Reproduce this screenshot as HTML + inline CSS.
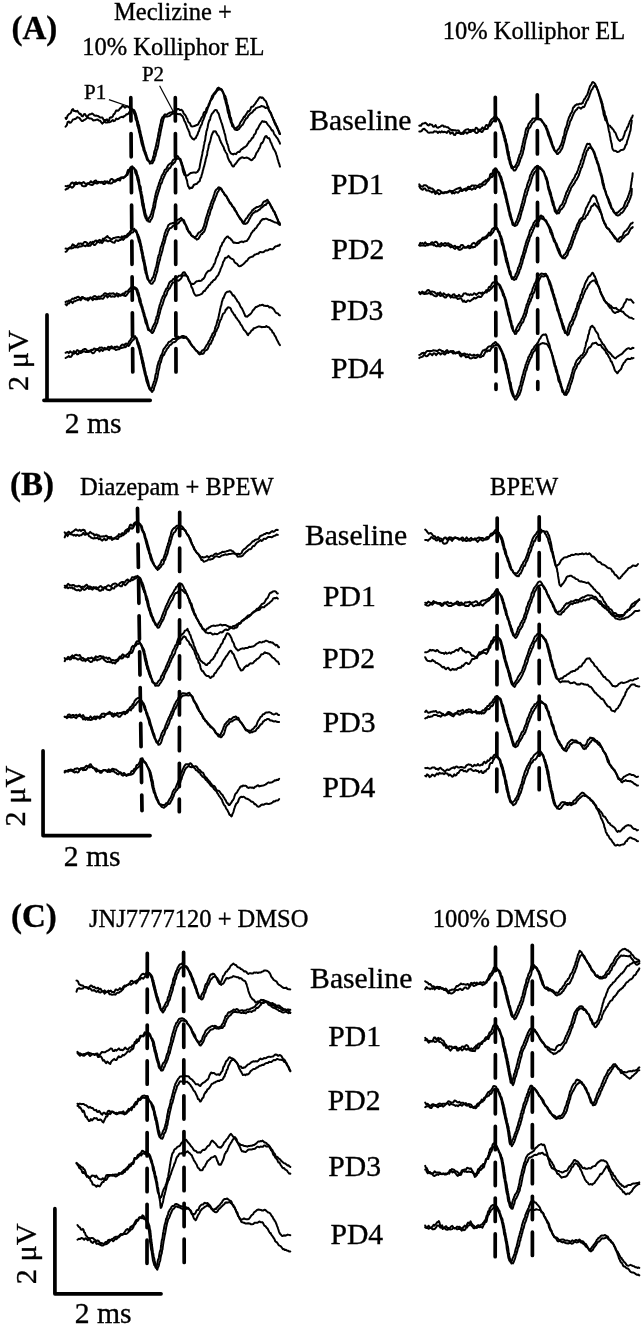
<!DOCTYPE html>
<html><head><meta charset="utf-8"><style>
html,body{margin:0;padding:0;background:#fff;}
svg{display:block;}
text{font-family:"Liberation Serif", "Times New Roman", serif;fill:#000;stroke:#000;stroke-width:0.35px;}
</style></head><body>
<svg width="644" height="1329" viewBox="0 0 644 1329">
<rect width="644" height="1329" fill="#fff"/>
<g fill="none" stroke="#000" stroke-width="2.0" stroke-linejoin="round" stroke-linecap="round">
<path d="M65.6,117.9L66.2,119.0 66.8,118.1 67.6,115.6 68.4,114.8 69.2,113.9 70.1,113.6 71.0,112.6 72.0,109.8 73.0,109.1 74.0,110.9 75.1,110.9 76.2,111.6 77.3,110.7 78.5,112.5 79.6,113.9 80.6,113.8 81.7,116.1 82.8,116.4 83.9,114.2 85.0,114.1 86.1,116.0 87.3,117.0 88.4,115.3 89.6,114.3 90.8,114.3 91.9,113.5 93.1,114.1 94.2,115.3 95.4,115.8 96.5,115.6 97.7,115.9 98.8,116.5 100.0,117.5 101.2,117.4 102.4,117.5 103.6,119.9 104.8,120.1 105.9,120.0 107.0,119.4 108.0,121.3 109.0,120.5 109.8,117.8 110.6,117.3 111.3,117.6 112.0,117.1 112.8,116.4 113.6,114.3 114.4,114.0 115.2,112.5 116.1,110.6 117.0,110.5 118.0,110.8 119.0,109.9 120.1,108.4 121.2,107.6 122.4,105.8 123.7,106.3 124.9,107.7 126.2,106.8 127.5,106.4 128.7,107.3 129.9,108.0 130.8,108.4 131.7,108.5 132.3,109.3 132.9,110.5 133.4,112.0 133.9,112.8 134.2,113.5 134.6,114.4 134.8,114.6 135.1,115.6 135.4,117.8 135.7,119.4 136.0,119.9 136.3,120.5 136.7,121.3 137.0,123.2 137.3,125.3 137.6,126.3 138.0,127.2 138.2,128.4 138.5,128.7 138.7,130.1 139.0,131.9 139.2,132.5 139.5,133.2 139.7,134.2 140.0,135.9 140.3,137.5 140.5,137.6 140.8,139.7 141.1,141.2 141.4,142.5 141.6,143.4 141.9,144.5 142.2,145.2 142.4,146.1 142.7,146.8 143.1,147.6 143.4,149.8 143.8,150.8 144.3,151.6 144.7,153.2 145.2,154.5 145.6,155.5 146.1,156.7 146.5,158.1 146.9,159.3 147.3,160.1 147.7,160.5 148.2,160.6 148.9,161.2 149.8,161.5 150.8,161.7 151.6,161.2 152.2,160.2 152.6,159.2 152.9,158.2 153.2,156.6 153.5,156.2 153.8,154.9 154.1,152.7 154.4,151.2 154.8,150.3 155.1,150.0 155.4,148.1 155.7,146.7 156.0,146.1 156.2,144.7 156.5,143.1 156.7,142.2 156.9,141.5 157.2,139.9 157.4,138.9 157.6,138.4 157.9,136.9 158.1,135.4 158.3,134.2 158.6,132.5 158.8,131.7 159.0,130.7 159.2,129.2 159.4,128.2 159.6,128.3 159.8,126.9 160.1,125.2 160.4,124.5 160.7,123.3 161.0,120.8 161.3,119.4 161.6,118.9 161.9,118.7 162.2,117.4 162.7,117.1 163.4,116.3 164.2,115.2 165.1,114.3 166.2,114.8 167.3,114.3 168.6,113.3 169.9,112.6 171.2,112.6 172.4,112.0 173.7,111.5 174.9,110.8 176.2,110.3 177.4,109.0 178.6,109.0 179.8,109.9 180.8,109.9 181.6,109.7 182.3,110.8 182.9,111.3 183.5,113.1 184.1,114.0 184.7,114.5 185.3,115.2 186.0,116.2 186.6,118.3 187.3,118.7 187.9,120.8 188.6,122.4 189.3,122.8 190.0,123.3 190.6,125.2 191.4,126.3 192.2,126.4 193.3,126.3 194.4,126.0 195.7,125.5 196.8,124.9 197.8,124.7 198.5,123.6 199.2,122.1 199.8,121.1 200.3,120.7 200.9,119.2 201.4,118.1 202.0,117.0 202.5,116.7 203.0,115.6 203.6,113.3 204.1,112.3 204.7,111.9 205.2,112.1 205.8,110.8 206.3,109.0 206.9,107.7 207.4,107.5 207.8,107.0 208.2,106.0 208.7,104.3 209.2,103.8 209.6,102.5 210.1,101.2 210.6,100.6 211.1,98.7 211.5,97.9 212.0,96.1 212.6,95.3 213.1,95.2 213.8,93.4 214.6,92.7 215.5,91.6 216.3,90.6 217.1,88.9 217.9,87.9 218.7,87.6 219.4,88.3 220.0,88.5 220.7,89.4 221.3,90.0 221.8,90.0 222.4,91.4 222.9,92.2 223.4,93.4 223.9,95.0 224.3,97.4 224.6,98.7 224.9,99.6 225.2,100.1 225.5,101.6 225.8,103.0 226.1,103.7 226.4,105.0 226.6,105.7 226.9,106.6 227.2,108.3 227.5,110.4 227.7,111.4 228.0,112.8 228.3,113.3 228.7,114.2 229.0,116.2 229.3,117.4 229.6,117.5 229.9,119.1 230.2,119.5 230.5,120.7 230.9,122.5 231.2,122.6 231.7,123.9 232.2,126.3 232.9,126.8 233.6,127.1 234.4,127.7 235.1,128.3 235.8,128.7 236.5,127.6 237.2,127.7 237.9,126.5 238.7,126.2 239.4,125.0 240.2,122.9 240.9,121.6 241.6,120.9 242.2,119.7 242.8,119.2 243.5,117.5 244.1,116.6 244.8,116.9 245.4,115.3 246.1,114.5 246.7,113.4 247.4,112.1 248.1,111.0 248.8,111.4 249.5,110.9 250.3,109.7 251.0,107.5 251.7,106.7 252.5,106.7 253.2,106.4 254.0,105.1 254.7,104.3 255.6,103.2 256.4,101.6 257.3,100.7 258.1,99.4 259.0,98.2 259.8,97.2 260.6,97.2 261.3,97.9 262.1,97.4 262.9,97.9 263.7,98.8 264.4,100.1 265.2,100.4 265.8,101.3 266.3,102.3 266.8,103.4 267.2,105.2 267.6,106.2 268.0,106.3 268.4,107.3 268.8,108.8 269.2,110.1 269.7,111.2 270.1,111.7 270.6,112.5 271.0,113.9 271.5,115.0 272.0,116.7 272.4,117.2 272.9,118.2 273.4,120.1 273.9,121.1 274.5,122.8 275.0,123.8 275.5,125.1 276.1,125.4 276.6,127.0 277.2,128.4 277.7,128.8 278.2,130.6 278.6,130.8 279.0,132.4 279.4,133.7 279.7,134.0 280.0,133.8"/><path d="M65.6,126.7L66.7,125.4 67.6,122.2 68.8,121.5 69.9,122.8 71.0,122.3 72.0,121.0 73.0,119.4 74.0,119.3 75.1,119.1 76.2,118.4 77.3,117.1 78.5,117.6 79.6,118.1 80.6,119.6 81.7,120.9 82.8,121.1 83.9,120.1 85.0,119.6 86.1,118.8 87.3,117.8 88.4,117.7 89.6,118.6 90.8,118.5 91.9,118.9 93.1,120.4 94.2,120.2 95.4,120.2 96.5,119.7 97.7,119.5 98.8,120.5 100.0,120.7 101.1,122.1 102.3,123.6 103.4,122.5 104.6,121.2 105.7,122.6 106.9,122.6 108.0,122.2 109.2,122.3 110.4,121.8 111.6,121.1 112.8,120.0 113.9,121.2 115.0,120.7 116.2,118.5 117.4,119.2 118.6,118.8 119.8,117.6 120.9,117.1 122.1,116.8 123.2,117.2 124.3,116.0 125.4,115.6 126.5,114.2 127.6,114.3 128.7,113.3 129.7,111.5 130.8,110.8 131.7,110.7 132.6,110.2 133.4,109.8 134.2,110.1 134.8,111.4 135.4,113.0 135.8,113.7 136.1,115.4 136.4,115.8 136.6,117.2 136.9,117.8 137.2,119.5 137.5,120.4 137.8,121.1 138.1,122.3 138.4,123.7 138.7,124.7 139.0,125.5 139.3,126.6 139.6,128.3 139.8,130.1 140.1,130.6 140.3,131.0 140.6,133.0 140.8,134.3 141.1,135.4 141.3,135.8 141.6,137.2 141.9,137.8 142.1,139.5 142.4,140.3 142.7,141.5 143.0,143.4 143.2,143.7 143.5,145.3 143.8,146.8 144.0,147.0 144.3,148.0 144.6,150.0 145.0,150.8 145.4,152.1 145.8,152.5 146.2,154.0 146.6,155.2 147.0,156.9 147.4,157.7 147.9,159.5 148.3,159.7 148.7,161.1 149.0,161.2 149.4,162.2 149.9,163.6 150.5,163.3 151.4,163.2 152.4,163.3 153.2,161.7 153.8,160.3 154.2,160.3 154.5,158.5 154.8,157.1 155.1,156.7 155.4,156.2 155.7,155.2 156.0,153.1 156.4,151.9 156.7,150.4 157.0,149.8 157.3,149.2 157.6,148.2 157.8,147.3 158.1,146.1 158.3,145.0 158.5,143.6 158.8,141.9 159.0,140.4 159.2,139.6 159.5,137.9 159.7,136.4 159.9,135.8 160.2,135.1 160.4,133.1 160.6,132.3 160.8,131.1 161.0,130.0 161.2,128.8 161.4,128.7 161.7,126.9 162.0,125.8 162.3,124.1 162.6,122.3 162.9,121.7 163.2,120.2 163.5,119.0 163.8,118.1 164.3,117.4 165.0,116.6 165.8,116.6 166.7,116.2 167.8,116.4 168.9,116.1 170.2,115.5 171.5,114.1 172.8,113.8 174.1,113.4 175.3,113.7 176.6,113.8 177.8,114.1 179.1,114.2 180.2,114.1 181.2,115.0 181.9,115.8 182.5,115.9 182.9,116.8 183.4,118.2 183.8,119.1 184.3,120.9 184.8,121.4 185.2,122.1 185.7,123.4 186.2,124.6 186.7,125.8 187.1,127.3 187.6,128.4 188.2,129.4 188.7,130.9 189.3,132.0 189.8,134.3 190.4,135.9 190.9,136.6 191.5,137.2 192.0,138.2 192.6,138.9 193.1,138.8 193.6,139.5 194.2,139.6 194.7,138.7 195.3,138.1 195.8,138.1 196.3,136.7 196.9,135.6 197.4,134.9 198.0,133.1 198.5,131.5 199.0,131.2 199.4,129.4 199.8,127.9 200.3,127.5 200.7,125.9 201.1,125.1 201.6,124.8 202.0,123.4 202.5,121.3 202.9,120.6 203.4,119.6 203.8,118.4 204.3,117.1 204.7,116.3 205.1,114.6 205.6,113.7 206.0,113.0 206.4,112.4 206.9,110.4 207.3,109.8 207.7,108.2 208.1,107.4 208.6,106.2 209.0,105.3 209.4,104.6 209.8,103.1 210.2,101.5 210.7,100.3 211.2,99.5 211.7,99.4 212.3,98.4 212.8,97.7 213.4,96.1 213.9,94.2 214.5,94.2 215.1,93.7 215.8,92.7 216.7,91.2 217.8,90.0 218.9,89.5 219.9,89.5 220.8,88.9 221.6,89.4 222.2,90.3 222.8,91.8 223.4,92.9 223.9,94.2 224.5,95.2 225.0,95.6 225.5,96.6 225.9,98.1 226.2,99.0 226.5,100.3 226.8,102.0 227.1,103.5 227.4,104.4 227.7,105.6 228.0,105.8 228.2,107.5 228.5,109.5 228.8,109.7 229.1,110.8 229.3,111.5 229.6,112.8 229.9,115.3 230.3,116.9 230.6,117.4 230.9,117.7 231.2,118.9 231.5,120.2 231.8,121.9 232.1,123.0 232.5,123.6 232.8,124.5 233.3,125.1 233.8,127.1 234.5,129.1 235.2,129.7 236.0,129.4 236.7,130.1 237.5,130.1 238.3,129.2 239.1,129.0 239.9,127.6 240.8,126.6 241.7,125.3 242.5,124.9 243.2,123.7 244.0,122.2 244.7,120.6 245.4,119.7 246.1,118.4 246.8,118.2 247.5,117.6 248.2,115.8 249.0,115.1 249.7,114.2 250.6,113.3 251.4,112.8 252.4,112.3 253.2,111.1 254.1,110.0 254.9,109.7 255.8,108.3 256.9,107.9 258.0,107.4 259.1,107.1 260.2,106.8 261.3,105.9 262.4,106.3 263.5,106.4 264.5,107.1 265.5,107.9 266.5,107.8 267.5,107.6 268.3,109.1 269.0,110.6 269.6,111.7 270.1,112.3 270.6,113.1 271.1,113.3 271.6,115.4 272.1,116.5 272.6,117.4 273.1,119.0 273.6,119.9 274.1,120.0 274.6,121.9 275.1,122.9 275.6,123.4 276.1,125.1 276.6,126.1 277.2,126.9 277.7,128.6 278.1,129.2 278.6,130.7 279.0,131.5 279.4,132.1 279.7,133.2 280.0,134.0"/><path d="M65.6,186.1L66.7,186.4 67.6,185.8 68.8,185.8 70.1,185.1 71.3,182.9 72.6,182.5 73.9,184.0 75.0,182.6 76.2,182.3 77.4,183.9 78.6,183.1 79.8,183.5 81.0,183.0 82.3,182.9 83.6,182.1 84.9,183.3 86.2,184.1 87.4,183.2 88.6,183.4 89.7,182.7 90.9,181.2 92.1,182.5 93.3,182.2 94.6,180.9 95.9,180.4 97.1,182.2 98.4,181.8 99.6,182.3 100.8,182.7 102.0,182.5 103.3,182.5 104.6,181.3 105.9,181.8 107.1,181.3 108.3,182.3 109.4,181.9 110.6,179.4 111.8,178.9 112.9,179.6 114.0,181.4 115.1,180.3 116.2,180.0 117.5,179.0 118.8,178.8 120.0,178.1 121.1,177.5 122.2,177.6 123.2,177.4 124.1,177.4 124.9,176.3 125.6,175.9 126.2,174.9 126.8,173.9 127.4,171.9 128.0,170.0 128.7,170.1 129.4,169.4 130.1,168.1 130.8,167.0 131.5,166.6 132.2,166.3 132.9,167.5 133.6,168.3 134.2,168.8 134.8,169.9 135.2,172.3 135.5,173.4 135.8,173.1 136.1,174.7 136.4,175.2 136.7,175.7 137.0,177.1 137.3,179.1 137.6,180.3 137.8,180.4 138.1,182.0 138.4,182.8 138.7,184.8 139.0,185.8 139.2,187.7 139.4,188.9 139.6,189.4 139.8,190.9 140.0,191.0 140.2,191.7 140.4,193.4 140.6,194.0 140.8,195.3 141.0,197.0 141.2,198.4 141.4,198.9 141.6,200.0 141.8,202.2 142.0,203.0 142.2,204.9 142.4,205.9 142.6,206.1 142.8,207.1 143.1,208.3 143.4,209.8 143.7,211.2 144.0,212.5 144.3,214.1 144.7,215.7 145.0,216.2 145.3,217.1 145.6,218.2 146.0,218.4 146.3,219.2 146.8,220.5 147.5,220.2 148.3,219.3 149.1,217.7 149.8,217.0 150.3,216.2 150.7,214.6 151.0,214.3 151.4,213.3 151.7,211.5 152.0,210.9 152.3,209.7 152.7,208.6 153.0,207.1 153.2,206.4 153.4,205.3 153.7,203.2 153.9,202.1 154.1,202.2 154.3,201.5 154.5,199.4 154.7,198.4 155.0,197.5 155.2,196.0 155.5,194.8 155.7,193.7 156.0,192.8 156.3,191.9 156.6,190.5 157.0,189.6 157.3,188.8 157.7,186.9 158.0,186.4 158.4,185.7 158.8,183.9 159.1,182.8 159.5,182.4 159.9,180.8 160.3,179.6 160.7,179.0 161.1,178.2 161.5,176.3 162.0,175.4 162.4,174.6 162.9,174.3 163.4,173.0 163.9,172.3 164.4,170.5 165.0,169.7 165.7,169.4 166.4,168.8 167.1,167.1 167.9,165.6 168.7,164.6 169.5,164.2 170.3,163.3 171.1,163.3 171.9,162.4 172.7,160.5 173.6,159.5 174.4,159.3 175.2,158.4 176.0,157.7 176.8,156.5 177.5,156.0 178.2,156.7 178.8,158.0 179.3,158.5 179.9,159.7 180.4,161.2 180.9,162.6 181.3,163.9 181.7,165.6 182.0,165.7 182.3,166.8 182.6,169.5 183.0,171.1 183.3,172.3 183.7,172.8 184.1,174.3 184.5,175.0 185.2,174.7 186.1,175.5 187.2,175.6 188.4,174.8 189.7,173.8 190.9,172.9 192.2,172.7 193.4,172.5 194.6,172.4 195.7,172.8 196.8,172.2 197.7,171.8 198.2,170.2 198.6,170.4 198.9,169.6 199.2,169.0 199.5,168.0 199.7,166.8 200.0,165.0 200.3,163.1 200.5,162.6 200.8,160.7 201.0,159.6 201.3,158.9 201.5,157.5 201.8,156.2 202.0,155.6 202.3,153.9 202.5,152.1 202.8,150.9 203.0,150.5 203.2,149.1 203.5,148.2 203.7,146.5 203.9,145.0 204.1,144.5 204.3,143.7 204.5,141.9 204.8,141.5 205.0,140.8 205.2,139.6 205.4,138.1 205.6,135.9 205.8,135.6 206.0,134.8 206.2,132.6 206.4,131.6 206.6,130.8 206.9,130.2 207.1,129.2 207.4,128.2 207.7,127.2 208.0,124.8 208.4,123.3 208.7,122.2 209.1,120.9 209.4,120.0 209.8,120.3 210.2,119.0 210.5,116.9 210.9,116.2 211.3,115.2 211.7,114.2 212.2,113.4 213.0,112.7 213.8,111.6 214.7,110.4 215.6,109.9 216.3,110.2 216.9,110.5 217.4,111.8 217.7,112.7 218.1,112.9 218.5,113.2 218.9,114.3 219.3,115.8 219.7,117.4 220.2,118.9 220.6,119.8 221.1,121.6 221.5,122.7 221.9,123.6 222.2,124.6 222.5,125.8 222.8,127.1 223.1,127.8 223.4,129.2 223.7,129.9 224.0,130.8 224.3,132.4 224.7,133.8 225.0,134.2 225.3,135.8 225.6,137.4 225.9,139.4 226.3,140.7 226.6,141.2 226.9,143.0 227.2,144.0 227.6,144.3 227.9,145.3 228.2,146.2 228.5,148.0 228.8,149.1 229.0,150.1 229.4,150.9 229.9,151.8 230.6,153.1 231.4,153.8 232.3,153.9 233.2,154.5 234.1,153.8 235.1,153.8 236.0,154.2 236.9,152.9 237.7,152.1 238.7,151.8 239.6,151.9 240.6,150.2 241.6,149.1 242.6,149.1 243.5,147.6 244.4,147.6 245.2,146.8 246.0,146.2 246.8,145.5 247.5,144.2 248.3,143.2 249.1,141.5 249.8,141.3 250.6,140.4 251.3,139.5 252.0,138.0 252.6,138.0 253.2,137.4 253.9,135.2 254.5,134.4 255.1,134.0 255.6,133.2 256.1,131.4 256.5,130.1 257.0,129.4 257.5,129.1 258.0,128.3 258.7,126.8 259.3,125.5 260.0,124.4 260.8,123.2 261.5,122.2 262.3,121.1 263.1,121.4 263.9,121.9 264.7,121.5 265.5,122.1 266.3,122.1 267.1,123.6 267.9,124.8 268.7,125.7 269.5,126.6 270.4,127.7 271.2,129.2 271.9,130.4 272.6,130.3 273.2,131.2 273.9,133.3 274.5,134.7 275.2,135.2 275.8,136.1 276.5,137.4 277.1,137.8 277.7,138.8 278.3,139.8 278.8,141.2 279.2,141.7 279.6,142.3 280.0,143.7"/><path d="M65.6,189.6L66.7,188.8 67.6,188.7 68.8,187.4 69.9,186.4 71.0,186.9 72.0,187.8 73.0,187.1 74.0,185.9 75.1,184.1 76.2,184.1 77.4,183.3 78.6,182.7 79.8,182.6 81.0,183.6 82.3,185.9 83.6,186.3 84.9,186.2 86.2,185.7 87.4,183.8 88.6,183.6 89.7,184.4 90.9,184.8 92.1,185.0 93.3,184.4 94.6,182.4 95.9,183.2 97.1,183.6 98.4,182.8 99.6,181.9 100.8,182.2 102.0,181.8 103.3,183.9 104.6,184.0 105.9,182.8 107.1,182.2 108.3,183.4 109.4,183.0 110.6,183.5 111.8,183.3 112.9,182.1 114.0,181.6 115.1,181.8 116.2,181.0 117.5,179.8 118.8,180.0 120.0,180.5 121.1,178.1 122.3,177.4 123.4,178.2 124.4,177.0 125.3,176.7 126.1,175.8 126.8,174.9 127.5,175.0 128.3,172.7 129.1,171.7 129.9,170.5 130.7,169.9 131.5,168.5 132.3,167.8 133.1,168.0 133.8,167.7 134.5,168.7 135.2,170.0 135.8,170.1 136.4,171.0 136.8,172.6 137.1,174.4 137.4,175.0 137.7,175.3 138.0,176.3 138.3,177.2 138.6,178.5 138.9,179.3 139.2,181.4 139.4,183.2 139.7,184.5 140.0,185.6 140.3,186.7 140.6,186.6 140.8,188.0 141.0,190.2 141.2,191.0 141.4,191.7 141.6,193.4 141.8,194.3 142.0,195.4 142.2,195.8 142.4,196.8 142.6,198.2 142.8,199.1 143.0,200.8 143.2,202.7 143.4,203.0 143.6,203.3 143.8,204.4 144.0,205.9 144.2,207.8 144.4,208.4 144.7,209.1 145.0,210.5 145.3,213.0 145.6,213.8 145.9,214.6 146.3,215.5 146.6,216.7 146.9,218.2 147.2,219.8 147.6,219.9 147.9,220.4 148.4,221.5 149.1,221.6 149.9,221.9 150.7,220.0 151.4,219.2 151.9,218.5 152.3,217.2 152.6,216.8 153.0,214.9 153.3,213.2 153.6,212.0 153.9,210.3 154.3,209.4 154.6,208.3 154.8,208.1 155.0,207.1 155.3,205.3 155.5,203.5 155.7,202.6 155.9,201.5 156.1,200.3 156.3,199.5 156.6,199.1 156.8,197.1 157.1,195.9 157.3,196.0 157.6,194.8 157.9,194.0 158.3,192.3 158.7,191.6 159.0,190.2 159.4,189.2 159.8,187.9 160.2,186.2 160.6,184.3 161.0,183.5 161.4,183.6 161.8,182.8 162.2,181.6 162.7,179.6 163.1,178.8 163.6,178.0 164.0,176.8 164.5,175.9 165.0,174.6 165.5,173.7 166.0,172.6 166.6,171.3 167.3,171.2 168.0,170.2 168.7,168.2 169.5,168.4 170.3,167.7 171.1,166.1 171.9,164.5 172.7,164.5 173.5,163.0 174.3,163.0 175.2,161.6 176.0,159.5 176.8,158.7 177.6,158.8 178.4,158.5 179.1,158.8 179.7,159.3 180.3,158.9 180.8,159.7 181.3,161.9 181.8,162.5 182.2,164.5 182.6,165.0 183.0,166.9 183.4,168.1 183.7,169.2 184.1,170.1 184.5,171.5 184.8,171.9 185.1,173.3 185.3,174.2 185.6,176.1 185.9,177.2 186.1,178.0 186.4,179.1 186.7,179.6 187.1,180.9 187.4,183.0 187.7,184.4 188.0,185.9 188.3,186.4 188.7,186.5 189.0,187.5 189.5,188.7 190.2,188.4 191.0,187.6 191.9,188.0 192.8,187.0 193.7,185.0 194.7,184.5 195.6,184.1 196.6,184.1 197.6,182.9 198.5,181.9 199.3,181.4 199.8,181.0 200.2,178.9 200.5,177.9 200.8,177.9 201.2,177.4 201.5,175.8 201.8,174.6 202.1,174.1 202.5,172.6 202.8,170.6 203.1,170.1 203.5,168.2 203.8,167.0 204.1,166.5 204.4,165.0 204.7,164.1 205.0,162.3 205.3,161.8 205.6,159.9 205.9,158.5 206.2,157.9 206.4,156.7 206.7,155.9 207.0,155.3 207.2,153.7 207.4,151.5 207.7,150.7 207.9,150.0 208.1,149.0 208.4,148.2 208.6,146.7 208.8,144.9 209.1,144.3 209.3,144.2 209.6,142.8 209.9,142.2 210.2,141.4 210.6,139.6 211.0,138.1 211.3,136.5 211.7,135.0 212.1,134.4 212.5,133.1 213.0,132.5 213.4,131.4 213.9,131.6 214.4,131.5 214.9,131.3 215.4,131.3 215.9,131.6 216.5,133.2 217.0,133.9 217.6,135.1 218.2,135.5 218.8,136.5 219.4,138.1 220.0,140.2 220.5,140.9 221.1,142.7 221.6,143.4 222.1,144.4 222.6,145.3 223.1,146.4 223.5,146.8 224.0,148.4 224.5,150.1 224.9,150.3 225.4,151.7 225.8,152.3 226.3,153.0 226.7,153.5 227.2,154.7 227.7,157.2 228.2,158.5 228.7,159.5 229.3,160.8 229.9,161.9 230.4,162.0 231.0,163.4 231.5,164.4 232.1,165.4 232.6,166.4 233.2,166.6 233.9,166.3 234.6,164.6 235.4,164.1 236.1,163.2 236.9,162.1 237.7,160.9 238.6,160.0 239.5,158.6 240.4,158.5 241.4,157.4 242.5,157.3 243.7,157.9 245.0,157.9 246.2,157.6 247.5,157.8 248.7,158.4 250.0,159.4 251.2,160.2 252.3,159.8 253.3,158.5 254.1,157.9 254.7,157.5 255.2,156.0 255.7,154.9 256.3,153.3 256.8,152.4 257.3,151.9 257.9,151.1 258.5,149.8 259.0,148.5 259.6,148.1 260.2,146.5 260.8,144.3 261.4,143.1 262.1,143.2 262.7,142.3 263.4,140.8 264.0,139.1 264.7,137.5 265.3,136.4 266.0,136.1 266.6,136.2 267.2,137.5 267.8,138.1 268.4,138.2 269.0,138.1 269.5,138.9 270.1,140.5 270.7,142.4 271.3,142.9 271.9,144.9 272.5,146.2 273.0,147.4 273.5,148.9 274.0,149.2 274.5,150.3 274.9,150.9 275.4,151.8 275.9,153.0 276.3,154.6 276.8,155.7 277.2,157.1 277.7,159.5 278.1,160.2 278.5,162.0 278.8,163.0 279.2,163.9 279.5,164.8 279.7,165.9 280.0,166.6"/><path d="M65.6,248.6L66.7,248.7 67.6,248.7 68.8,248.6 70.1,247.8 71.3,247.0 72.6,244.4 73.8,245.0 75.0,246.3 76.1,245.8 77.2,245.6 78.4,243.6 79.5,243.8 80.7,243.4 81.8,244.0 83.0,243.7 84.3,242.0 85.5,242.0 86.8,242.6 88.0,244.3 89.2,243.7 90.4,242.1 91.6,243.0 92.8,241.7 94.0,242.1 95.1,240.8 96.3,240.5 97.4,242.1 98.6,240.3 99.8,239.8 100.9,241.4 102.0,240.5 103.0,238.6 104.1,239.2 105.2,237.9 106.3,237.1 107.4,236.0 108.5,237.6 109.6,237.9 110.8,239.0 112.0,239.2 113.3,238.0 114.5,237.9 115.8,237.5 117.1,237.2 118.4,237.0 119.6,237.6 120.8,237.8 121.9,236.4 122.9,237.3 123.9,236.3 124.9,235.8 125.9,236.4 126.9,235.0 127.8,233.8 128.7,233.3 129.6,232.5 130.4,230.9 131.3,230.8 132.1,229.2 132.9,229.5 133.6,229.5 134.3,228.8 134.9,230.2 135.5,230.9 136.0,232.1 136.5,232.6 136.9,233.7 137.3,235.4 137.7,237.4 138.0,237.7 138.4,239.4 138.7,241.0 139.0,242.0 139.3,242.3 139.7,243.4 140.0,244.9 140.2,246.3 140.5,246.7 140.7,248.5 140.9,250.0 141.2,251.0 141.4,251.2 141.6,253.2 141.8,253.5 142.1,254.9 142.3,256.8 142.5,258.3 142.8,258.9 143.0,260.6 143.2,261.3 143.5,261.9 143.7,262.9 143.9,263.8 144.1,264.8 144.4,266.2 144.6,268.4 144.8,269.8 145.0,269.6 145.3,270.5 145.5,272.8 145.8,273.4 146.1,274.0 146.5,275.2 146.9,277.2 147.4,278.9 147.9,279.5 148.4,280.2 148.9,280.6 149.5,281.8 150.2,280.8 150.9,280.7 151.6,280.1 152.3,278.1 152.9,277.6 153.3,277.0 153.7,275.6 154.1,274.3 154.4,272.3 154.8,271.3 155.1,270.0 155.4,269.6 155.7,267.9 156.0,267.1 156.2,266.9 156.5,265.9 156.7,264.8 156.9,263.1 157.1,262.0 157.4,261.1 157.6,259.5 157.9,257.9 158.2,256.8 158.5,255.4 158.8,254.9 159.1,254.8 159.4,253.7 159.7,251.9 160.1,250.3 160.4,248.6 160.8,247.0 161.1,246.2 161.5,245.9 161.8,244.8 162.1,243.1 162.4,242.5 162.7,241.5 163.1,240.3 163.4,239.0 163.8,237.7 164.1,236.0 164.4,235.0 164.7,233.5 165.0,232.8 165.3,232.3 165.7,231.2 166.1,229.8 166.6,229.4 167.2,228.1 167.8,226.6 168.5,224.9 169.2,224.6 170.1,223.7 171.2,223.6 172.4,223.1 173.6,223.0 174.8,222.4 176.0,221.6 177.1,220.2 178.2,219.6 179.2,219.1 180.2,218.5 181.1,217.9 181.9,218.9 182.6,219.8 183.2,220.8 183.8,222.4 184.4,223.6 185.0,224.1 185.5,225.0 186.0,225.8 186.5,227.8 186.9,229.2 187.5,229.7 188.0,230.9 188.7,232.0 189.3,232.8 190.1,233.2 190.9,234.8 191.8,235.6 192.6,236.3 193.4,236.5 194.3,237.0 195.2,237.1 196.2,236.3 197.1,235.3 198.1,233.3 198.9,232.4 199.8,232.2 200.6,231.7 201.3,230.6 202.1,230.2 202.8,229.1 203.3,227.3 203.8,226.7 204.1,225.4 204.4,224.1 204.7,223.2 205.0,222.3 205.3,221.1 205.6,219.8 205.8,218.6 206.1,218.0 206.4,217.0 206.7,216.2 207.0,215.1 207.4,213.7 207.7,213.2 208.1,211.1 208.4,210.3 208.8,209.3 209.2,208.3 209.5,207.1 209.9,206.9 210.3,205.3 210.6,203.8 211.0,203.3 211.4,201.8 211.7,201.2 212.1,200.0 212.5,199.3 212.9,198.8 213.2,197.5 213.6,195.9 213.9,195.2 214.3,194.1 214.7,192.5 215.2,191.1 215.7,190.5 216.3,189.5 217.0,189.0 217.7,188.4 218.4,187.4 219.1,187.2 219.8,188.2 220.5,187.8 221.3,188.8 222.1,190.7 222.9,191.9 223.6,192.3 224.2,193.9 224.9,195.3 225.6,195.6 226.3,196.4 226.9,197.2 227.6,198.5 228.3,200.4 229.0,200.9 229.6,202.6 230.3,203.6 230.9,203.9 231.5,204.5 232.2,206.2 232.8,206.6 233.3,207.2 233.9,208.2 234.5,209.9 235.1,210.3 235.7,210.9 236.4,212.1 237.0,212.9 237.6,214.5 238.3,215.5 238.9,216.4 239.7,218.3 240.4,219.4 241.2,219.4 242.0,220.7 242.8,221.4 243.6,222.5 244.3,222.0 245.0,220.4 245.7,219.1 246.5,218.1 247.2,217.9 247.9,216.1 248.6,215.2 249.3,214.3 250.0,213.6 250.7,212.7 251.5,211.8 252.2,210.3 253.0,210.0 253.9,208.9 254.9,208.4 255.9,207.6 257.0,207.0 258.1,206.9 259.2,206.4 260.3,205.8 261.2,205.6 262.2,204.5 263.0,202.6 263.8,201.7 264.6,201.3 265.3,201.4 266.1,200.9 266.8,200.1 267.5,199.7 268.1,201.1 268.7,201.7 269.3,202.8 269.9,204.2 270.5,205.2 271.1,206.4 271.7,208.1 272.3,208.6 272.9,209.8 273.5,211.3 274.0,211.5 274.6,212.7 275.1,214.4 275.7,214.9 276.3,216.9 276.8,218.0 277.4,218.6 277.9,219.6 278.4,221.4 278.8,222.4 279.2,222.2 279.6,223.1 279.9,224.1"/><path d="M65.6,251.8L66.7,251.3 67.6,249.9 68.8,248.3 69.9,247.4 71.0,248.6 72.0,248.2 73.0,248.1 74.0,247.1 75.0,247.4 76.1,246.5 77.2,247.5 78.4,247.3 79.5,246.3 80.7,246.4 81.8,246.3 83.0,245.1 84.3,245.8 85.5,246.2 86.8,245.0 88.0,245.9 89.2,245.8 90.4,245.7 91.6,244.0 92.8,243.2 94.0,244.9 95.1,245.0 96.3,243.5 97.4,242.0 98.6,242.0 99.8,242.7 100.9,242.1 102.0,243.1 103.0,241.8 104.1,240.2 105.2,240.6 106.3,240.1 107.4,241.3 108.5,241.3 109.6,240.5 110.8,241.0 112.0,241.8 113.3,242.6 114.5,242.7 115.8,240.2 117.1,240.5 118.3,241.0 119.6,240.1 120.8,239.9 122.0,238.7 123.1,239.9 124.3,238.7 125.4,237.1 126.6,237.4 127.7,236.2 128.7,235.2 129.7,234.7 130.7,233.3 131.7,232.6 132.7,232.6 133.6,231.6 134.4,230.3 135.2,230.7 135.9,230.2 136.6,231.3 137.1,233.1 137.6,234.0 138.1,234.7 138.5,235.9 138.9,236.9 139.3,237.9 139.6,239.9 140.0,240.0 140.3,241.5 140.6,243.3 140.9,244.3 141.3,246.1 141.6,246.7 141.8,248.7 142.1,249.9 142.3,250.7 142.5,251.9 142.8,252.6 143.0,254.2 143.2,255.4 143.4,256.1 143.7,257.2 143.9,258.7 144.1,259.3 144.4,260.1 144.6,262.0 144.8,262.8 145.1,264.2 145.3,265.7 145.5,266.0 145.7,266.8 146.0,268.2 146.2,270.1 146.4,271.0 146.6,271.9 146.9,273.5 147.1,275.1 147.4,275.3 147.7,276.6 148.1,278.7 148.5,279.7 149.0,280.5 149.5,281.9 150.0,282.9 150.5,283.1 151.1,283.7 151.8,283.7 152.5,283.6 153.2,282.1 153.9,281.3 154.5,280.6 154.9,279.3 155.3,277.4 155.7,276.4 156.0,274.9 156.4,273.8 156.7,272.9 157.0,272.3 157.3,271.3 157.6,269.1 157.8,267.4 158.1,266.9 158.3,265.4 158.5,264.5 158.7,264.4 159.0,262.7 159.2,262.0 159.5,260.7 159.8,260.3 160.1,259.0 160.4,256.7 160.7,255.8 161.0,255.8 161.3,254.3 161.7,252.7 162.0,252.0 162.4,250.8 162.7,249.1 163.1,247.5 163.4,245.9 163.7,244.9 164.0,243.8 164.3,243.4 164.7,242.3 165.0,240.4 165.4,239.5 165.7,237.6 166.0,236.5 166.3,236.2 166.6,235.3 166.9,234.9 167.3,233.7 167.7,232.5 168.2,230.8 168.8,230.3 169.4,228.5 170.1,228.2 170.8,228.1 171.6,227.4 172.5,226.6 173.4,225.5 174.5,225.3 175.5,224.8 176.6,223.5 177.6,223.7 178.7,222.9 179.8,221.3 180.8,220.7 181.8,219.8 182.7,219.4 183.4,220.1 184.0,220.2 184.6,222.2 185.1,223.6 185.6,224.1 186.1,225.7 186.6,226.0 187.1,227.7 187.6,228.4 188.1,230.1 188.5,230.7 189.1,231.9 189.6,231.7 190.3,232.7 190.9,234.8 191.7,235.8 192.5,236.4 193.4,236.6 194.2,237.5 195.0,238.3 195.9,238.5 196.8,239.7 197.8,239.2 198.7,238.4 199.7,236.9 200.5,235.2 201.4,234.1 202.2,234.0 202.9,232.6 203.7,232.1 204.4,231.1 204.9,229.9 205.4,228.2 205.8,227.1 206.1,226.6 206.4,225.1 206.7,224.4 207.0,222.8 207.3,221.6 207.6,220.4 208.0,219.7 208.3,218.3 208.6,216.8 208.9,215.8 209.3,215.3 209.7,214.7 210.0,212.9 210.4,211.2 210.8,210.2 211.1,209.2 211.5,208.7 211.9,208.0 212.2,206.5 212.6,204.8 213.0,203.8 213.4,202.8 213.8,201.7 214.2,200.7 214.6,200.3 215.0,198.7 215.4,197.7 215.8,196.7 216.3,195.7 216.7,194.6 217.3,192.8 217.9,191.9 218.6,191.0 219.3,189.2 220.0,189.3 220.7,189.1 221.4,189.0 222.1,190.0 222.9,192.0 223.7,192.7 224.5,194.2 225.2,194.6 225.8,195.5 226.5,196.2 227.2,198.0 227.9,199.3 228.5,199.7 229.2,201.2 229.9,202.6 230.6,202.8 231.2,203.9 231.9,205.4 232.5,206.4 233.1,206.6 233.8,207.8 234.4,208.1 234.9,209.2 235.5,211.1 236.1,211.2 236.7,213.1 237.3,214.3 238.0,215.2 238.6,216.3 239.2,217.1 239.9,217.6 240.5,218.7 241.3,219.7 242.0,221.8 242.8,223.0 243.6,223.7 244.4,223.5 245.2,224.0 245.9,223.5 246.6,223.5 247.3,222.8 248.1,221.9 248.8,220.3 249.5,219.0 250.2,217.9 250.9,216.1 251.6,215.5 252.3,214.0 253.1,213.3 253.8,212.5 254.6,212.5 255.5,211.0 256.5,211.5 257.5,211.1 258.6,210.0 259.7,209.6 260.8,208.1 261.9,207.4 262.9,206.6 263.9,205.7 264.9,204.9 265.8,204.9 266.7,203.3 267.5,203.2 268.4,202.7 269.1,202.7 269.7,203.5 270.3,204.3 270.9,206.2 271.6,206.7 272.2,207.8 272.8,209.1 273.4,210.3 274.0,211.1 274.6,211.8 275.1,212.9 275.6,214.9 276.1,215.3 276.6,216.8 277.1,218.6 277.6,219.7 278.1,221.3 278.5,222.2 278.9,222.6 279.3,222.9 279.6,224.2 279.9,225.0"/><path d="M65.6,301.9L66.7,301.3 67.6,301.8 68.8,300.4 70.1,300.7 71.3,299.8 72.6,298.6 73.8,298.9 75.0,297.8 76.1,297.9 77.2,296.9 78.4,296.7 79.5,297.9 80.7,298.7 81.8,297.0 83.0,297.1 84.3,298.6 85.5,299.5 86.8,298.5 88.0,298.1 89.2,298.9 90.4,297.2 91.6,298.4 92.7,297.2 93.9,296.2 95.1,296.1 96.2,296.8 97.3,297.8 98.5,296.4 99.6,296.8 100.7,296.7 101.8,295.8 102.9,295.4 104.0,293.8 105.1,293.2 106.3,293.6 107.5,294.6 108.7,293.9 109.9,293.3 111.1,293.8 112.3,293.4 113.4,293.2 114.6,294.5 115.8,294.4 116.9,293.3 118.1,294.0 119.4,294.4 120.7,295.2 122.0,294.5 123.3,293.3 124.5,294.0 125.6,291.7 126.8,291.5 127.9,291.3 128.9,289.5 129.9,288.8 130.9,287.4 131.8,287.4 132.7,287.1 133.5,286.8 134.2,287.2 134.9,287.2 135.4,288.5 136.0,289.6 136.5,290.7 136.9,291.9 137.3,293.6 137.6,294.8 137.9,295.2 138.2,296.2 138.5,296.7 138.8,298.6 139.1,300.1 139.4,301.7 139.7,302.5 140.0,302.8 140.3,303.9 140.6,305.2 141.0,305.6 141.3,307.0 141.6,307.7 141.9,308.6 142.3,309.9 142.6,311.9 143.0,312.3 143.3,313.4 143.6,315.0 144.0,316.6 144.3,316.9 144.6,318.3 145.0,320.0 145.3,321.7 145.7,322.9 146.0,323.8 146.4,323.9 146.7,324.9 147.2,326.3 147.7,328.6 148.3,330.1 148.9,330.0 149.6,330.5 150.2,330.7 150.7,330.6 151.3,330.5 151.8,329.8 152.3,328.2 152.8,326.7 153.4,325.9 153.9,324.7 154.4,323.8 154.9,323.1 155.3,321.7 155.6,320.3 155.9,319.4 156.2,318.3 156.6,316.5 156.9,316.5 157.2,315.5 157.5,314.4 157.8,313.0 158.2,311.2 158.5,309.8 158.8,308.4 159.1,307.9 159.4,306.1 159.7,304.9 160.1,304.1 160.4,303.0 160.8,302.0 161.2,300.4 161.6,299.2 162.0,298.3 162.4,297.3 162.8,296.6 163.2,295.6 163.6,295.7 164.0,294.5 164.4,292.7 164.9,291.6 165.4,290.7 165.9,289.5 166.4,288.4 167.0,288.5 167.5,287.8 168.0,286.1 168.6,284.7 169.2,283.1 169.8,282.1 170.5,281.6 171.1,281.0 171.9,280.9 172.8,279.4 173.7,278.8 174.8,279.6 175.8,278.6 176.9,277.4 177.8,277.0 178.7,275.8 179.6,275.7 180.6,275.7 181.5,274.8 182.4,273.6 183.2,272.4 184.0,272.2 184.8,272.5 185.5,273.9 186.1,274.8 186.8,276.1 187.4,276.5 188.0,277.5 188.6,279.6 189.2,281.1 189.9,282.0 190.5,283.0 191.1,283.9 191.8,284.2 192.6,283.8 193.6,284.0 194.7,283.2 195.8,281.9 197.0,281.2 198.2,281.0 199.3,280.7 200.4,280.9 201.5,280.6 202.4,279.3 203.2,279.0 203.9,278.3 204.7,277.0 205.4,274.9 206.2,273.4 207.0,272.4 207.8,271.4 208.7,270.7 209.6,270.7 210.4,270.4 211.2,269.4 212.0,268.0 212.7,267.2 213.3,266.3 213.8,264.4 214.2,264.1 214.6,263.7 215.0,262.5 215.4,261.2 215.8,259.5 216.2,258.1 216.6,257.7 217.0,256.4 217.5,255.9 217.9,255.1 218.3,253.2 218.7,252.2 219.1,251.9 219.6,250.5 220.0,248.4 220.5,246.9 220.9,246.1 221.4,246.0 221.9,244.7 222.4,242.7 222.9,242.5 223.5,241.9 224.2,240.3 225.0,238.8 225.9,238.0 226.9,236.7 227.9,236.4 228.8,237.8 229.7,238.1 230.5,238.6 231.3,239.9 232.1,240.4 232.8,241.9 233.6,242.7 234.5,242.5 235.4,242.8 236.4,243.0 237.6,242.9 238.7,242.9 239.9,242.1 241.0,241.8 242.1,241.5 243.2,242.2 244.2,241.5 245.3,241.2 246.2,241.0 247.1,240.7 247.8,239.4 248.5,238.9 249.2,237.4 249.9,236.2 250.6,234.9 251.3,233.2 252.0,232.6 252.7,231.4 253.4,230.4 254.1,230.4 254.8,228.9 255.5,228.4 256.2,228.0 256.9,226.8 257.6,225.5 258.3,224.7 259.0,223.9 259.8,223.0 260.5,221.2 261.3,220.6 262.2,219.5 263.3,219.0 264.4,219.2 265.6,218.7 266.8,218.8 267.8,219.4 268.8,220.0 269.8,219.9 270.9,220.5 272.0,221.0 273.1,221.5 274.3,222.2 275.6,222.4 276.9,222.9 278.0,223.5 278.9,224.4 279.9,224.6"/><path d="M65.6,304.3L66.7,305.4 67.6,303.5 68.8,303.6 70.1,301.8 71.3,301.8 72.6,303.1 73.8,301.2 75.0,301.3 76.1,300.7 77.2,300.2 78.4,299.8 79.5,299.3 80.7,300.3 81.8,298.6 83.0,298.3 84.3,297.9 85.5,298.5 86.8,299.4 88.0,300.5 89.2,299.1 90.4,298.0 91.6,298.7 92.7,300.3 93.9,298.5 95.1,299.2 96.2,299.0 97.3,299.2 98.5,298.5 99.6,298.9 100.7,298.5 101.8,298.6 102.9,298.9 104.0,297.6 105.1,295.7 106.3,295.5 107.5,297.4 108.7,296.2 109.9,295.3 111.1,296.8 112.3,296.3 113.4,296.6 114.6,296.8 115.8,295.3 116.9,295.6 118.1,296.6 119.4,295.2 120.7,295.8 122.0,294.5 123.3,295.4 124.4,295.7 125.6,295.9 126.7,295.0 127.8,293.4 128.9,292.0 129.9,291.3 130.8,291.1 131.8,290.2 132.7,289.0 133.6,289.2 134.4,288.6 135.2,288.4 136.0,288.1 136.7,288.6 137.4,289.5 138.0,291.3 138.5,292.6 138.9,294.0 139.2,295.2 139.5,297.0 139.8,298.1 140.1,298.2 140.4,299.3 140.7,300.4 141.0,302.4 141.3,304.0 141.6,304.2 141.9,305.8 142.2,306.3 142.6,307.1 142.9,309.1 143.2,309.8 143.5,310.6 143.9,312.1 144.2,313.1 144.6,314.5 144.9,315.8 145.2,316.9 145.6,318.2 145.9,318.9 146.2,319.6 146.6,320.7 146.9,322.1 147.3,323.8 147.6,325.0 148.0,326.5 148.3,327.3 148.8,328.8 149.3,330.4 149.9,330.4 150.5,331.2 151.2,332.1 151.8,332.8 152.3,333.0 152.9,332.7 153.4,331.5 153.9,331.0 154.4,328.9 155.0,328.3 155.5,326.6 156.0,325.7 156.5,323.7 156.9,323.7 157.2,322.9 157.5,322.0 157.8,320.2 158.2,318.6 158.5,318.4 158.8,316.6 159.1,314.9 159.4,314.4 159.8,313.2 160.1,311.9 160.4,310.2 160.7,309.2 161.0,308.8 161.3,307.6 161.7,306.1 162.0,305.5 162.4,304.9 162.8,303.7 163.2,302.2 163.6,300.9 164.0,299.7 164.4,298.5 164.8,297.5 165.2,296.8 165.6,295.7 166.0,295.5 166.5,294.6 167.0,293.0 167.5,291.1 168.0,290.4 168.6,289.5 169.1,288.3 169.6,288.5 170.2,287.4 170.8,286.0 171.4,285.1 172.1,283.5 172.7,282.6 173.5,282.5 174.4,282.3 175.3,281.5 176.4,280.2 177.4,280.6 178.5,280.7 179.4,279.9 180.3,279.3 181.2,278.3 182.2,276.3 183.1,275.4 184.0,275.3 184.8,275.5 185.6,274.8 186.2,275.7 186.8,276.2 187.4,276.5 187.9,277.8 188.4,279.5 189.0,280.5 189.5,281.1 190.0,282.6 190.4,283.0 190.9,284.4 191.3,286.5 191.8,287.6 192.2,288.0 192.7,289.1 193.2,290.9 193.7,292.5 194.2,293.4 194.8,294.6 195.3,295.1 196.0,295.7 196.9,295.6 197.9,295.2 198.9,295.0 200.0,294.6 201.1,294.1 202.2,293.6 203.1,292.0 204.0,290.9 204.8,291.0 205.5,289.7 206.2,288.8 206.9,287.7 207.7,287.5 208.4,285.9 209.1,285.0 209.9,284.7 210.6,283.5 211.4,282.3 212.2,282.2 213.0,280.8 213.8,279.9 214.6,279.9 215.4,279.0 216.1,277.8 216.8,276.3 217.5,276.0 218.2,275.0 218.7,274.0 219.2,272.5 219.7,271.8 220.1,270.6 220.6,268.9 221.0,268.1 221.3,267.3 221.8,266.5 222.2,265.4 222.7,263.8 223.2,261.8 223.8,261.1 224.4,260.1 225.0,258.2 225.6,257.8 226.2,257.8 226.9,257.5 227.6,256.9 228.5,255.9 229.4,256.9 230.4,258.2 231.5,258.7 232.5,259.0 233.5,259.7 234.4,261.8 235.3,262.8 236.2,263.3 237.1,263.8 238.0,265.2 238.8,266.0 239.7,266.3 240.6,266.1 241.5,265.4 242.5,264.8 243.5,264.0 244.4,263.1 245.3,262.3 246.2,261.0 247.1,260.7 247.9,259.4 248.9,258.1 249.8,257.5 250.8,257.1 251.8,256.8 252.9,256.5 254.1,255.1 255.2,254.5 256.3,254.1 257.3,253.7 258.3,253.8 259.4,252.5 260.5,251.9 261.6,252.2 262.7,252.3 263.7,252.0 264.8,251.0 265.9,250.3 267.1,250.6 268.2,250.1 269.3,249.3 270.4,249.1 271.5,249.3 272.7,249.2 273.8,248.3 275.0,246.7 276.1,246.3 277.3,246.0 278.3,245.5 279.1,245.8 279.9,244.6"/><path d="M65.6,352.8L66.7,352.2 67.6,351.9 68.8,353.1 70.1,351.3 71.3,352.3 72.6,353.0 73.8,351.1 75.0,351.8 76.1,351.7 77.2,350.1 78.4,350.7 79.5,351.5 80.7,351.1 81.8,351.1 83.0,349.6 84.3,349.1 85.5,348.9 86.8,350.2 88.0,351.3 89.2,350.7 90.3,350.6 91.5,349.8 92.7,350.1 93.9,348.5 95.0,348.8 96.2,350.0 97.3,350.1 98.4,348.9 99.5,347.6 100.5,347.7 101.6,347.5 102.7,347.9 103.8,348.8 104.9,347.8 106.0,349.2 107.1,349.0 108.1,346.8 109.2,347.1 110.4,347.3 111.5,346.3 112.6,347.4 113.7,348.5 114.8,346.8 116.0,347.2 117.2,346.4 118.4,347.4 119.7,348.0 120.9,345.8 122.1,344.6 123.2,344.7 124.3,345.4 125.3,343.9 126.3,343.5 127.2,344.0 128.0,343.9 128.8,342.1 129.6,340.9 130.5,340.0 131.3,338.3 132.1,337.6 133.0,336.5 133.7,336.6 134.4,336.9 135.0,336.1 135.5,337.3 136.0,338.3 136.4,338.9 136.8,340.5 137.2,343.1 137.6,344.4 137.9,344.5 138.3,346.3 138.6,347.6 138.8,347.7 139.1,348.8 139.3,349.2 139.6,350.7 139.9,352.4 140.1,353.6 140.4,354.8 140.7,355.1 141.0,356.6 141.2,358.5 141.4,359.3 141.7,360.0 141.9,361.2 142.1,363.1 142.4,363.6 142.6,364.0 142.9,366.1 143.1,366.8 143.4,367.9 143.6,368.9 143.9,370.3 144.2,371.3 144.4,372.2 144.7,373.8 145.0,374.6 145.4,376.4 145.7,377.0 146.1,379.2 146.4,380.8 146.8,381.8 147.2,383.1 147.6,383.9 148.0,385.6 148.4,386.3 148.8,387.1 149.2,388.8 149.6,388.9 149.9,389.2 150.3,390.0 150.8,389.4 151.2,389.1 151.7,388.0 152.1,387.7 152.6,385.8 153.0,384.3 153.4,384.0 153.8,381.9 154.2,381.4 154.6,380.3 155.0,378.3 155.3,376.1 155.5,374.9 155.8,374.2 156.0,373.5 156.2,373.0 156.4,372.3 156.6,370.2 156.8,368.7 157.0,368.0 157.3,366.4 157.5,365.3 157.8,365.0 158.0,364.1 158.4,362.1 158.8,361.4 159.2,360.8 159.6,359.6 160.0,358.1 160.4,357.4 160.9,355.6 161.3,355.1 161.8,354.4 162.3,353.4 162.8,351.6 163.3,349.8 163.9,348.7 164.5,348.3 165.1,347.2 165.7,346.6 166.4,345.3 167.1,345.1 167.8,343.6 168.6,342.2 169.5,341.7 170.3,341.5 171.1,340.9 172.0,339.9 172.9,339.0 173.9,339.0 174.9,339.1 175.9,338.3 177.0,337.9 178.1,336.6 179.4,337.3 180.7,336.9 182.0,336.1 183.2,335.9 184.2,336.2 185.2,337.0 186.1,336.7 186.8,338.0 187.5,338.8 188.1,339.5 188.6,341.0 189.2,342.0 189.8,342.3 190.5,343.9 191.2,344.8 192.0,345.8 192.8,346.8 193.7,347.1 194.6,348.6 195.5,349.6 196.4,351.0 197.3,351.1 198.2,352.4 199.1,352.7 200.1,352.6 201.1,352.2 202.1,350.4 203.0,350.1 203.8,349.5 204.7,348.6 205.6,347.1 206.4,345.4 207.1,344.6 207.7,344.1 208.2,342.6 208.7,341.5 209.2,340.9 209.6,340.2 210.1,339.1 210.6,337.6 211.1,337.3 211.5,336.0 212.0,335.2 212.5,333.5 212.9,333.6 213.4,332.7 213.9,332.2 214.3,331.4 214.8,329.8 215.2,327.6 215.7,326.5 216.1,325.5 216.5,324.9 216.8,323.1 217.1,321.9 217.4,320.7 217.7,319.9 218.0,320.1 218.2,319.1 218.5,317.1 218.8,316.1 219.0,314.6 219.3,313.4 219.6,312.1 219.8,311.1 220.1,309.5 220.3,308.4 220.5,307.7 220.8,306.3 221.1,305.7 221.4,304.9 221.8,302.3 222.1,301.1 222.4,300.8 222.8,298.9 223.1,298.1 223.6,298.1 224.1,296.7 224.8,294.8 225.5,293.3 226.4,292.4 227.2,291.7 228.0,291.7 228.9,291.5 229.6,291.2 230.4,291.6 231.0,292.4 231.7,293.4 232.3,294.7 233.0,295.6 233.6,295.2 234.3,296.1 234.9,297.0 235.6,298.4 236.3,299.2 236.9,300.1 237.5,301.6 238.1,301.9 238.6,302.4 239.2,303.5 239.8,304.9 240.3,306.2 240.9,307.2 241.5,307.8 242.0,308.5 242.6,309.8 243.1,310.9 243.6,312.0 244.2,313.6 244.7,314.5 245.2,316.1 245.8,316.6 246.5,316.3 247.1,316.7 247.9,316.0 248.6,315.4 249.4,314.8 250.3,314.2 251.1,313.3 252.0,312.0 252.9,310.3 253.8,309.6 254.7,308.4 255.7,307.1 256.7,306.9 257.6,306.3 258.6,306.1 259.6,305.1 260.6,305.4 261.7,305.0 262.8,304.7 263.9,305.7 265.0,305.7 266.2,306.1 267.3,305.7 268.4,306.1 269.5,307.6 270.6,307.1 271.7,307.6 272.8,308.4 273.9,309.4 275.0,311.5 276.1,312.9 277.1,313.2 278.2,313.7 279.0,315.0 279.9,315.4"/><path d="M65.6,358.0L66.7,357.3 67.6,356.9 68.8,355.9 69.9,356.9 71.0,356.8 72.0,355.4 73.0,353.6 74.0,353.7 75.0,352.9 76.1,352.7 77.2,354.4 78.4,354.0 79.5,351.7 80.7,353.0 81.8,352.6 83.0,351.5 84.3,351.2 85.5,352.0 86.8,351.7 88.0,352.1 89.2,351.8 90.3,350.6 91.5,352.2 92.7,353.2 93.9,353.0 95.0,351.5 96.2,349.5 97.3,348.9 98.4,349.7 99.5,351.5 100.5,350.1 101.6,350.0 102.7,351.0 103.8,349.6 104.9,349.6 106.0,349.1 107.1,348.2 108.1,349.5 109.2,350.1 110.3,348.3 111.4,348.1 112.6,348.4 113.7,347.7 114.8,349.0 115.9,350.0 117.0,349.6 118.2,349.2 119.4,349.3 120.5,347.6 121.7,348.0 122.7,347.6 123.8,347.6 124.8,346.5 125.7,347.2 126.7,345.5 127.6,345.2 128.5,346.0 129.2,345.5 130.1,343.8 130.9,342.6 131.8,341.3 132.7,340.3 133.6,339.6 134.5,338.2 135.3,337.5 136.0,337.8 136.6,338.0 137.1,339.5 137.6,340.9 138.0,341.9 138.4,342.7 138.8,343.8 139.2,345.1 139.6,346.0 139.9,347.9 140.2,348.6 140.4,349.3 140.7,350.0 140.9,351.6 141.2,353.0 141.5,354.0 141.7,355.8 142.0,356.7 142.3,357.2 142.6,358.9 142.8,360.5 143.0,361.2 143.3,362.0 143.5,362.4 143.7,364.0 144.0,365.3 144.2,366.4 144.5,367.6 144.7,369.1 145.0,370.2 145.2,371.2 145.5,371.9 145.8,373.6 146.0,375.4 146.3,375.7 146.6,376.0 147.0,377.2 147.3,379.1 147.7,379.9 148.0,381.1 148.4,382.6 148.8,384.7 149.2,386.7 149.6,387.3 150.0,388.1 150.4,389.0 150.8,389.9 151.2,390.6 151.5,391.5 151.9,392.0 152.4,391.6 152.8,390.7 153.3,390.4 153.7,389.7 154.2,387.5 154.6,386.2 155.0,385.5 155.4,384.3 155.8,382.9 156.2,381.6 156.6,380.6 156.9,379.1 157.1,378.5 157.4,377.6 157.6,375.9 157.8,375.2 158.0,374.1 158.2,372.9 158.4,370.8 158.6,370.7 158.9,369.8 159.1,369.0 159.4,367.8 159.6,365.8 159.9,364.8 160.3,363.1 160.6,362.7 161.0,362.0 161.4,359.9 161.8,358.7 162.2,357.3 162.6,356.4 163.0,355.5 163.4,354.7 163.9,355.1 164.4,354.1 164.9,352.4 165.5,351.7 166.1,350.7 166.7,349.5 167.3,348.5 168.0,348.0 168.7,346.9 169.4,345.6 170.2,344.9 171.1,344.5 171.9,343.6 172.7,342.4 173.6,342.2 174.5,342.2 175.5,341.6 176.5,340.4 177.5,339.1 178.6,338.8 179.6,338.0 180.7,337.5 181.8,337.5 182.9,337.7 183.9,338.0 184.9,337.8 185.9,337.6 186.8,338.5 187.7,339.1 188.4,339.7 189.1,340.2 189.7,341.2 190.2,342.2 190.8,343.7 191.4,344.4 192.1,345.3 192.8,346.3 193.6,347.3 194.4,348.6 195.3,349.7 196.2,350.7 197.1,351.2 198.0,352.6 198.9,353.8 199.8,354.4 200.7,354.1 201.7,353.3 202.7,353.9 203.7,353.3 204.6,351.3 205.4,350.6 206.3,350.0 207.2,349.6 208.0,348.4 208.7,346.7 209.3,345.4 209.8,344.4 210.3,343.6 210.8,343.7 211.2,342.9 211.7,341.0 212.2,340.6 212.7,339.7 213.1,337.7 213.6,336.9 214.1,336.0 214.5,335.7 215.0,334.4 215.5,332.0 215.9,331.2 216.4,331.1 216.8,329.9 217.3,328.7 217.7,328.1 218.2,327.1 218.6,326.1 219.1,323.9 219.5,322.3 219.9,321.8 220.3,320.1 220.8,319.7 221.2,319.1 221.6,317.5 222.1,316.4 222.6,314.7 223.2,313.6 223.8,313.3 224.5,312.8 225.1,311.6 225.8,309.4 226.5,309.4 227.1,308.3 227.8,307.4 228.5,307.3 229.2,307.6 229.9,307.7 230.7,308.4 231.4,310.5 232.1,311.6 232.9,312.6 233.6,313.9 234.2,315.0 234.9,315.1 235.5,316.8 236.1,317.8 236.7,318.1 237.4,319.3 238.0,320.1 238.6,320.7 239.3,321.9 240.0,322.9 240.8,324.8 241.5,325.1 242.2,326.5 242.9,327.8 243.6,329.4 244.2,330.2 244.9,330.6 245.5,331.5 246.1,332.1 246.7,333.0 247.3,334.3 248.0,335.2 248.7,333.8 249.4,333.2 250.1,332.9 250.9,331.4 251.8,330.2 252.7,330.0 253.6,328.3 254.7,328.2 255.8,327.7 257.0,327.1 258.2,326.6 259.5,326.5 260.7,326.8 261.9,327.2 263.0,326.9 264.2,327.1 265.3,326.9 266.4,326.1 267.4,327.0 268.3,327.1 269.1,327.4 269.8,328.4 270.5,329.6 271.2,329.8 271.9,330.6 272.6,332.6 273.3,332.7 273.9,333.6 274.6,335.5 275.3,336.2 275.9,337.3 276.6,339.2 277.3,340.7 277.9,341.4 278.5,343.0 279.0,343.8 279.5,344.4 279.9,345.1"/><path d="M419.3,125.8L420.2,125.5 421.0,125.7 422.0,124.0 423.1,123.4 424.3,123.3 425.4,122.7 426.6,123.8 427.7,125.0 428.8,125.5 429.8,124.1 430.9,124.5 432.0,124.8 433.2,126.8 434.4,126.5 435.6,125.1 436.8,127.4 438.0,127.8 439.2,127.0 440.5,126.6 441.8,125.4 442.9,125.4 444.0,126.8 445.0,126.3 446.0,126.8 447.1,127.3 448.2,127.3 449.2,128.6 450.4,129.3 451.5,130.4 452.7,130.0 453.9,130.2 455.1,130.3 456.3,130.7 457.5,130.4 458.7,130.6 459.9,132.8 461.0,133.4 462.2,132.9 463.4,132.0 464.7,130.5 465.8,129.7 467.0,129.4 468.1,129.1 469.2,130.4 470.3,130.0 471.4,130.5 472.5,129.7 473.6,130.8 474.8,130.2 475.9,127.7 477.0,128.1 478.1,130.0 479.2,129.6 480.4,130.3 481.5,128.6 482.5,127.4 483.5,128.5 484.5,128.4 485.5,126.3 486.4,124.9 487.3,125.2 488.2,126.3 489.1,124.8 489.9,122.0 490.6,120.9 491.4,119.6 492.1,118.8 492.9,118.8 493.8,117.2 494.8,117.0 495.8,116.9 496.8,117.3 497.7,118.8 498.3,119.2 498.8,120.6 499.2,121.0 499.6,122.2 500.0,123.1 500.4,124.6 500.8,126.9 501.2,128.0 501.6,128.6 501.9,130.3 502.3,130.6 502.6,131.9 502.9,133.7 503.2,134.5 503.5,135.1 503.8,137.1 504.1,137.5 504.4,138.6 504.6,140.5 504.9,141.2 505.2,142.0 505.5,142.8 505.7,144.1 506.0,145.9 506.3,146.8 506.5,148.3 506.7,149.3 507.0,150.7 507.2,152.5 507.4,153.1 507.6,154.3 507.9,155.6 508.1,155.6 508.3,156.6 508.5,158.8 508.8,159.7 509.1,159.8 509.4,161.0 509.8,163.2 510.3,164.8 510.7,165.2 511.2,167.2 511.6,168.2 512.1,168.3 512.7,168.1 513.4,167.4 514.3,166.8 515.1,166.9 515.8,165.1 516.4,164.2 516.9,162.8 517.3,162.3 517.8,160.9 518.2,159.0 518.6,157.7 519.0,157.2 519.3,155.3 519.7,154.5 520.0,154.2 520.4,153.7 520.7,152.3 521.0,150.7 521.4,150.1 521.7,147.9 522.0,146.3 522.3,145.7 522.5,144.9 522.7,143.2 523.0,142.2 523.2,141.4 523.5,140.4 523.7,138.7 524.0,137.8 524.3,137.6 524.5,136.7 524.8,135.1 525.1,133.9 525.3,132.5 525.7,130.6 526.1,129.0 526.5,128.1 527.0,128.2 527.5,127.2 528.0,126.2 528.5,124.0 529.0,123.7 529.5,122.9 530.1,122.2 530.8,120.9 531.6,120.6 532.5,118.8 533.3,118.5 534.2,118.5 535.2,118.4 536.3,118.0 537.5,118.1 538.7,118.7 539.6,119.2 540.4,119.1 541.1,120.2 541.9,121.5 542.7,122.3 543.4,122.8 544.0,124.4 544.6,125.5 545.0,126.1 545.4,126.9 545.8,127.7 546.3,129.1 546.7,130.1 547.1,130.7 547.5,132.7 548.0,134.6 548.4,135.7 548.7,136.4 549.1,137.0 549.5,138.4 549.9,139.3 550.3,140.4 550.7,142.0 551.1,142.5 551.5,144.1 551.9,144.6 552.3,146.1 552.7,147.1 553.2,147.9 553.9,149.7 554.6,150.7 555.4,151.7 556.3,152.2 557.0,150.9 557.8,149.6 558.5,149.1 559.3,148.4 559.9,146.6 560.4,145.6 560.8,145.6 561.2,144.3 561.6,142.9 562.0,142.1 562.4,140.2 562.7,139.2 563.1,137.5 563.3,136.8 563.6,136.5 563.9,135.8 564.2,134.5 564.5,132.6 564.7,131.5 565.0,130.0 565.4,128.6 565.7,128.1 566.0,127.7 566.4,126.7 566.7,125.4 567.1,124.3 567.4,122.2 567.8,120.7 568.2,119.9 568.6,118.6 569.0,117.3 569.4,116.6 569.9,115.9 570.3,114.6 570.8,113.4 571.3,113.0 571.9,112.1 572.5,110.0 573.0,108.0 573.6,107.0 574.2,107.0 574.8,105.4 575.4,105.4 576.1,104.8 577.1,104.2 578.1,104.6 579.3,103.8 580.3,103.8 581.2,103.9 582.0,103.1 582.6,103.3 583.2,101.7 583.7,100.3 584.2,99.2 584.8,98.9 585.4,97.8 585.9,96.8 586.5,95.8 587.1,95.0 587.6,94.0 588.1,92.2 588.7,90.2 589.2,89.0 589.7,87.2 590.3,85.7 590.8,85.2 591.4,84.5 592.0,82.9 592.5,82.2 593.0,82.1 593.6,82.5 594.0,82.6 594.5,83.2 594.9,83.9 595.4,84.3 595.8,85.7 596.2,86.8 596.7,87.0 597.1,89.1 597.6,90.2 598.0,90.6 598.4,92.3 598.9,94.2 599.3,95.9 599.7,96.5 600.0,98.0 600.4,99.6 600.7,100.8 601.0,101.9 601.2,102.4 601.5,103.5 601.8,104.2 602.1,106.1 602.3,107.7 602.6,108.7 602.8,109.8 603.1,110.5 603.4,112.7 603.6,114.3 603.9,115.3 604.2,115.8 604.5,116.9 604.8,117.5 605.1,119.2 605.4,120.2 605.9,120.3 606.4,120.9 607.1,122.6 607.8,124.1 608.5,125.2 609.3,125.5 610.0,125.7 610.8,127.2 611.6,127.4 612.3,128.9 613.0,129.2 613.7,130.3 614.4,131.9 615.0,132.2 615.7,133.3 616.3,135.2 617.0,136.9 617.6,138.3 618.2,139.2 618.9,140.2 619.5,140.4 620.0,141.0 620.6,140.0 621.2,139.8 621.7,139.8 622.2,139.1 622.7,138.7 623.2,137.6 623.6,136.3 624.1,135.4 624.6,133.6 625.1,131.8 625.6,130.8 626.1,130.4 626.6,129.3 627.1,127.4 627.6,127.1 628.1,126.3 628.6,124.5 629.2,123.1 629.7,121.5 630.3,120.7 630.8,119.8 631.2,118.7 631.7,117.3 632.1,117.5 632.4,116.5 632.7,115.4"/><path d="M419.3,131.5L420.5,131.5 421.7,130.9 422.9,129.1 424.2,128.7 425.5,130.0 426.7,130.8 428.0,132.5 429.3,132.7 430.6,132.4 431.9,132.4 433.1,132.4 434.4,131.2 435.6,131.6 436.8,131.6 438.0,133.0 439.2,131.5 440.5,132.5 441.8,131.2 443.0,132.2 444.3,131.7 445.7,132.1 446.9,133.0 448.1,131.0 449.2,131.3 450.4,133.8 451.5,133.0 452.7,132.4 453.9,134.8 455.1,134.9 456.3,132.8 457.5,133.0 458.7,132.7 459.9,133.4 461.0,134.1 462.2,133.4 463.4,134.0 464.7,132.3 465.8,132.3 467.0,133.6 468.1,132.5 469.2,132.0 470.3,132.1 471.4,131.5 472.5,130.7 473.6,129.9 474.8,131.8 475.9,132.9 477.0,132.9 478.1,131.9 479.2,131.0 480.3,131.1 481.5,132.1 482.5,131.7 483.6,129.7 484.6,129.2 485.6,129.0 486.6,128.9 487.5,128.8 488.4,126.9 489.3,125.1 490.1,125.8 490.9,124.4 491.6,123.3 492.3,121.9 493.1,121.3 493.9,120.5 494.7,120.0 495.5,118.5 496.3,118.5 497.1,118.4 497.9,119.3 498.7,119.4 499.4,120.5 499.9,121.8 500.4,123.0 500.8,123.2 501.2,124.5 501.6,125.3 502.0,126.5 502.4,128.2 502.8,130.1 503.2,130.9 503.5,132.4 503.9,132.7 504.2,134.4 504.5,134.9 504.8,135.7 505.1,137.7 505.4,139.1 505.7,139.0 506.0,140.4 506.2,142.4 506.5,143.1 506.8,143.8 507.1,144.6 507.3,145.9 507.6,148.1 507.9,150.1 508.1,151.2 508.3,151.4 508.6,151.7 508.8,153.3 509.0,155.3 509.2,156.6 509.5,157.2 509.7,157.7 509.9,159.0 510.1,160.1 510.4,161.1 510.7,162.0 511.0,164.1 511.4,165.3 511.9,165.5 512.3,166.8 512.8,168.6 513.2,169.1 513.7,170.4 514.3,170.4 515.0,170.4 515.9,169.6 516.7,167.8 517.4,166.6 518.0,165.6 518.5,165.2 518.9,164.0 519.4,162.2 519.8,161.8 520.2,160.1 520.6,158.5 520.9,158.0 521.3,157.8 521.6,156.4 522.0,155.6 522.3,155.1 522.6,154.0 523.0,152.4 523.3,150.6 523.6,149.8 523.9,149.2 524.1,148.0 524.3,146.4 524.6,144.8 524.8,143.6 525.1,142.9 525.3,141.3 525.6,139.4 525.9,139.1 526.1,138.5 526.4,137.3 526.7,136.3 526.9,135.1 527.3,133.6 527.7,132.5 528.1,130.6 528.6,129.0 529.1,128.2 529.6,127.5 530.1,127.5 530.6,126.5 531.1,125.3 531.7,124.3 532.4,122.7 533.2,122.3 534.1,121.7 534.9,120.4 535.8,119.5 536.8,119.2 537.9,119.1 539.1,119.5 540.3,119.2 541.2,119.5 542.0,120.6 542.7,122.0 543.5,123.1 544.3,124.0 545.0,125.3 545.6,125.5 546.2,125.9 546.6,127.5 547.0,128.5 547.4,129.3 547.9,130.9 548.3,131.7 548.7,132.7 549.1,134.2 549.6,136.0 550.0,136.1 550.3,137.4 550.7,138.4 551.1,139.4 551.5,140.8 551.9,142.0 552.3,144.2 552.7,145.1 553.1,146.2 553.5,146.6 553.9,147.9 554.3,149.4 554.8,150.7 555.5,151.1 556.2,152.5 557.0,153.9 557.9,154.1 558.6,152.9 559.4,152.5 560.1,151.8 560.9,150.3 561.5,149.4 562.0,148.5 562.4,147.7 562.8,146.2 563.2,144.9 563.6,143.4 564.0,142.5 564.4,140.8 564.7,139.8 565.0,138.5 565.3,137.2 565.6,135.8 565.9,134.8 566.2,134.1 566.6,132.4 566.9,131.1 567.2,130.8 567.6,129.4 567.9,129.0 568.3,127.5 568.7,126.1 569.0,125.7 569.4,124.5 569.8,122.4 570.2,121.0 570.6,120.7 571.0,120.1 571.5,118.8 572.0,117.8 572.5,116.2 573.1,115.1 573.7,113.5 574.3,112.5 574.9,111.5 575.6,110.5 576.2,109.8 576.9,109.4 577.7,108.0 578.7,107.4 579.7,107.7 580.9,108.6 581.9,107.8 582.8,106.8 583.6,107.2 584.2,106.8 584.8,105.7 585.3,104.1 585.8,103.3 586.4,101.6 587.0,100.3 587.5,100.2 588.1,99.1 588.7,97.3 589.2,96.6 589.7,94.5 590.3,93.3 590.8,91.7 591.3,90.5 591.9,89.5 592.4,89.1 593.0,87.6 593.6,86.4 594.1,85.8 594.6,85.8 595.2,86.6 595.6,86.5 596.1,86.3 596.6,87.6 597.0,88.4 597.5,89.3 598.0,90.5 598.4,92.0 598.9,93.5 599.4,94.4 599.8,95.8 600.2,96.9 600.6,98.3 601.0,99.1 601.4,100.2 601.7,101.6 602.1,102.9 602.5,103.7 602.8,105.4 603.0,106.2 603.3,107.5 603.5,108.5 603.8,109.8 604.0,110.5 604.3,111.1 604.6,112.1 604.8,113.6 605.1,115.0 605.4,115.9 605.7,115.9 605.9,116.6 606.2,117.7 606.5,118.8 606.8,119.9 607.1,121.1 607.4,122.6 607.7,124.0 608.0,126.1 608.3,127.5 608.6,129.3 608.8,130.5 609.0,131.4 609.3,132.4 609.5,132.3 609.7,133.8 609.9,136.0 610.2,136.8 610.4,137.7 610.6,139.6 610.8,140.6 611.1,141.8 611.3,142.6 611.5,143.4 611.8,144.4 612.0,146.3 612.3,148.0 612.6,149.0 613.1,149.8 614.0,150.8 615.0,150.7 616.1,151.1 617.2,152.1 618.4,151.8 619.5,151.4 620.6,150.3 621.8,149.9 622.8,149.8 623.7,149.3 624.3,148.6 624.8,147.5 625.3,145.9 625.7,145.0 626.1,144.8 626.6,143.9 627.0,141.8 627.4,140.2 627.8,139.5 628.2,138.3 628.6,136.7 629.0,135.4 629.3,134.5 629.6,133.6 629.9,131.9 630.2,131.3 630.4,130.8 630.7,129.1 630.9,127.0 631.0,125.7 631.2,124.3 631.3,124.1 631.5,122.9 631.6,121.4 631.7,121.1 631.8,120.5"/><path d="M419.3,184.4L420.4,185.8 421.5,186.4 422.7,186.7 423.9,185.2 425.1,185.2 426.3,185.5 427.5,186.5 428.6,188.1 429.7,187.5 430.8,188.6 431.9,188.5 433.0,189.1 434.2,190.4 435.4,192.0 436.6,191.5 437.8,190.0 439.0,190.3 440.2,190.6 441.5,192.4 442.7,192.6 443.9,192.4 445.1,192.3 446.3,192.2 447.5,192.6 448.6,191.9 449.8,190.5 451.0,191.5 452.1,190.9 453.3,191.0 454.5,190.2 455.6,189.3 456.8,188.8 458.0,188.6 459.1,188.0 460.2,187.6 461.4,189.4 462.5,189.8 463.7,190.0 464.8,189.0 465.9,188.4 467.1,188.2 468.3,186.7 469.5,187.4 470.6,186.7 471.8,185.5 473.0,185.4 474.1,186.0 475.3,185.4 476.5,185.8 477.6,186.0 478.8,185.1 479.8,184.2 480.9,184.4 482.0,183.4 483.1,182.4 484.1,181.6 485.0,181.1 485.8,180.0 486.6,180.9 487.4,180.9 488.1,178.8 488.8,178.6 489.5,177.9 490.1,174.7 490.7,173.9 491.4,174.6 492.0,173.8 492.7,172.1 493.3,170.1 494.0,169.6 494.6,169.7 495.3,169.6 495.9,169.4 496.5,169.2 497.1,170.6 497.7,171.3 498.3,172.6 498.8,173.4 499.3,175.4 499.6,176.2 499.9,176.9 500.2,177.3 500.5,178.8 500.8,180.0 501.1,181.1 501.4,182.0 501.8,183.5 502.1,184.2 502.4,185.1 502.7,186.3 503.0,188.0 503.3,188.4 503.6,189.5 503.9,190.6 504.2,192.6 504.5,193.9 504.8,194.8 505.1,195.4 505.4,197.0 505.6,198.0 505.9,198.7 506.2,200.0 506.5,202.3 506.7,202.5 507.0,203.5 507.3,204.8 507.6,206.3 507.9,207.0 508.1,208.5 508.4,209.8 508.7,211.2 508.9,211.3 509.2,212.6 509.4,214.1 509.7,215.8 510.1,216.4 510.4,217.5 510.8,219.0 511.2,219.8 511.7,220.8 512.1,222.8 512.5,224.6 513.0,225.0 513.5,224.6 514.2,225.0 514.9,224.5 515.6,222.7 516.3,221.5 516.9,220.0 517.4,218.6 517.8,217.5 518.1,216.5 518.5,215.4 518.9,214.0 519.2,213.1 519.6,211.8 519.9,211.4 520.3,210.1 520.6,208.3 520.9,208.0 521.1,206.3 521.4,205.4 521.7,204.4 522.1,202.9 522.4,201.6 522.7,200.5 523.0,199.2 523.3,198.7 523.6,197.0 523.9,196.4 524.2,194.7 524.5,193.5 524.9,192.4 525.2,190.8 525.5,189.8 525.8,189.2 526.1,188.5 526.5,188.2 526.8,187.1 527.2,184.7 527.5,183.9 527.9,182.6 528.3,182.1 528.7,180.6 529.1,180.0 529.5,178.4 529.9,176.3 530.3,175.0 530.7,174.5 531.1,174.2 531.6,172.5 532.1,171.6 532.8,170.4 533.5,169.4 534.2,168.8 535.0,167.3 535.7,167.0 536.5,166.7 537.3,166.6 538.2,166.3 539.1,167.0 540.1,167.2 540.9,168.1 541.7,169.1 542.3,170.4 543.0,171.3 543.6,171.1 544.1,172.1 544.5,173.9 544.8,175.5 545.2,176.1 545.5,177.0 545.8,178.8 546.1,179.1 546.4,179.7 546.7,180.7 547.0,182.1 547.3,184.1 547.6,184.7 547.8,186.5 548.1,188.1 548.4,189.4 548.7,190.1 549.0,190.8 549.4,192.3 549.7,193.9 550.1,194.8 550.4,195.4 550.7,196.8 551.0,197.2 551.3,198.8 551.7,201.1 552.0,201.8 552.4,202.8 552.7,204.7 553.1,205.5 553.5,205.8 553.8,206.9 554.2,208.4 554.5,209.8 554.8,211.3 555.2,211.4 555.7,212.5 556.4,212.5 557.3,211.2 558.1,210.6 559.0,209.0 559.8,207.1 560.5,205.7 561.3,205.1 562.0,204.7 562.7,203.0 563.2,201.4 563.6,200.5 564.0,199.6 564.4,198.2 564.8,197.3 565.2,195.8 565.6,195.4 566.0,193.5 566.4,192.2 566.9,191.8 567.3,190.7 567.8,190.2 568.2,188.7 568.7,187.6 569.2,186.8 569.8,185.1 570.3,184.6 570.9,183.5 571.5,182.4 572.1,181.8 572.7,179.9 573.3,179.6 574.0,178.1 574.6,177.5 575.2,175.6 575.8,174.2 576.3,174.0 576.7,173.6 577.2,171.7 577.6,170.8 578.0,169.8 578.5,168.2 578.9,167.2 579.3,165.5 579.7,165.0 580.1,164.3 580.5,162.7 580.8,161.2 581.2,160.1 581.6,159.9 581.9,158.7 582.3,158.1 582.6,156.6 582.8,154.7 583.1,154.7 583.4,154.0 583.7,152.8 584.1,151.6 584.5,150.2 585.1,148.9 585.6,147.6 586.2,146.1 586.8,144.5 587.4,143.7 588.1,144.1 588.8,144.0 589.6,143.8 590.4,145.4 591.1,146.7 591.8,147.9 592.3,149.4 592.8,150.4 593.2,150.9 593.6,152.3 594.0,153.1 594.4,154.2 594.8,155.4 595.2,157.2 595.6,158.0 596.0,159.5 596.4,160.0 596.7,161.4 597.1,162.9 597.4,163.6 597.8,163.9 598.1,164.5 598.4,166.1 598.7,167.3 599.0,169.1 599.3,170.4 599.7,171.6 600.0,172.0 600.3,172.9 600.5,174.3 600.8,175.5 601.0,175.6 601.3,176.7 601.5,177.9 601.8,179.3 602.1,180.8 602.3,182.7 602.6,183.3 602.9,185.0 603.2,185.4 603.5,186.4 603.8,188.4 604.2,188.4 604.5,189.3 604.9,190.4 605.3,191.6 605.7,193.1 606.1,194.0 606.5,194.9 606.9,196.0 607.3,197.9 607.7,198.2 608.1,199.4 608.6,201.2 609.0,202.8 609.5,203.7 610.0,204.9 610.5,206.2 611.1,207.6 611.6,208.6 612.1,208.6 612.7,209.5 613.2,211.2 613.8,212.1 614.5,212.7 615.2,213.3 616.1,212.7 617.2,212.9 618.3,212.1 619.4,211.1 620.5,209.9 621.4,209.0 622.3,208.5 623.0,207.8 623.6,207.1 624.2,205.4 624.6,204.5 625.1,202.8 625.5,202.1 626.0,200.8 626.4,200.8 626.9,200.0 627.3,198.3 627.8,197.7 628.2,196.1 628.7,194.8 629.1,193.5 629.5,192.7 629.8,191.3 630.1,191.0 630.3,189.9 630.5,188.6 630.7,187.6 630.9,185.8 631.2,184.5 631.3,183.1 631.5,181.6 631.7,181.3 631.9,179.1 632.1,177.9 632.2,177.9 632.4,177.0 632.5,175.5 632.6,174.5 632.7,173.2"/><path d="M419.3,186.2L420.4,188.3 421.5,189.1 422.7,189.8 423.9,188.4 425.1,188.6 426.3,190.4 427.5,190.6 428.6,190.2 429.7,191.3 430.8,191.6 431.9,192.5 433.0,191.3 434.2,192.0 435.4,194.0 436.6,193.0 437.8,192.8 439.0,194.3 440.2,193.7 441.5,192.4 442.7,193.2 443.9,193.3 445.1,192.2 446.3,192.8 447.5,191.7 448.6,191.6 449.8,191.0 451.0,191.7 452.1,193.5 453.3,192.6 454.5,193.4 455.6,192.1 456.8,192.2 458.0,192.8 459.1,191.8 460.2,190.1 461.4,190.9 462.5,190.9 463.7,189.3 464.8,189.1 465.9,190.8 467.1,189.9 468.3,188.7 469.5,188.9 470.6,188.7 471.8,189.8 473.0,188.9 474.1,187.9 475.3,189.0 476.5,187.4 477.6,187.0 478.8,186.7 479.8,187.8 480.9,186.4 482.0,186.1 483.1,184.6 484.1,184.7 485.0,184.6 485.9,183.4 486.7,182.2 487.5,181.4 488.4,180.5 489.1,179.7 489.9,177.8 490.7,177.5 491.5,176.7 492.3,177.0 493.0,175.9 493.8,173.3 494.6,172.2 495.4,172.0 496.1,171.1 496.8,170.1 497.5,171.2 498.1,172.1 498.7,172.1 499.4,173.0 499.9,174.6 500.5,176.2 500.9,176.4 501.2,177.1 501.5,178.0 501.8,179.6 502.1,180.5 502.4,181.3 502.7,182.4 503.0,183.1 503.4,184.9 503.7,187.1 504.0,187.8 504.3,188.6 504.6,190.4 504.9,190.8 505.2,191.5 505.5,192.3 505.8,193.6 506.1,194.9 506.4,196.4 506.7,198.4 507.0,198.9 507.2,199.9 507.5,201.8 507.8,203.3 508.1,203.7 508.3,205.2 508.6,205.9 508.9,207.2 509.2,208.7 509.5,210.4 509.7,211.3 510.0,212.0 510.3,213.4 510.5,213.8 510.8,214.9 511.0,216.6 511.3,217.3 511.7,218.5 512.0,219.3 512.4,221.3 512.8,222.3 513.3,223.2 513.7,225.1 514.1,225.6 514.6,225.9 515.1,226.0 515.8,225.6 516.5,225.2 517.2,224.7 517.9,222.8 518.5,221.6 519.0,220.9 519.4,220.0 519.7,218.9 520.1,218.2 520.5,216.4 520.8,215.2 521.2,213.9 521.5,212.3 521.9,211.2 522.2,210.3 522.5,209.9 522.7,208.3 523.0,207.6 523.3,206.1 523.7,205.4 524.0,204.3 524.3,202.9 524.6,202.4 524.9,201.0 525.2,199.4 525.5,197.6 525.8,196.8 526.1,195.7 526.5,195.0 526.8,194.7 527.1,193.4 527.4,191.2 527.7,190.9 528.1,190.4 528.4,188.6 528.8,187.0 529.1,186.7 529.5,185.5 529.9,185.0 530.3,183.8 530.7,182.6 531.1,181.2 531.5,179.0 531.9,178.6 532.3,176.9 532.7,175.6 533.2,175.0 533.7,174.1 534.4,172.3 535.1,171.8 535.8,171.3 536.6,170.0 537.3,169.0 538.1,168.3 538.9,168.7 539.8,168.1 540.7,168.9 541.7,169.5 542.5,169.8 543.3,171.7 543.9,172.0 544.6,173.9 545.2,175.2 545.7,176.2 546.1,177.0 546.4,177.3 546.8,178.2 547.1,179.4 547.4,181.1 547.7,181.2 548.0,182.5 548.3,184.9 548.6,186.1 548.9,187.1 549.2,188.3 549.4,188.8 549.7,189.9 550.0,190.6 550.3,192.0 550.6,192.1 551.0,193.7 551.3,195.4 551.7,196.8 552.0,197.5 552.3,198.9 552.6,200.5 552.9,200.9 553.3,201.5 553.6,202.8 554.0,205.2 554.3,206.2 554.7,207.2 555.1,208.5 555.4,209.1 555.8,210.1 556.1,211.2 556.4,212.3 556.8,213.7 557.3,213.3 558.0,213.0 558.9,213.3 559.7,211.7 560.6,209.6 561.4,209.3 562.1,208.5 562.9,207.5 563.6,206.6 564.3,204.9 564.8,203.6 565.2,203.3 565.6,202.4 566.0,201.2 566.4,199.3 566.8,198.4 567.2,197.8 567.6,196.4 568.0,195.5 568.5,194.4 568.9,193.6 569.4,192.1 569.8,191.2 570.3,190.5 570.8,188.7 571.4,187.4 571.9,186.9 572.5,185.6 573.1,185.3 573.7,184.0 574.3,183.7 574.9,182.3 575.6,180.7 576.2,180.2 576.8,179.4 577.4,178.1 577.9,177.2 578.3,176.1 578.8,175.6 579.2,173.8 579.6,173.0 580.1,171.1 580.5,170.3 580.9,168.7 581.3,167.7 581.7,167.5 582.1,166.9 582.4,165.1 582.8,164.0 583.2,163.2 583.5,162.1 583.9,160.5 584.2,159.4 584.4,159.0 584.7,157.6 585.0,156.3 585.3,156.0 585.7,155.2 586.1,153.1 586.7,151.1 587.2,150.4 587.8,150.1 588.4,148.2 589.1,147.5 589.8,147.9 590.6,147.4 591.6,148.7 592.5,149.0 593.3,150.3 593.9,151.6 594.4,152.2 594.8,153.9 595.2,154.8 595.6,156.3 596.0,157.3 596.4,157.7 596.8,159.8 597.2,161.1 597.6,161.5 598.0,162.8 598.3,163.6 598.7,165.1 599.0,166.6 599.4,167.2 599.7,168.2 600.0,169.1 600.3,171.1 600.6,172.3 600.9,173.4 601.3,173.7 601.6,175.4 601.9,175.9 602.1,177.3 602.4,178.3 602.6,180.1 602.9,180.3 603.1,181.7 603.4,183.0 603.7,183.9 603.9,184.7 604.2,186.8 604.5,188.4 604.8,188.9 605.1,190.4 605.4,190.7 605.8,191.6 606.1,193.1 606.5,195.1 606.9,196.0 607.3,196.5 607.7,196.7 608.1,198.0 608.5,198.5 608.9,199.6 609.3,201.0 609.7,201.9 610.2,202.8 610.7,204.5 611.2,206.3 611.7,207.9 612.3,209.0 612.9,209.4 613.5,210.4 614.1,212.4 614.7,212.8 615.3,213.5 616.0,214.8 616.8,215.1 617.7,215.6 618.8,215.2 619.9,214.6 621.0,212.9 622.1,212.8 623.1,211.6 623.9,210.6 624.7,209.1 625.4,208.0 626.0,207.0 626.5,206.1 627.1,206.0 627.6,203.9 628.1,202.8 628.7,202.2 629.2,200.6 629.8,199.3 630.3,198.2 630.7,196.9 631.0,195.6 631.3,195.3 631.5,194.0 631.6,192.3 631.7,191.7 631.7,190.1 631.8,188.8 631.8,188.8"/><path d="M419.3,245.1L420.3,242.8 421.2,243.7 422.4,243.0 423.8,244.2 425.2,242.4 426.6,244.0 427.9,244.1 429.0,244.5 430.2,244.4 431.3,242.4 432.4,242.3 433.6,243.2 434.7,242.2 435.8,241.8 436.9,242.2 438.0,244.1 439.1,244.6 440.3,244.1 441.5,243.0 442.6,244.5 443.7,243.8 444.9,243.0 446.0,243.6 447.1,243.6 448.3,243.2 449.4,244.4 450.6,244.5 451.7,245.5 452.9,246.7 454.0,246.2 455.1,245.8 456.3,247.3 457.4,247.8 458.5,246.9 459.7,247.4 460.9,245.2 462.1,244.9 463.3,245.7 464.5,247.7 465.8,247.5 467.0,247.0 468.2,245.8 469.4,246.2 470.5,246.7 471.7,244.4 472.8,243.3 473.9,242.8 475.0,243.6 475.9,244.1 476.9,242.8 477.8,241.7 478.7,241.1 479.7,240.2 480.7,241.1 481.6,239.2 482.6,237.8 483.6,237.6 484.6,238.1 485.5,236.6 486.5,236.8 487.4,234.9 488.3,233.8 489.1,232.5 489.9,233.6 490.7,232.7 491.4,230.7 492.1,229.1 492.9,228.7 493.7,228.0 494.4,228.1 495.2,228.2 495.9,228.0 496.5,227.7 497.1,228.4 497.7,230.8 498.3,232.2 498.8,232.3 499.2,233.6 499.6,234.9 499.8,236.2 500.1,235.9 500.4,236.9 500.7,239.2 501.0,240.1 501.3,241.1 501.6,242.7 501.8,243.7 502.1,244.8 502.4,245.2 502.7,245.9 503.0,247.0 503.3,248.7 503.6,250.4 503.9,251.3 504.2,252.4 504.5,254.1 504.8,255.5 505.1,256.5 505.4,257.4 505.6,259.2 505.9,260.6 506.2,261.8 506.5,262.6 506.8,262.5 507.1,264.2 507.4,265.2 507.7,266.4 508.1,267.7 508.4,268.4 508.8,269.8 509.1,271.8 509.4,272.3 509.7,273.8 510.1,274.7 510.5,275.2 511.0,276.4 511.5,278.0 512.0,278.9 512.5,278.5 513.2,277.7 513.8,277.3 514.5,277.4 515.2,275.9 515.8,273.9 516.3,273.7 516.7,272.6 517.1,271.5 517.4,271.0 517.8,269.1 518.1,267.7 518.6,267.1 519.0,266.4 519.5,264.8 519.9,263.5 520.2,262.8 520.6,261.4 520.8,260.5 521.2,258.7 521.5,258.3 521.8,256.7 522.2,256.2 522.5,255.4 522.9,254.0 523.2,252.5 523.6,251.3 524.0,250.2 524.3,248.4 524.7,247.0 525.0,246.2 525.4,245.0 525.7,243.3 526.1,242.7 526.4,241.6 526.7,240.3 527.0,240.2 527.3,239.4 527.7,237.7 528.1,237.1 528.6,236.0 529.1,234.1 529.5,232.4 529.8,231.1 530.2,230.0 530.6,229.6 531.0,229.4 531.5,227.5 532.0,227.3 532.5,226.2 533.1,224.9 533.6,223.0 534.3,222.4 535.0,221.1 535.7,220.7 536.6,220.0 537.5,218.7 538.5,217.6 539.5,217.1 540.4,215.8 541.3,215.6 542.0,216.7 542.8,216.4 543.5,217.4 544.2,218.7 544.9,220.3 545.5,220.9 546.2,222.1 546.8,223.2 547.4,224.2 547.9,225.2 548.5,226.3 548.9,227.5 549.4,228.4 549.8,229.6 550.1,231.5 550.5,232.6 551.0,232.8 551.4,234.4 551.8,234.3 552.2,235.7 552.6,237.5 553.0,237.8 553.4,239.5 553.9,241.2 554.4,241.8 554.9,242.4 555.4,242.9 555.8,244.6 556.3,246.0 556.8,247.5 557.3,248.4 557.8,250.1 558.3,250.9 558.8,252.4 559.3,253.6 559.8,254.0 560.4,255.7 560.9,256.0 561.4,256.5 562.0,257.4 562.6,256.9 563.2,256.2 563.9,255.1 564.5,254.4 565.2,254.1 565.9,252.8 566.5,251.7 567.1,250.5 567.8,249.1 568.3,247.6 568.8,247.1 569.2,245.6 569.7,244.2 570.1,244.2 570.5,243.1 570.9,241.1 571.3,240.8 571.6,239.5 572.0,237.8 572.4,237.1 572.8,236.3 573.2,234.4 573.6,233.6 574.0,232.0 574.5,230.9 575.0,231.0 575.4,230.0 575.9,228.4 576.4,227.1 576.9,225.3 577.4,224.2 577.9,223.5 578.3,222.8 578.8,221.7 579.3,220.4 579.9,219.5 580.7,218.5 581.5,218.2 582.4,217.6 583.1,216.5 583.6,214.9 584.1,214.1 584.5,213.9 584.8,212.3 585.2,211.2 585.7,209.3 586.1,208.0 586.6,207.2 587.1,206.7 587.6,205.2 588.2,204.3 588.8,202.6 589.4,202.1 590.0,200.9 590.6,199.0 591.3,197.6 591.9,196.8 592.5,196.2 593.1,195.3 593.7,195.2 594.3,196.3 594.9,196.8 595.5,196.6 596.1,198.1 596.7,200.1 597.3,202.0 597.8,202.9 598.3,203.9 598.6,205.3 598.9,206.4 599.3,207.3 599.6,208.4 599.9,209.5 600.3,209.8 600.6,211.7 601.0,212.4 601.3,213.6 601.7,215.0 602.0,216.4 602.4,217.7 602.7,218.7 603.1,219.3 603.5,220.4 603.9,222.0 604.4,223.5 605.0,223.7 605.6,224.3 606.2,226.4 606.8,227.7 607.5,228.4 608.1,228.8 608.7,229.0 609.4,229.6 610.0,231.5 610.7,231.9 611.4,232.5 612.1,234.0 612.8,234.5 613.6,235.9 614.3,237.5 615.0,238.6 615.6,238.7 616.3,238.9 617.1,239.6 618.0,240.0 619.0,238.5 619.9,237.4 620.6,237.1 621.4,237.2 622.1,236.4 622.9,235.2 623.6,233.0 624.3,232.3 625.0,231.2 625.8,230.9 626.5,230.4 627.2,229.2 628.0,228.4 628.7,227.4 629.4,226.1 630.2,224.7 630.9,223.6 631.6,223.5 632.1,223.3 632.7,222.6"/><path d="M419.3,245.5L420.3,245.7 421.2,245.6 422.4,245.5 423.8,245.5 425.2,245.9 426.6,245.1 427.9,245.4 429.0,243.9 430.2,244.3 431.3,244.4 432.4,244.2 433.6,245.4 434.7,244.9 435.8,246.1 436.9,246.4 438.0,244.9 439.1,246.3 440.3,246.5 441.5,245.7 442.6,244.2 443.7,245.3 444.9,246.0 446.0,245.3 447.1,245.1 448.3,245.5 449.4,246.0 450.6,247.4 451.7,246.8 452.9,247.1 454.0,248.2 455.1,249.0 456.3,247.3 457.4,246.9 458.5,249.5 459.7,249.9 460.9,249.5 462.1,248.6 463.3,247.4 464.5,247.1 465.8,247.5 467.0,247.6 468.2,246.9 469.4,248.3 470.5,248.1 471.7,246.3 472.8,247.5 473.9,246.9 475.0,246.9 475.9,245.5 476.9,245.3 477.8,244.1 478.7,243.7 479.7,242.5 480.7,240.4 481.7,239.8 482.6,239.5 483.6,239.3 484.6,238.7 485.7,238.4 486.6,238.0 487.6,236.4 488.5,235.3 489.5,235.3 490.4,235.5 491.3,234.3 492.2,233.1 493.1,232.2 494.0,230.3 495.0,229.0 495.9,228.4 496.8,228.2 497.5,228.6 498.1,230.2 498.7,231.5 499.4,231.7 499.9,233.6 500.4,235.5 500.8,236.1 501.2,236.2 501.4,237.5 501.7,238.1 502.0,238.8 502.3,239.8 502.6,241.8 502.9,243.5 503.2,243.5 503.4,244.5 503.7,245.9 504.0,246.8 504.3,248.6 504.6,250.2 504.9,250.9 505.2,251.3 505.5,252.3 505.8,254.0 506.1,256.1 506.4,257.7 506.7,258.2 507.0,258.6 507.2,259.9 507.5,261.3 507.8,262.0 508.1,263.1 508.4,264.8 508.7,266.5 509.0,267.2 509.3,269.2 509.7,270.5 510.0,270.9 510.4,271.5 510.7,272.6 511.0,274.4 511.3,275.8 511.7,276.7 512.1,277.0 512.6,278.2 513.1,278.7 513.6,279.7 514.1,280.0 514.8,279.5 515.4,279.0 516.1,279.2 516.8,277.3 517.4,276.1 517.9,275.2 518.3,274.3 518.7,273.6 519.0,272.6 519.4,271.4 519.7,269.9 520.2,269.4 520.6,268.4 521.1,266.9 521.5,265.0 521.8,264.1 522.2,263.7 522.4,262.5 522.8,260.5 523.1,259.5 523.4,258.4 523.8,258.0 524.1,256.5 524.5,255.1 524.8,253.6 525.2,252.8 525.6,252.0 525.9,250.6 526.3,248.8 526.6,247.8 527.0,246.8 527.3,245.2 527.7,244.8 528.0,243.0 528.3,242.4 528.6,241.3 528.9,241.3 529.3,239.8 529.7,237.7 530.2,236.7 530.7,236.1 531.1,235.2 531.4,234.0 531.8,233.0 532.2,232.4 532.6,231.6 533.1,230.0 533.6,228.9 534.1,228.0 534.7,226.4 535.2,225.0 535.9,224.3 536.6,223.2 537.3,222.7 538.2,221.9 539.1,220.8 540.1,218.6 541.1,217.8 542.0,218.8 542.9,218.9 543.6,219.4 544.4,219.8 545.1,220.4 545.8,220.1 546.5,221.0 547.1,222.8 547.8,224.1 548.4,224.6 549.0,226.4 549.5,226.6 550.1,227.5 550.5,228.8 551.0,229.6 551.4,230.4 551.7,231.5 552.1,232.6 552.6,234.1 553.0,236.1 553.4,237.4 553.8,238.3 554.2,238.9 554.6,240.1 555.0,240.5 555.5,242.4 556.0,243.0 556.5,243.5 557.0,244.9 557.4,246.0 557.9,247.8 558.4,248.4 558.9,249.0 559.4,250.4 559.9,251.9 560.4,254.2 560.9,255.0 561.4,256.3 562.0,257.0 562.5,257.4 563.0,258.3 563.6,258.2 564.2,257.7 564.8,258.5 565.5,257.4 566.1,256.7 566.8,255.7 567.5,255.0 568.1,252.7 568.7,250.9 569.4,249.8 569.9,249.4 570.4,249.0 570.8,247.7 571.3,247.0 571.7,245.3 572.1,244.9 572.5,243.1 572.9,242.5 573.2,240.7 573.6,239.9 574.0,239.1 574.4,238.4 574.8,236.7 575.2,235.8 575.6,233.9 576.1,233.7 576.6,232.2 577.0,231.0 577.5,230.3 578.0,228.3 578.5,227.4 579.0,226.2 579.5,224.6 579.9,223.3 580.4,222.7 580.9,221.8 581.5,221.2 582.3,219.9 583.1,218.7 584.0,218.9 584.8,218.7 585.5,217.4 586.1,215.9 586.8,215.2 587.4,215.1 588.0,213.6 588.6,212.6 589.2,210.9 589.8,210.7 590.3,209.6 590.9,207.4 591.5,206.3 592.1,206.0 592.7,205.8 593.4,204.9 594.2,203.5 595.0,203.8 595.8,205.4 596.7,206.1 597.6,207.6 598.4,208.3 599.0,209.5 599.4,209.9 599.9,211.6 600.3,212.0 600.8,212.2 601.2,213.5 601.7,214.7 602.2,216.6 602.7,218.8 603.1,220.2 603.6,221.1 604.1,221.5 604.5,223.0 605.0,224.1 605.5,225.4 606.1,226.7 606.8,227.6 607.5,228.3 608.2,228.5 608.8,229.1 609.5,230.3 610.2,231.3 610.9,232.6 611.6,232.8 612.3,233.9 613.0,235.5 613.7,235.6 614.4,236.5 615.2,237.4 615.9,238.4 616.6,239.7 617.2,241.3 617.9,241.4 618.7,241.4 619.6,241.8 620.6,241.0 621.5,239.5 622.4,238.5 623.3,237.9 624.2,237.1 625.1,235.7 626.0,235.1 626.9,234.5 627.8,234.1 628.7,232.7 629.5,231.0 630.3,229.6 631.0,228.4 631.6,227.8 632.2,227.9 632.7,227.1"/><path d="M419.3,292.0L420.2,292.9 421.1,293.1 422.2,291.6 423.4,292.4 424.7,292.6 426.0,292.0 427.3,290.3 428.6,290.0 429.8,291.3 430.9,292.3 432.1,291.4 433.2,291.7 434.4,291.9 435.6,293.5 436.7,293.9 437.9,293.0 439.1,293.9 440.2,292.4 441.4,294.2 442.5,294.6 443.7,293.2 444.9,294.4 446.0,294.9 447.2,295.7 448.4,294.2 449.5,295.0 450.7,296.2 451.9,295.7 453.1,294.5 454.3,294.3 455.4,296.3 456.6,296.0 457.8,296.5 458.9,294.8 460.1,296.1 461.3,296.5 462.4,296.0 463.6,293.6 464.7,293.6 465.9,293.3 467.1,294.7 468.2,294.3 469.4,295.3 470.5,294.2 471.7,294.9 472.9,294.8 474.0,293.2 475.2,293.8 476.4,294.9 477.6,293.7 478.8,292.8 480.1,292.8 481.2,293.7 482.4,292.5 483.5,293.0 484.5,292.7 485.4,291.7 486.3,290.1 487.1,290.6 487.9,290.2 488.6,287.7 489.4,286.7 490.2,287.1 491.1,285.4 492.1,283.4 493.1,282.3 494.1,282.6 495.1,281.8 495.9,281.6 496.7,281.7 497.4,282.8 498.1,283.7 498.7,284.1 499.3,285.1 499.9,287.6 500.4,288.5 500.9,288.3 501.3,289.9 501.7,291.3 502.2,292.1 502.6,293.8 503.0,295.4 503.5,296.0 503.9,296.7 504.3,297.6 504.6,298.7 504.9,299.6 505.2,300.7 505.5,302.2 505.8,304.3 506.1,305.3 506.4,306.9 506.7,308.3 506.9,309.0 507.2,309.3 507.5,311.2 507.7,311.6 508.0,313.5 508.3,314.9 508.6,315.8 508.9,316.3 509.1,316.9 509.4,318.1 509.7,320.0 509.9,320.8 510.2,322.0 510.5,322.6 510.8,323.4 511.1,324.9 511.5,326.9 511.9,328.0 512.4,329.2 512.9,330.4 513.4,331.2 513.9,331.5 514.5,331.4 515.1,331.6 515.8,330.3 516.5,328.3 517.2,326.9 517.9,325.6 518.4,324.7 519.0,323.6 519.5,323.6 520.0,322.5 520.5,321.4 521.1,320.8 521.6,319.1 522.1,318.4 522.6,317.8 523.0,316.3 523.5,315.1 523.9,313.9 524.3,313.7 524.6,312.3 525.0,310.4 525.3,309.3 525.6,308.6 525.9,307.5 526.3,306.2 526.6,304.7 527.0,304.2 527.4,303.5 527.7,302.5 528.1,300.9 528.5,299.8 528.9,298.8 529.3,297.8 529.7,296.4 530.1,294.7 530.6,294.1 531.0,294.2 531.4,292.9 531.9,291.3 532.3,290.3 532.7,288.5 533.2,287.4 533.6,286.8 534.0,285.7 534.5,283.7 535.0,283.2 535.4,282.8 535.8,281.6 536.3,280.7 536.7,278.8 537.1,278.8 537.5,277.8 538.2,275.7 539.0,275.3 540.0,274.8 541.1,273.6 542.3,273.7 543.5,273.9 544.6,273.9 545.4,273.7 546.0,273.9 546.4,275.2 546.9,276.0 547.4,277.5 547.9,278.6 548.4,280.0 548.9,281.8 549.3,283.5 549.6,284.7 549.9,284.6 550.2,285.1 550.6,287.1 550.9,288.0 551.3,289.7 551.6,290.9 551.9,291.1 552.3,292.9 552.6,293.7 553.0,294.8 553.3,296.1 553.7,297.4 554.0,298.2 554.3,299.5 554.6,300.3 555.0,301.1 555.3,302.6 555.6,304.3 556.0,304.9 556.3,305.7 556.6,306.9 556.9,308.1 557.2,310.2 557.5,311.0 557.9,311.0 558.2,312.2 558.6,313.6 559.0,314.9 559.3,315.9 559.7,317.2 560.1,318.6 560.4,319.1 560.8,320.6 561.2,321.6 561.6,323.2 562.0,324.5 562.5,326.5 562.9,328.1 563.3,329.1 563.7,329.4 564.0,330.3 564.4,330.8 564.7,332.2 565.1,333.0 565.5,332.8 566.0,332.7 566.6,333.0 567.1,332.3 567.5,331.0 568.0,328.7 568.5,327.0 569.0,325.6 569.4,324.3 569.9,323.0 570.4,322.2 570.8,321.7 571.3,320.8 571.8,320.2 572.3,318.3 572.8,316.9 573.2,316.6 573.7,314.5 574.1,313.6 574.5,313.2 574.9,311.9 575.2,311.6 575.6,310.2 576.0,308.6 576.4,308.2 576.8,307.3 577.2,305.4 577.6,303.5 578.0,302.4 578.4,302.5 578.8,301.7 579.2,300.3 579.6,299.3 580.0,298.0 580.4,295.9 580.8,294.8 581.3,294.7 581.7,293.6 582.1,291.8 582.5,290.2 582.9,288.9 583.3,288.4 583.8,287.9 584.3,285.9 584.7,284.5 585.2,283.1 585.7,282.5 586.1,281.1 586.6,280.8 587.1,279.8 587.6,278.6 588.2,277.3 588.9,276.4 589.7,276.3 590.5,275.5 591.3,274.3 592.1,273.0 592.8,272.8 593.4,273.6 593.9,275.2 594.4,276.2 594.9,276.3 595.4,277.9 595.9,279.0 596.4,280.3 596.9,281.4 597.3,283.2 597.7,284.6 598.1,285.7 598.4,286.0 598.8,286.9 599.2,288.1 599.6,288.8 600.0,290.9 600.4,291.9 600.9,292.2 601.3,293.4 601.9,294.9 602.4,296.5 603.0,297.2 603.6,297.7 604.2,299.7 604.9,301.0 605.6,301.8 606.3,302.2 607.0,303.1 607.7,304.2 608.5,305.9 609.2,306.5 609.8,307.7 610.4,307.5 611.0,307.9 611.6,309.3 612.2,310.2 612.9,311.4 613.6,312.0 614.4,312.7 615.3,313.0 616.2,312.3 617.3,312.1 618.4,311.8 619.5,310.6 620.5,309.6 621.4,308.7 622.1,307.7 622.8,307.2 623.3,306.3 623.9,304.2 624.4,303.6 624.9,302.7 625.5,302.1 626.0,300.8 626.5,299.3 627.1,299.1 627.8,299.4 628.7,299.7 629.8,299.7 630.9,299.6 631.9,300.8 632.7,302.0 633.5,302.8"/><path d="M419.3,292.9L420.2,294.1 421.1,293.4 422.2,292.9 423.4,293.7 424.7,293.9 426.0,293.8 427.3,293.7 428.6,293.1 429.8,293.3 430.9,294.4 432.1,294.0 433.2,295.0 434.4,295.8 435.6,296.3 436.7,296.2 437.9,294.4 439.1,294.4 440.2,295.9 441.4,295.7 442.5,295.1 443.7,296.5 444.9,297.6 446.0,297.4 447.2,295.7 448.4,295.4 449.5,295.4 450.7,297.6 451.9,296.5 453.1,297.4 454.3,297.4 455.4,297.6 456.6,297.9 457.7,299.0 458.8,298.8 459.9,298.2 461.0,298.2 462.1,300.1 463.1,301.6 464.1,300.5 465.1,301.9 466.2,302.0 467.5,300.6 468.7,300.5 469.9,301.3 471.0,300.4 472.0,299.6 473.1,299.0 474.2,297.7 475.3,298.6 476.4,298.0 477.6,297.1 478.8,296.3 480.0,297.1 481.1,297.0 482.2,295.5 483.3,293.6 484.3,292.9 485.1,292.3 485.9,291.8 486.7,292.5 487.5,291.5 488.3,290.1 489.1,290.8 489.9,289.8 490.8,289.1 491.7,288.2 492.7,286.9 493.8,285.8 494.8,285.4 495.8,283.8 496.7,284.0 497.6,284.3 498.4,284.1 499.1,284.8 499.7,284.9 500.4,286.0 500.9,287.1 501.5,288.5 502.0,289.8 502.4,290.1 502.8,291.3 503.2,293.0 503.6,293.3 504.0,294.2 504.4,296.4 504.8,297.0 505.1,297.3 505.5,299.0 505.9,299.7 506.2,300.8 506.5,302.8 506.8,303.9 507.1,304.7 507.4,305.9 507.7,307.1 508.0,308.0 508.3,308.8 508.5,310.9 508.8,312.2 509.1,312.7 509.3,313.7 509.6,315.1 509.9,316.1 510.2,317.3 510.5,319.2 510.7,320.3 511.0,320.3 511.3,321.4 511.5,323.5 511.8,325.0 512.1,325.5 512.4,325.6 512.7,326.5 513.1,329.0 513.5,330.8 514.0,331.9 514.5,333.0 515.0,333.9 515.5,333.8 516.1,333.8 516.7,332.3 517.4,331.1 518.1,331.0 518.8,329.9 519.5,328.6 520.0,326.6 520.6,325.7 521.1,325.1 521.6,323.5 522.1,322.8 522.7,322.5 523.2,321.9 523.7,320.5 524.2,318.9 524.6,317.7 525.1,317.0 525.5,316.4 525.9,315.4 526.2,313.2 526.6,313.2 526.9,312.0 527.2,309.7 527.5,308.7 527.9,307.6 528.2,306.4 528.6,305.2 529.0,304.3 529.3,304.0 529.7,302.6 530.1,301.3 530.5,301.3 530.9,300.2 531.3,298.5 531.7,298.0 532.2,297.0 532.6,295.2 533.0,293.6 533.5,293.4 533.9,292.8 534.3,291.8 534.8,290.5 535.2,288.5 535.6,287.9 536.1,285.8 536.6,284.8 537.0,284.1 537.4,283.2 537.9,282.2 538.3,281.7 538.7,280.8 539.1,280.0 539.8,278.7 540.6,277.2 541.6,276.0 542.7,276.4 543.9,276.4 545.1,275.3 546.2,276.1 547.0,275.5 547.6,276.6 548.0,278.2 548.5,279.3 549.0,280.1 549.5,280.9 550.0,282.1 550.5,283.4 550.9,285.1 551.2,285.3 551.5,286.4 551.8,288.3 552.2,289.0 552.5,289.5 552.9,291.3 553.2,293.2 553.5,293.9 553.9,294.4 554.2,295.4 554.6,297.0 554.9,297.9 555.3,298.8 555.6,299.8 555.9,301.7 556.2,303.2 556.6,304.0 556.9,305.0 557.2,306.0 557.6,307.8 557.9,308.2 558.2,309.6 558.5,309.7 558.8,311.5 559.1,313.1 559.5,313.6 559.8,314.0 560.2,315.2 560.6,317.7 560.9,318.8 561.3,318.8 561.7,320.1 562.0,322.1 562.4,323.2 562.8,323.4 563.2,325.1 563.6,326.0 564.1,327.1 564.5,329.2 564.9,330.1 565.3,330.9 565.6,332.5 566.0,332.8 566.3,333.3 566.7,333.8 567.1,334.3 567.6,335.2 568.2,334.5 568.7,334.3 569.1,332.8 569.6,331.2 570.1,330.1 570.6,327.9 571.0,326.3 571.5,325.8 572.0,324.4 572.4,324.5 572.9,323.6 573.4,321.4 573.9,319.9 574.4,319.7 574.8,318.1 575.3,317.6 575.7,316.2 576.1,315.6 576.5,314.3 576.8,312.2 577.2,311.2 577.6,310.2 578.0,309.1 578.4,308.7 578.8,306.8 579.2,305.4 579.6,304.2 580.0,303.3 580.4,303.1 580.8,301.4 581.2,300.5 581.6,299.1 582.0,298.9 582.4,298.1 582.9,296.9 583.3,294.8 583.7,294.4 584.1,293.6 584.5,292.2 585.0,291.4 585.5,289.9 586.1,289.2 586.7,288.5 587.3,287.4 587.9,285.6 588.4,284.7 589.1,284.6 589.8,283.0 590.6,282.2 591.6,281.5 592.6,280.8 593.5,280.7 594.3,280.3 595.1,281.1 595.7,282.3 596.2,283.4 596.8,283.8 597.4,284.4 598.0,285.5 598.5,286.5 599.0,287.6 599.5,288.9 600.0,290.4 600.5,292.4 601.0,293.6 601.5,294.8 602.0,295.3 602.5,295.9 603.0,297.5 603.5,299.0 604.1,300.3 604.8,300.4 605.6,302.1 606.3,303.3 607.1,303.3 607.9,303.9 608.8,304.2 609.7,305.3 610.6,305.4 611.7,306.9 612.7,307.6 613.8,308.1 614.9,308.3 616.0,307.8 617.0,309.2 618.1,309.8 619.2,310.6 620.2,311.0 621.3,310.9 622.2,311.7 623.2,311.7 624.1,313.3 624.9,314.0 625.7,314.9 626.5,315.3 627.3,315.9 628.2,316.3 629.2,317.5 630.4,317.7 631.5,317.7 632.5,318.6 633.5,318.9"/><path d="M419.3,354.9L420.4,354.6 421.5,353.5 422.7,352.9 423.9,352.7 425.1,353.6 426.2,351.8 427.4,350.9 428.6,351.0 429.8,351.1 431.1,351.1 432.3,350.7 433.6,350.2 434.9,350.6 436.1,350.8 437.3,351.2 438.4,350.2 439.5,349.6 440.6,350.1 441.7,351.0 442.8,351.1 443.8,352.0 444.9,352.2 446.0,350.9 447.1,350.1 448.3,351.7 449.5,352.0 450.7,351.1 452.0,351.3 453.2,350.9 454.4,352.4 455.6,352.7 456.7,352.8 457.9,353.0 459.0,351.6 460.0,352.6 461.1,353.9 462.3,354.5 463.5,353.7 464.7,353.5 466.0,354.7 467.3,354.3 468.6,355.3 469.9,354.2 471.3,355.2 472.6,355.4 473.9,354.7 475.2,355.4 476.4,355.2 477.6,354.7 478.8,355.5 480.0,355.2 481.1,354.2 482.2,351.6 483.3,350.2 484.4,350.2 485.4,349.4 486.3,349.9 487.2,348.2 488.2,346.8 489.1,346.4 490.1,346.3 491.1,346.2 492.1,344.8 493.1,343.7 494.1,343.3 495.1,342.1 495.9,342.2 496.7,343.4 497.4,344.2 498.1,344.2 498.7,345.3 499.3,347.4 499.9,348.8 500.4,349.1 500.8,350.4 501.2,351.1 501.6,351.7 502.0,352.9 502.4,354.2 502.8,355.5 503.2,356.3 503.5,358.3 503.9,360.0 504.3,360.7 504.6,360.9 504.8,362.6 505.1,363.6 505.3,363.9 505.6,365.5 505.9,367.3 506.1,369.0 506.4,370.1 506.6,370.7 506.8,371.9 507.1,373.4 507.3,373.5 507.5,374.6 507.8,375.4 508.0,377.4 508.3,378.5 508.5,378.9 508.8,380.0 509.1,381.8 509.3,383.2 509.5,383.5 509.8,384.7 510.0,386.0 510.3,387.0 510.5,388.8 510.8,389.9 511.1,391.1 511.4,392.0 511.8,393.2 512.2,394.0 512.6,395.3 513.0,396.2 513.5,396.8 514.0,396.8 514.5,397.6 515.1,396.6 515.8,396.2 516.5,395.8 517.2,394.1 517.8,393.0 518.2,391.1 518.6,390.1 518.9,389.1 519.2,388.0 519.5,387.0 519.8,386.2 520.1,385.7 520.5,384.5 520.8,382.2 521.1,381.4 521.4,380.2 521.8,378.6 522.1,376.8 522.4,376.0 522.7,375.0 523.0,374.1 523.3,373.3 523.6,371.9 523.9,370.5 524.3,369.4 524.6,369.0 525.0,367.4 525.3,366.7 525.6,364.8 525.9,364.2 526.3,363.3 526.6,362.4 527.0,361.2 527.4,360.6 527.9,359.0 528.3,357.2 528.8,357.0 529.3,355.9 529.8,354.5 530.3,354.2 530.8,353.3 531.4,351.5 531.9,350.1 532.6,349.4 533.2,348.9 533.9,347.7 534.6,346.2 535.3,345.7 536.0,345.1 536.6,344.3 537.3,343.2 537.9,342.8 538.5,341.5 539.2,339.7 539.8,338.8 540.4,338.4 541.1,336.6 542.0,335.6 543.0,334.7 543.9,334.6 544.7,334.8 545.4,334.2 545.9,334.6 546.3,335.2 546.7,336.4 547.1,338.1 547.6,339.7 548.0,341.6 548.5,342.4 548.9,343.5 549.2,343.9 549.5,345.0 549.8,346.1 550.0,347.3 550.3,349.0 550.6,349.6 550.9,350.2 551.2,351.7 551.5,352.5 551.8,353.7 552.1,355.3 552.4,356.1 552.7,358.0 553.0,358.8 553.2,359.4 553.5,361.5 553.8,363.2 554.1,364.0 554.4,365.2 554.6,366.2 555.0,366.4 555.3,367.8 555.6,369.4 555.9,370.4 556.2,372.1 556.5,372.4 556.8,372.7 557.1,373.9 557.4,375.3 557.7,376.1 558.0,378.1 558.3,380.0 558.7,381.1 559.0,382.0 559.4,382.0 559.8,382.9 560.3,384.4 560.7,386.7 561.1,387.0 561.6,388.3 562.0,390.6 562.5,392.2 562.9,392.4 563.3,392.2 563.8,392.8 564.2,394.2 564.7,394.0 565.2,393.2 565.7,393.0 566.2,391.1 566.6,389.7 567.1,389.2 567.6,386.8 568.1,385.4 568.5,384.0 568.9,383.3 569.3,382.0 569.7,380.6 570.0,379.8 570.4,378.3 570.7,378.3 571.0,376.9 571.4,374.9 571.7,374.0 572.1,372.6 572.4,371.7 572.7,370.3 573.0,369.1 573.4,368.3 573.8,367.0 574.3,367.0 574.8,365.6 575.3,363.6 575.8,362.7 576.3,361.2 576.9,360.1 577.4,359.7 578.1,359.1 578.8,357.8 579.5,357.9 580.3,356.4 581.1,355.4 581.8,355.3 582.5,355.0 583.1,353.5 583.6,352.7 584.0,352.3 584.3,350.7 584.6,349.1 584.9,347.8 585.2,347.1 585.5,346.2 585.8,344.9 586.0,342.9 586.4,341.7 586.7,341.8 587.0,340.6 587.3,339.6 587.7,338.3 588.0,336.2 588.4,334.6 588.7,334.4 589.1,333.0 589.4,330.5 589.8,329.8 590.2,328.6 590.6,327.0 590.9,326.9 591.3,326.6 591.8,325.9 592.4,325.7 593.0,326.9 593.6,327.3 594.3,327.8 595.0,329.7 595.7,331.2 596.3,331.7 596.9,332.8 597.5,333.2 598.1,334.4 598.6,336.7 599.1,338.2 599.7,339.1 600.2,339.2 600.8,340.7 601.3,341.5 601.9,342.4 602.5,344.1 603.1,344.1 603.8,344.8 604.5,346.1 605.1,346.9 605.8,348.2 606.5,349.4 607.3,350.4 608.0,351.7 608.8,352.0 609.6,352.5 610.4,353.8 611.3,354.4 612.1,356.0 612.9,356.4 613.7,357.3 614.6,358.0 615.7,358.4 616.8,357.0 617.9,356.3 618.9,355.7 619.8,355.1 620.6,354.4 621.5,354.3 622.3,353.6 623.1,352.6 624.0,351.5 624.9,350.8 625.9,349.8 627.0,348.8 628.0,348.3 629.2,348.3 630.4,349.1 631.5,348.8 632.5,347.8 633.5,347.9"/><path d="M419.3,358.1L420.4,357.2 421.5,357.0 422.7,356.6 423.9,354.8 425.1,355.4 426.2,356.3 427.4,356.0 428.6,354.7 429.8,353.4 431.1,354.2 432.3,355.3 433.6,353.2 434.9,353.5 436.1,355.1 437.3,353.8 438.4,352.7 439.5,353.2 440.6,354.5 441.7,353.3 442.8,353.2 443.8,354.0 444.9,354.5 446.0,353.4 447.1,352.3 448.3,353.0 449.5,351.8 450.7,351.7 452.0,352.3 453.2,353.6 454.4,353.0 455.6,353.6 456.7,352.5 457.9,352.2 459.0,352.9 460.0,355.5 461.1,356.5 462.3,355.3 463.5,355.2 464.7,355.5 466.0,357.3 467.3,357.0 468.6,356.8 469.9,358.2 471.3,358.4 472.6,357.8 473.9,357.1 475.2,358.1 476.4,357.8 477.6,356.7 478.8,355.9 480.0,357.3 481.1,357.0 482.2,356.1 483.3,355.9 484.3,354.1 485.3,352.2 486.2,351.1 487.0,351.6 487.9,350.9 488.9,350.3 489.8,350.9 490.7,349.5 491.7,347.4 492.7,347.4 493.8,345.7 494.8,345.5 495.8,344.8 496.7,345.1 497.6,345.5 498.4,345.4 499.1,346.0 499.7,346.3 500.4,348.0 500.9,348.8 501.5,350.3 502.0,351.2 502.4,352.0 502.8,353.6 503.2,353.9 503.6,354.8 504.0,355.9 504.4,357.7 504.8,358.4 505.1,359.0 505.5,360.1 505.9,361.6 506.2,363.1 506.4,363.4 506.7,364.6 506.9,366.6 507.2,367.6 507.5,368.2 507.7,369.4 508.0,370.4 508.2,371.8 508.4,373.1 508.7,374.0 508.9,375.0 509.1,376.2 509.4,377.5 509.6,379.2 509.9,380.8 510.1,381.7 510.4,382.3 510.7,382.7 510.9,384.2 511.1,386.0 511.4,387.1 511.6,388.8 511.9,389.8 512.1,389.8 512.4,390.7 512.7,391.8 513.0,393.5 513.4,394.1 513.8,395.7 514.2,397.7 514.6,398.3 515.1,399.5 515.6,399.3 516.1,399.6 516.7,398.7 517.4,397.5 518.1,396.8 518.8,395.4 519.4,395.0 519.8,393.7 520.2,392.5 520.5,392.0 520.8,390.7 521.1,390.1 521.4,388.5 521.7,386.4 522.1,385.4 522.4,384.8 522.7,383.0 523.0,382.5 523.4,380.4 523.7,379.9 524.0,378.7 524.3,377.3 524.6,376.5 524.9,375.4 525.2,373.9 525.5,372.3 525.9,370.9 526.2,370.6 526.6,369.8 526.9,368.2 527.2,367.5 527.5,365.9 527.9,364.7 528.2,364.5 528.6,363.5 529.0,361.5 529.5,361.1 529.9,359.7 530.4,359.0 530.9,357.7 531.4,357.4 531.9,355.6 532.4,354.1 533.0,352.8 533.5,351.9 534.2,351.1 534.8,350.9 535.5,348.9 536.2,347.7 536.9,346.9 537.6,346.1 538.2,345.9 539.0,344.4 539.9,344.5 541.1,343.7 542.5,343.1 543.9,343.2 545.2,343.7 546.3,343.8 547.2,344.4 547.9,345.3 548.5,346.4 549.2,347.7 549.8,348.5 550.4,350.2 550.9,351.4 551.2,351.9 551.6,353.2 551.9,353.4 552.3,354.8 552.6,355.7 553.0,356.6 553.4,358.6 553.7,360.1 554.1,360.7 554.5,361.8 554.8,363.8 555.2,365.1 555.5,365.7 555.9,366.6 556.2,367.8 556.5,369.0 556.9,370.1 557.2,371.1 557.5,372.5 557.8,373.7 558.1,374.6 558.4,375.4 558.7,376.2 559.0,377.1 559.3,378.5 559.6,379.4 559.9,380.6 560.3,381.5 560.6,383.4 561.0,383.9 561.4,386.0 561.9,387.3 562.3,389.1 562.7,390.3 563.2,390.5 563.6,391.9 564.1,394.1 564.5,394.6 564.9,394.3 565.4,394.8 565.8,394.9 566.3,394.9 566.8,394.1 567.3,393.2 567.8,392.4 568.2,391.9 568.7,391.0 569.2,389.4 569.7,388.1 570.1,386.5 570.5,384.6 570.9,384.1 571.3,382.9 571.6,381.9 572.0,381.4 572.3,379.7 572.6,378.8 573.0,377.8 573.3,376.0 573.7,374.3 574.0,373.1 574.3,372.2 574.6,371.2 575.0,370.3 575.4,369.1 575.9,368.9 576.4,367.9 576.9,366.4 577.4,364.5 577.9,363.7 578.5,363.9 579.0,363.1 579.7,362.0 580.4,361.0 581.1,359.2 581.9,358.2 582.7,357.7 583.4,357.0 584.2,355.9 584.8,355.0 585.4,354.7 586.0,353.1 586.5,352.5 587.0,351.8 587.5,349.8 588.0,348.9 588.7,348.1 589.4,347.2 590.2,347.3 591.1,346.2 592.0,344.1 592.8,343.2 593.8,343.4 594.8,343.0 596.0,342.6 597.2,344.1 598.4,345.0 599.4,344.9 600.3,344.7 601.1,345.6 602.1,347.4 603.0,348.2 603.8,348.9 604.5,350.1 605.1,350.0 605.7,351.7 606.3,353.1 606.9,353.9 607.6,354.0 608.2,355.7 608.8,356.9 609.4,357.8 610.0,358.5 610.6,360.7 611.2,361.7 611.7,361.6 612.2,363.2 612.7,364.5 613.2,365.6 613.7,366.7 614.1,367.9 614.6,369.7 615.1,370.6 615.6,371.3 616.1,371.9 616.6,372.3 617.2,373.3 617.8,372.9 618.4,371.7 619.0,371.0 619.6,370.5 620.2,369.9 620.9,369.2 621.6,367.8 622.2,365.5 622.9,364.9 623.6,363.0 624.2,362.6 624.9,362.0 625.8,360.3 626.8,359.4 628.1,358.7 629.3,358.9 630.6,359.0 631.7,357.9 632.6,358.5 633.5,358.0"/><path d="M64.7,532.4L65.6,533.6 66.5,533.5 67.6,532.5 68.8,531.7 70.0,532.9 71.2,532.9 72.4,531.8 73.6,531.2 74.7,530.1 75.9,529.3 77.1,530.3 78.4,530.7 79.7,529.8 81.0,531.1 82.2,530.0 83.4,529.7 84.6,530.1 85.7,533.0 86.9,533.4 88.0,533.9 89.1,533.2 90.2,531.9 91.3,532.9 92.4,533.7 93.5,533.7 94.5,535.7 95.6,534.7 96.7,534.4 97.8,535.9 98.9,535.2 100.0,536.9 101.1,536.5 102.3,536.5 103.4,536.3 104.5,536.5 105.6,535.8 106.7,535.8 107.8,537.7 108.9,536.9 109.9,537.5 111.0,536.7 112.1,538.4 113.3,538.5 114.5,537.8 115.7,537.3 116.8,536.5 117.9,536.0 118.9,534.1 120.0,534.4 121.1,534.6 122.2,533.0 123.2,533.9 124.1,533.3 125.0,531.2 125.9,530.1 126.7,529.5 127.6,529.0 128.4,529.5 129.2,527.2 130.1,525.0 130.9,524.6 131.9,525.8 132.9,525.7 133.9,523.6 134.8,522.6 135.7,522.2 136.7,522.1 137.7,521.8 138.7,523.0 139.4,524.0 139.9,525.0 140.4,525.5 140.9,526.5 141.4,528.3 141.9,530.2 142.3,530.7 142.7,531.8 143.2,532.4 143.6,533.1 144.0,534.4 144.5,536.9 144.9,538.2 145.2,538.8 145.5,540.2 145.8,541.4 146.1,542.8 146.4,543.9 146.7,544.4 147.0,546.2 147.3,547.4 147.6,548.1 147.9,549.5 148.2,550.0 148.5,550.7 148.8,551.8 149.1,553.5 149.5,553.6 149.8,554.7 150.2,557.1 150.6,558.5 151.0,559.4 151.4,560.6 151.8,560.6 152.2,561.6 152.6,562.7 153.2,563.9 153.8,564.5 154.6,565.4 155.3,566.8 156.1,568.4 156.9,568.7 157.6,567.9 158.3,566.5 159.1,565.3 159.8,565.0 160.4,563.5 161.0,562.4 161.6,560.5 162.1,559.8 162.7,559.9 163.2,559.0 163.7,557.9 164.2,556.3 164.6,555.0 165.0,554.2 165.3,553.5 165.6,551.8 166.0,550.7 166.3,549.5 166.7,548.7 167.0,546.8 167.3,546.5 167.7,545.7 168.0,543.4 168.3,542.9 168.7,542.1 169.0,541.1 169.3,539.5 169.7,537.7 170.0,536.8 170.4,536.6 170.7,535.3 171.1,533.0 171.5,531.6 172.0,530.5 172.6,529.4 173.3,528.8 174.1,527.8 174.9,527.9 175.7,527.0 176.6,525.7 177.6,525.7 178.6,525.6 179.7,525.9 180.8,525.9 181.8,526.4 182.8,527.2 183.5,528.3 184.2,529.6 184.8,530.0 185.5,530.3 186.2,532.3 186.9,534.0 187.4,534.9 187.9,535.5 188.3,535.3 188.7,536.6 189.2,537.5 189.7,539.3 190.2,540.0 190.6,541.5 191.1,542.3 191.6,543.9 192.1,544.4 192.6,545.0 193.1,546.5 193.6,547.7 194.2,549.3 194.8,549.6 195.5,550.8 196.3,552.2 197.2,553.5 198.0,553.5 198.9,554.7 199.7,555.6 200.5,556.6 201.3,557.4 202.3,557.0 203.4,557.5 204.6,557.3 205.8,556.8 207.0,556.1 208.2,556.9 209.4,557.1 210.6,555.9 211.8,555.6 213.0,556.0 214.1,554.5 215.2,553.7 216.3,553.5 217.5,554.3 218.8,553.9 220.0,553.1 221.2,552.7 222.4,551.7 223.6,552.0 224.9,551.7 226.1,551.4 227.3,551.0 228.4,550.7 229.6,550.3 230.7,550.2 231.9,550.9 232.9,551.3 234.0,552.4 235.0,553.4 236.1,553.8 237.1,553.9 238.2,553.8 239.2,554.0 240.1,553.9 240.9,553.6 241.7,552.9 242.5,550.7 243.3,549.9 244.1,549.1 245.0,548.6 245.8,548.1 246.6,547.1 247.5,546.1 248.3,545.5 249.2,544.8 250.0,544.3 250.9,543.4 251.8,542.4 252.8,541.2 253.8,541.2 254.9,540.0 255.9,539.6 257.0,539.4 258.0,539.1 259.0,538.2 260.0,536.2 261.1,535.7 262.1,535.3 263.2,534.8 264.2,534.1 265.3,534.0 266.4,533.0 267.6,533.0 268.7,533.6 269.9,533.0 271.0,531.9 272.3,531.1 273.5,531.8 274.8,531.1 275.9,529.9 276.8,529.8 277.8,530.0"/><path d="M64.7,537.4L65.6,534.7 66.5,534.2 67.6,536.1 68.8,534.1 70.0,533.5 71.2,534.6 72.4,534.5 73.6,535.5 74.7,534.7 75.9,535.9 77.0,534.7 78.1,535.2 79.1,535.9 80.2,535.2 81.2,535.3 82.3,534.2 83.4,532.8 84.6,534.8 85.7,534.7 86.9,533.9 88.0,534.2 89.1,536.3 90.2,536.6 91.3,537.8 92.4,538.1 93.5,538.6 94.5,537.9 95.6,538.3 96.7,538.1 97.8,537.8 98.9,539.3 100.0,538.5 101.1,539.7 102.3,540.6 103.4,539.6 104.5,538.6 105.6,540.2 106.7,539.9 107.8,538.3 108.9,537.8 109.9,538.6 111.0,538.0 112.1,539.9 113.3,539.2 114.5,538.7 115.7,538.3 116.8,538.9 117.9,539.0 118.9,537.0 120.0,536.4 121.1,536.3 122.2,535.2 123.2,535.2 124.1,534.5 125.0,533.6 125.9,533.3 126.7,531.9 127.6,530.3 128.5,531.4 129.3,529.4 130.2,528.4 131.1,528.0 132.0,528.7 133.1,527.9 134.1,525.8 135.1,524.4 136.0,523.6 136.9,524.1 137.8,523.2 138.8,523.5 139.7,523.8 140.4,524.4 141.0,525.3 141.6,526.0 142.0,526.9 142.5,528.9 143.0,530.7 143.4,531.5 143.9,531.9 144.2,533.2 144.6,533.5 145.0,534.9 145.3,536.8 145.7,538.1 146.1,538.7 146.5,540.2 146.8,540.9 147.1,541.8 147.4,543.1 147.7,544.7 148.0,545.5 148.3,546.2 148.6,547.6 148.9,548.7 149.2,549.5 149.5,551.2 149.8,552.5 150.1,553.4 150.4,554.5 150.7,554.4 151.1,556.0 151.4,557.5 151.8,558.3 152.2,559.3 152.6,561.2 153.0,562.0 153.4,562.6 153.8,563.5 154.2,565.6 154.8,565.9 155.4,566.4 156.2,567.5 156.9,568.7 157.7,569.9 158.5,569.1 159.2,568.6 159.9,567.7 160.7,567.1 161.4,565.7 162.0,564.8 162.6,564.6 163.2,564.1 163.7,562.8 164.3,560.6 164.8,560.0 165.3,559.5 165.8,557.3 166.2,556.3 166.6,555.8 166.9,554.9 167.2,554.3 167.6,553.2 167.9,551.6 168.3,550.0 168.6,548.7 168.9,547.5 169.3,546.3 169.6,545.8 169.9,544.4 170.3,544.1 170.6,542.6 170.9,540.5 171.3,539.8 171.6,538.8 172.0,536.9 172.3,536.1 172.7,534.8 173.1,534.5 173.6,532.8 174.2,532.5 174.9,532.1 175.7,530.7 176.5,529.0 177.4,528.3 178.4,527.4 179.7,527.6 181.1,528.7 182.3,529.1 183.4,528.7 184.4,529.9 185.1,531.0 185.8,531.3 186.4,532.9 187.1,534.1 187.8,534.6 188.5,535.5 189.0,537.1 189.5,537.5 189.9,537.8 190.3,538.7 190.8,539.9 191.3,541.9 191.8,542.8 192.2,544.1 192.7,545.6 193.2,546.7 193.7,546.7 194.2,548.0 194.7,549.8 195.2,550.6 195.8,551.1 196.3,552.2 197.0,552.6 197.7,553.5 198.5,554.6 199.3,556.1 200.0,557.1 200.8,558.6 201.5,560.0 202.3,559.7 203.0,560.8 203.9,561.7 205.0,561.4 206.2,560.9 207.4,560.4 208.6,559.1 209.8,559.7 211.0,559.3 212.2,559.0 213.4,558.4 214.6,556.9 215.7,556.3 216.8,556.2 217.9,556.6 219.1,557.0 220.4,556.6 221.6,555.5 222.8,555.3 224.0,555.0 225.2,554.3 226.5,554.8 227.7,554.5 228.9,554.0 230.0,553.9 231.2,553.8 232.3,553.6 233.5,553.4 234.5,553.7 235.6,554.2 236.6,554.9 237.7,556.7 238.7,556.5 239.8,556.2 240.8,556.5 241.7,556.1 242.5,555.8 243.3,554.9 244.1,553.7 244.9,553.1 245.7,552.2 246.6,551.3 247.5,551.0 248.5,549.7 249.4,549.3 250.4,549.3 251.4,548.6 252.3,546.9 253.3,545.8 254.2,546.2 255.1,545.0 256.0,543.6 256.9,542.6 257.8,542.1 258.7,541.5 259.7,540.6 260.6,540.1 261.6,541.0 262.7,540.3 263.7,538.8 264.8,538.8 265.8,538.9 266.9,538.0 268.1,536.9 269.3,536.9 270.4,536.9 271.6,537.3 272.8,536.6 274.1,535.9 275.5,535.5 276.6,534.5 277.8,534.9"/><path d="M64.7,585.7L65.8,586.0 66.8,585.6 68.1,583.9 69.5,585.0 70.8,585.3 72.0,585.6 73.0,584.9 74.1,585.3 75.2,586.3 76.3,586.2 77.4,586.6 78.6,585.7 79.7,585.9 80.8,587.4 82.0,586.8 83.1,586.8 84.3,586.9 85.5,585.5 86.7,584.7 87.9,586.4 89.0,586.4 90.2,586.6 91.3,587.1 92.5,587.9 93.7,587.0 94.9,587.7 96.0,587.2 97.2,587.7 98.4,587.9 99.5,586.7 100.7,586.0 101.9,587.1 103.1,587.9 104.2,587.5 105.4,587.0 106.4,587.0 107.5,585.6 108.6,585.3 109.8,585.9 110.9,586.8 112.0,585.0 113.0,584.1 114.1,583.7 115.2,583.4 116.3,583.9 117.4,584.8 118.5,585.0 119.6,583.4 120.7,582.7 121.8,582.0 122.9,581.9 124.1,582.7 125.2,581.7 126.5,580.1 127.7,579.5 128.8,580.7 130.0,580.4 131.0,579.5 132.0,577.3 133.1,577.2 134.2,577.4 135.3,576.5 136.5,576.4 137.6,575.9 138.6,577.3 139.3,577.2 139.8,578.3 140.2,579.2 140.7,581.4 141.1,582.9 141.5,584.5 141.9,585.7 142.3,586.8 142.7,587.5 143.0,589.0 143.4,589.7 143.7,590.4 144.1,592.2 144.5,592.5 144.8,593.0 145.1,594.0 145.4,595.5 145.7,596.7 146.0,599.0 146.3,600.2 146.6,600.2 146.8,601.0 147.1,602.7 147.4,603.6 147.7,605.3 148.0,606.7 148.3,607.0 148.6,608.3 149.0,610.1 149.4,610.6 149.8,611.6 150.2,613.5 150.6,614.7 151.0,615.9 151.5,616.6 152.0,617.4 152.5,619.0 153.0,620.5 153.5,621.3 154.1,621.8 154.6,622.8 155.1,624.0 155.7,625.2 156.3,625.4 156.9,625.4 157.7,625.1 158.4,623.3 159.2,622.5 159.8,621.1 160.4,620.4 160.8,619.7 161.3,618.1 161.7,617.6 162.2,615.6 162.6,614.8 163.1,613.7 163.5,612.2 163.9,611.4 164.4,610.3 164.8,609.2 165.3,608.3 165.8,606.3 166.2,605.7 166.7,605.2 167.1,603.6 167.6,603.3 168.1,601.7 168.5,601.0 169.0,599.5 169.5,598.7 170.1,597.6 170.6,596.3 171.1,596.1 171.7,595.0 172.3,594.2 172.9,593.1 173.5,592.0 174.1,590.8 174.8,589.5 175.5,588.9 176.2,586.9 176.9,586.7 177.6,585.8 178.3,584.5 179.0,584.2 179.8,583.9 180.5,583.7 181.3,583.7 182.1,584.5 182.8,585.6 183.6,587.1 184.3,589.2 184.9,589.7 185.4,590.6 185.9,591.9 186.3,593.4 186.8,594.2 187.2,595.2 187.6,595.9 188.0,596.9 188.4,597.8 188.8,599.0 189.2,600.5 189.6,602.4 190.1,603.1 190.5,603.6 190.9,605.1 191.3,606.0 191.7,607.7 192.1,608.9 192.6,610.4 193.0,610.9 193.5,612.4 193.9,613.0 194.4,614.7 194.8,615.2 195.3,615.4 195.9,617.2 196.4,617.8 197.0,618.6 197.6,619.6 198.2,621.4 198.7,621.8 199.3,623.5 200.0,624.5 200.6,625.8 201.2,626.2 201.9,627.1 202.6,629.1 203.2,629.6 203.9,629.6 204.6,631.0 205.5,631.0 206.4,629.4 207.3,628.5 208.3,628.4 209.2,627.2 210.2,627.0 211.1,626.2 212.1,625.9 213.2,625.6 214.3,625.7 215.5,625.9 216.6,625.6 217.8,625.5 219.0,625.1 220.1,624.6 221.2,624.7 222.4,625.6 223.5,624.9 224.6,625.0 225.8,625.1 226.9,625.7 227.9,626.1 229.0,626.9 230.0,626.8 231.0,627.2 232.1,628.0 233.1,628.5 234.1,628.5 235.0,627.5 235.8,627.7 236.6,627.5 237.5,626.5 238.3,624.5 239.1,623.9 240.0,623.8 240.9,622.9 241.7,620.9 242.6,620.5 243.5,620.4 244.3,619.7 245.2,618.5 246.2,617.3 247.1,616.6 248.0,615.5 249.0,615.2 249.9,614.9 250.8,614.8 251.7,613.9 252.6,612.8 253.4,611.8 254.3,611.3 255.2,611.0 256.1,609.8 257.0,608.7 257.8,608.7 258.7,607.9 259.4,607.4 260.2,606.1 261.0,605.2 261.8,604.2 262.6,603.7 263.4,603.5 264.2,602.9 265.0,601.5 265.8,600.0 266.5,598.7 267.3,598.6 268.0,597.2 268.7,595.7 269.4,594.0 270.2,592.9 270.9,592.6 271.6,592.7 272.3,591.9 273.1,591.4 274.1,591.3 275.1,591.2 276.1,591.9 277.0,593.2 277.8,593.5"/><path d="M64.7,587.5L65.8,587.7 66.8,586.7 68.1,588.3 69.5,587.3 70.8,587.9 72.0,587.4 73.0,588.7 74.1,588.1 75.2,589.6 76.3,590.2 77.4,590.3 78.6,589.7 79.7,590.8 80.8,590.6 82.0,588.2 83.1,588.9 84.3,590.0 85.5,589.3 86.7,588.0 87.9,587.8 89.0,589.0 90.2,587.6 91.3,589.2 92.5,589.7 93.7,588.1 94.9,588.3 96.0,588.7 97.2,589.3 98.4,589.4 99.5,590.8 100.7,590.8 101.9,589.3 103.1,589.9 104.2,587.7 105.4,587.5 106.4,589.2 107.5,589.8 108.6,590.0 109.8,590.2 110.9,589.4 112.0,587.7 113.0,588.6 114.1,588.6 115.2,586.3 116.3,586.4 117.4,585.4 118.5,585.0 119.6,585.7 120.7,586.3 121.8,586.3 122.9,583.8 124.1,584.1 125.2,585.2 126.4,584.2 127.7,582.6 128.9,581.3 130.1,581.3 131.3,580.1 132.4,580.2 133.6,579.6 134.7,578.6 135.7,578.5 136.7,577.6 137.7,577.5 138.7,578.0 139.6,577.7 140.4,578.3 141.0,579.7 141.4,580.8 141.8,582.2 142.3,582.6 142.7,583.7 143.1,584.7 143.6,586.4 144.0,587.6 144.3,589.0 144.7,590.5 145.1,591.0 145.5,593.4 145.9,594.6 146.3,595.7 146.7,596.5 147.0,597.5 147.3,598.4 147.6,599.5 147.9,600.4 148.2,601.7 148.4,602.9 148.7,604.4 149.0,606.4 149.3,607.5 149.6,608.1 149.9,608.2 150.2,609.5 150.6,611.3 151.0,612.7 151.4,613.5 151.8,615.0 152.2,616.4 152.6,616.7 153.1,617.9 153.6,619.6 154.1,620.5 154.6,622.1 155.1,622.8 155.7,623.4 156.2,624.8 156.7,625.5 157.3,627.2 157.9,627.8 158.5,627.5 159.3,627.2 160.0,625.4 160.8,624.1 161.4,622.5 162.0,621.4 162.4,621.3 162.9,619.7 163.3,619.6 163.8,618.3 164.2,617.0 164.7,615.2 165.1,615.2 165.5,613.9 166.0,611.8 166.4,610.5 166.9,609.6 167.4,608.9 167.8,607.6 168.3,607.5 168.7,606.4 169.2,605.5 169.7,604.0 170.1,603.5 170.6,602.4 171.1,601.5 171.7,600.4 172.2,600.1 172.7,599.0 173.3,597.7 173.9,595.9 174.5,594.6 175.2,593.5 176.0,592.9 176.8,593.1 177.7,591.8 178.6,591.5 179.5,590.2 180.4,590.1 181.3,589.6 182.2,589.9 183.1,591.0 184.0,591.8 184.9,592.9 185.7,592.9 186.5,593.6 187.1,594.4 187.7,595.8 188.2,597.9 188.8,598.6 189.3,599.3 189.8,600.4 190.3,602.1 190.7,603.1 191.2,603.2 191.6,604.0 192.0,605.5 192.4,607.6 192.8,608.6 193.1,608.8 193.5,609.7 193.8,611.0 194.2,612.7 194.6,613.8 195.1,614.0 195.5,614.9 196.0,616.1 196.4,617.9 196.9,618.7 197.5,619.9 198.0,620.1 198.6,621.4 199.2,622.6 199.8,623.9 200.4,624.0 201.0,624.9 201.7,626.9 202.3,628.2 203.0,628.5 203.6,628.9 204.3,629.5 204.9,630.9 205.6,632.4 206.4,632.4 207.3,632.9 208.3,633.3 209.4,632.9 210.5,632.8 211.6,633.5 212.6,634.4 213.7,634.3 214.8,633.6 216.0,634.1 217.2,634.2 218.4,633.5 219.5,632.7 220.6,632.1 221.6,632.5 222.7,632.0 223.8,630.7 225.0,629.8 226.2,629.5 227.3,630.1 228.4,629.7 229.6,628.6 230.6,628.1 231.7,627.6 232.7,626.3 233.8,626.1 234.9,625.7 235.9,625.5 237.0,624.2 238.0,624.2 239.0,622.9 240.0,622.9 241.0,622.5 242.0,620.8 243.0,620.2 244.0,619.1 244.9,618.9 245.8,618.5 246.8,618.3 247.7,617.2 248.7,616.9 249.6,616.1 250.6,615.3 251.6,613.7 252.6,612.7 253.5,612.5 254.5,611.5 255.5,611.2 256.6,610.2 257.6,610.2 258.6,610.1 259.7,609.6 260.8,607.9 261.9,607.1 263.0,607.2 264.1,607.3 265.2,605.9 266.2,605.4 267.2,604.6 268.2,603.6 269.1,603.3 270.0,602.2 270.9,601.5 271.7,600.9 272.5,599.8 273.2,598.4 273.9,598.2 274.8,598.0 275.8,598.2 276.8,597.6 277.8,598.7"/><path d="M64.7,658.1L65.8,659.3 66.8,658.7 68.1,656.9 69.5,657.8 70.9,656.9 72.3,655.3 73.6,656.8 74.9,655.2 76.2,654.8 77.5,655.2 78.7,655.5 79.8,655.0 80.9,656.9 82.0,658.0 83.1,658.0 84.2,658.9 85.4,659.3 86.7,659.6 87.9,658.1 89.2,658.2 90.5,658.2 91.8,657.5 93.1,659.2 94.5,658.1 95.8,656.4 97.2,657.2 98.4,656.8 99.6,656.1 100.8,656.1 102.0,656.8 103.2,656.4 104.4,657.7 105.5,657.8 106.6,657.5 107.8,659.1 108.9,657.7 110.1,658.5 111.3,660.6 112.6,659.9 113.8,660.3 115.0,660.6 116.0,660.0 117.0,659.6 118.0,659.0 118.9,657.9 119.8,656.5 120.7,657.4 121.6,655.6 122.7,654.3 123.8,655.0 125.0,656.0 126.3,655.2 127.5,654.1 128.6,653.2 129.5,651.9 130.2,651.7 130.9,649.9 131.5,647.8 132.2,646.6 132.9,645.9 133.7,646.5 134.5,646.0 135.3,644.3 136.2,642.1 137.0,641.2 137.8,641.6 138.5,640.8 139.2,640.7 139.8,642.2 140.4,643.6 140.9,644.8 141.3,645.7 141.7,646.5 142.1,647.7 142.4,648.9 142.8,650.2 143.1,651.0 143.5,652.2 143.8,654.0 144.0,654.2 144.3,655.8 144.5,656.8 144.7,658.3 144.9,659.4 145.1,660.3 145.3,661.3 145.6,661.8 145.8,662.8 146.1,664.8 146.4,665.4 146.8,666.4 147.1,668.6 147.5,669.4 147.9,669.8 148.3,671.4 148.7,672.4 149.1,674.2 149.6,674.9 150.1,676.8 150.6,677.5 151.1,678.0 151.7,679.8 152.3,682.0 152.9,682.7 153.6,682.7 154.2,683.5 154.9,683.6 155.7,683.4 156.5,683.7 157.4,682.9 158.3,681.2 159.1,680.5 159.9,679.9 160.5,678.8 161.1,676.6 161.6,675.5 162.2,675.5 162.7,673.7 163.3,672.4 163.8,672.0 164.3,670.5 164.8,669.9 165.3,668.9 165.8,667.2 166.2,666.2 166.7,665.1 167.1,664.6 167.6,662.9 168.1,661.9 168.5,661.5 169.0,659.8 169.4,658.8 169.9,657.8 170.3,656.2 170.7,655.6 171.1,655.6 171.6,654.9 172.0,653.0 172.5,651.7 173.0,650.2 173.5,649.6 174.0,648.6 174.5,647.6 175.0,646.3 175.5,645.3 176.1,645.1 176.6,643.8 177.2,641.9 177.7,640.1 178.2,639.0 178.7,638.1 179.3,637.4 179.9,637.1 180.5,636.0 181.3,634.6 182.0,634.7 182.7,633.9 183.4,633.2 184.1,632.4 184.8,630.7 185.6,630.5 186.3,630.2 187.0,629.6 187.5,628.8 188.0,630.5 188.5,631.7 189.0,631.7 189.5,633.8 190.0,634.9 190.5,635.2 191.0,637.2 191.4,638.7 191.8,639.6 192.2,640.0 192.6,642.0 193.0,642.1 193.4,643.3 193.8,645.7 194.2,646.3 194.6,646.8 195.1,648.3 195.6,649.7 196.0,650.6 196.5,652.5 197.0,653.3 197.5,653.8 198.0,654.6 198.5,655.6 199.1,657.8 199.6,658.4 200.2,660.1 200.8,660.7 201.4,661.3 202.1,661.7 203.0,662.8 203.9,663.1 205.0,664.1 206.0,664.9 206.9,665.1 207.8,663.8 208.7,663.1 209.5,663.1 210.3,661.4 211.1,660.4 211.9,659.9 212.6,659.2 213.2,658.8 213.9,657.0 214.5,656.8 215.1,655.3 215.8,653.6 216.4,652.9 217.0,652.7 217.5,650.9 218.1,649.8 218.6,648.5 219.2,648.1 219.7,647.6 220.3,646.5 220.8,644.9 221.4,644.0 222.0,643.6 222.6,642.7 223.2,640.7 223.8,639.1 224.5,639.0 225.1,637.3 225.8,636.0 226.4,634.5 227.0,633.5 227.6,633.3 228.2,633.7 228.8,633.8 229.5,635.0 230.1,635.4 230.7,637.0 231.3,637.7 231.9,639.6 232.5,641.6 233.0,641.9 233.5,642.9 234.0,644.0 234.5,646.3 235.1,647.1 235.6,647.8 236.3,648.9 237.1,649.5 238.0,650.5 239.2,649.9 240.5,649.0 241.7,648.6 243.0,648.3 244.2,648.8 245.5,647.9 246.8,648.0 248.0,647.7 249.2,646.7 250.4,646.9 251.5,646.7 252.5,646.6 253.7,646.2 254.8,645.5 256.0,644.3 257.1,643.5 258.3,642.8 259.5,642.0 260.7,642.3 261.9,642.5 263.1,641.7 264.3,641.7 265.5,640.8 266.7,640.8 267.9,641.3 269.2,642.2 270.3,642.0 271.5,642.6 272.6,642.5 273.7,643.7 274.7,644.4 275.8,645.5 276.8,644.9 277.7,645.8 278.4,647.3 279.1,647.3"/><path d="M64.7,661.2L65.6,659.3 66.4,658.9 67.4,659.3 68.6,658.2 69.8,659.5 71.0,659.2 72.3,657.2 73.6,658.2 74.9,658.0 76.2,658.4 77.5,659.4 78.7,659.4 79.8,658.3 80.9,659.5 82.0,660.4 83.1,660.7 84.2,659.2 85.4,661.1 86.7,659.9 87.9,659.6 89.2,661.0 90.5,662.0 91.8,661.8 93.1,660.2 94.5,660.3 95.8,658.9 97.2,660.5 98.4,659.4 99.6,659.4 100.8,658.4 102.0,658.0 103.2,658.4 104.4,660.2 105.5,660.9 106.6,661.8 107.8,662.0 108.9,661.5 110.1,662.3 111.3,661.8 112.6,663.2 113.8,662.6 115.0,663.6 116.0,662.1 117.0,661.3 118.1,660.6 119.2,658.5 120.3,657.8 121.5,658.6 122.7,658.3 123.8,656.2 125.0,656.4 126.3,656.4 127.5,657.3 128.6,656.9 129.4,654.0 130.2,653.5 130.8,652.1 131.5,653.0 132.2,652.7 132.9,651.0 133.6,649.1 134.4,646.9 135.2,645.9 136.1,645.3 136.9,644.2 137.8,643.6 138.6,643.9 139.4,643.0 140.1,643.5 140.8,643.8 141.5,644.8 142.0,646.1 142.5,647.0 142.9,647.5 143.3,648.6 143.7,649.3 144.0,649.8 144.4,651.0 144.7,653.0 145.1,654.4 145.4,656.1 145.6,656.9 145.9,658.0 146.1,658.6 146.3,659.9 146.5,661.1 146.7,661.0 146.9,662.0 147.2,663.7 147.4,664.9 147.7,666.0 148.0,666.6 148.3,667.6 148.6,668.9 149.0,670.5 149.3,670.9 149.7,672.0 150.1,674.0 150.4,674.7 150.8,675.3 151.2,677.5 151.7,678.4 152.2,680.0 152.7,681.0 153.3,682.0 153.9,682.8 154.5,683.7 155.2,685.7 155.8,685.8 156.5,685.6 157.3,685.4 158.1,685.7 159.0,685.4 159.9,683.6 160.7,682.8 161.5,681.5 162.1,680.2 162.7,679.4 163.2,678.6 163.8,677.5 164.3,675.1 164.9,673.9 165.4,672.9 165.9,671.6 166.4,670.9 166.9,670.0 167.4,668.8 167.8,667.9 168.3,666.6 168.7,666.7 169.2,665.4 169.7,663.4 170.1,662.5 170.6,662.1 171.1,660.5 171.5,659.8 172.0,658.1 172.5,657.7 173.0,656.9 173.5,655.7 174.0,654.9 174.5,654.1 175.1,652.8 175.6,650.4 176.1,649.4 176.6,648.1 177.1,647.6 177.7,645.8 178.2,644.3 178.8,642.9 179.3,641.8 179.9,641.1 180.4,640.3 180.9,639.9 181.6,639.5 182.4,638.3 183.3,636.8 184.1,636.3 184.9,637.0 185.5,637.0 186.1,638.3 186.7,639.7 187.3,640.3 187.9,641.0 188.6,641.4 189.2,642.8 189.8,644.6 190.4,644.3 191.1,645.1 191.7,646.8 192.4,647.7 193.0,649.0 193.6,649.6 194.1,650.5 194.6,651.8 195.0,653.6 195.5,654.6 195.9,655.0 196.4,657.0 196.8,658.4 197.3,659.0 197.7,659.4 198.2,660.6 198.6,662.8 199.1,662.9 199.5,663.5 200.0,665.0 200.5,667.5 200.9,668.9 201.4,669.7 201.9,670.8 202.5,671.3 203.0,671.1 203.7,672.2 204.5,673.7 205.4,674.8 206.4,675.7 207.4,676.1 208.4,675.9 209.3,676.8 210.2,678.0 211.1,677.6 212.0,676.5 212.7,676.4 213.5,676.2 214.2,674.2 214.9,672.9 215.6,672.9 216.2,671.9 216.9,670.5 217.6,669.6 218.3,668.6 219.0,668.1 219.7,666.8 220.3,666.2 221.0,665.9 221.6,664.5 222.2,662.8 222.7,661.5 223.3,660.8 223.9,659.6 224.4,659.5 225.0,658.3 225.7,657.1 226.4,656.0 227.1,655.4 227.9,654.0 228.7,652.8 229.5,651.6 230.2,650.8 230.9,650.7 231.6,651.4 232.2,652.9 232.7,653.6 233.3,653.8 233.9,654.7 234.4,656.4 235.0,658.2 235.6,659.0 236.1,660.2 236.6,661.1 237.2,663.2 237.7,664.3 238.2,665.5 238.8,667.3 239.3,667.8 239.9,668.3 240.4,669.7 241.1,670.6 241.9,670.3 242.8,670.0 243.7,668.6 244.7,667.2 245.6,666.6 246.6,665.5 247.6,666.0 248.7,665.0 249.7,663.6 250.8,663.3 251.8,663.4 252.7,663.2 253.6,662.4 254.6,661.0 255.6,660.6 256.5,659.4 257.5,658.7 258.4,658.4 259.4,657.4 260.3,656.1 261.2,654.5 262.1,654.2 263.1,654.1 264.0,653.1 264.9,652.3 265.8,653.1 266.8,652.9 267.7,653.5 268.7,653.5 269.6,654.2 270.6,655.3 271.5,656.2 272.3,657.6 273.3,657.9 274.2,658.3 275.2,659.5 276.1,660.8 277.0,661.5 277.8,661.4 278.4,662.7 279.1,664.2"/><path d="M64.7,716.7L65.8,716.9 66.8,717.1 68.1,714.8 69.5,714.4 70.9,716.0 72.3,715.0 73.6,715.0 74.9,715.8 76.2,714.7 77.5,716.0 78.7,715.0 79.8,714.3 80.9,716.4 82.0,715.9 83.1,715.1 84.2,717.1 85.4,717.7 86.7,717.7 87.9,717.9 89.2,718.2 90.5,716.3 91.8,718.1 93.1,717.6 94.5,716.5 95.8,717.0 97.2,716.5 98.4,717.0 99.6,716.8 100.7,715.5 101.9,713.8 103.0,713.7 104.1,713.5 105.3,714.3 106.4,714.6 107.5,713.7 108.6,712.5 109.7,711.8 110.9,713.2 112.1,713.2 113.3,714.7 114.6,713.6 115.9,714.6 117.2,712.8 118.6,713.7 119.9,712.9 121.2,713.0 122.5,712.4 123.8,711.8 125.0,712.0 126.1,712.3 127.1,710.6 128.1,709.8 129.0,709.7 129.9,707.5 130.7,706.8 131.5,706.5 132.1,705.5 132.8,704.0 133.3,704.2 134.0,702.7 134.7,700.8 135.5,700.1 136.4,698.9 137.3,698.4 138.3,697.8 139.2,698.2 140.1,699.2 140.8,700.1 141.4,700.4 141.9,701.4 142.4,702.6 142.9,704.0 143.3,705.3 143.6,705.5 143.9,706.9 144.3,708.0 144.7,709.4 145.0,710.0 145.4,710.0 145.8,711.3 146.2,713.5 146.6,714.3 147.0,715.6 147.4,716.2 147.7,717.8 148.1,718.8 148.4,719.7 148.8,720.5 149.1,722.8 149.5,724.2 149.8,725.1 150.2,725.8 150.5,726.2 150.9,727.4 151.3,729.3 151.6,729.8 152.0,731.0 152.5,732.8 152.9,733.7 153.4,735.6 153.9,736.2 154.4,738.1 154.9,738.7 155.4,739.5 155.9,741.1 156.4,742.3 156.8,742.0 157.3,742.8 157.8,742.9 158.4,741.3 158.9,740.8 159.4,739.6 159.9,738.6 160.4,737.7 160.9,735.7 161.5,733.9 162.0,732.7 162.5,732.3 163.0,730.6 163.5,730.4 164.0,729.9 164.5,728.5 165.0,727.4 165.5,725.4 165.9,724.8 166.4,723.8 166.9,722.1 167.3,721.3 167.8,720.1 168.3,718.7 168.8,717.9 169.2,716.7 169.7,716.6 170.1,714.8 170.6,714.1 171.0,713.2 171.4,711.4 171.9,711.6 172.3,710.7 172.7,709.1 173.2,707.9 173.6,707.2 174.1,705.7 174.7,704.2 175.3,703.9 175.8,702.1 176.5,701.2 177.1,700.3 177.8,699.4 178.4,697.9 179.1,697.0 179.7,695.7 180.4,695.2 181.3,693.9 182.4,693.3 183.7,693.3 184.9,693.5 186.1,693.8 187.3,693.7 188.4,692.9 189.4,692.7 190.1,694.0 190.8,695.0 191.3,695.9 191.9,696.2 192.4,698.0 192.9,698.5 193.4,700.4 193.9,701.7 194.4,701.9 194.8,702.6 195.3,703.6 195.9,704.2 196.4,705.9 197.0,707.5 197.6,708.6 198.1,709.2 198.6,710.2 199.1,711.3 199.7,711.5 200.3,712.4 200.9,714.1 201.5,714.0 202.1,715.3 202.7,717.1 203.3,718.4 203.9,719.0 204.6,719.1 205.3,720.6 206.0,720.9 206.7,722.2 207.5,723.5 208.2,724.6 209.0,724.5 209.8,725.2 210.5,725.9 211.3,726.7 212.0,727.4 212.9,728.7 213.7,729.6 214.5,730.9 215.4,732.7 216.2,732.9 217.1,733.9 217.9,734.0 218.6,734.5 219.3,735.8 220.0,735.7 220.5,734.9 221.1,733.1 221.6,732.5 222.1,731.0 222.6,730.2 223.1,728.7 223.6,727.2 224.1,726.1 224.6,724.6 225.2,723.9 225.9,723.3 226.7,722.2 227.5,721.4 228.4,720.7 229.4,719.1 230.4,719.2 231.4,719.1 232.5,717.9 233.7,717.0 234.8,716.9 235.8,716.4 236.7,717.4 237.6,717.8 238.3,717.7 239.0,719.2 239.6,720.6 240.3,722.1 241.0,722.7 241.6,723.1 242.3,724.0 243.0,725.5 243.7,726.4 244.5,727.6 245.2,729.4 246.0,730.4 246.9,730.0 247.9,730.5 248.9,730.6 250.0,730.7 251.1,730.6 252.2,729.4 253.2,728.8 254.1,727.9 254.9,726.6 255.5,726.3 256.1,726.1 256.7,724.7 257.3,722.7 257.8,721.6 258.4,720.4 259.1,719.7 259.7,718.6 260.4,717.1 261.1,716.6 261.9,716.3 262.6,714.7 263.4,714.2 264.3,714.0 265.3,712.9 266.3,712.5 267.4,712.6 268.6,712.3 269.8,712.3 271.0,712.8 272.2,713.9 273.5,714.4 274.8,714.3 276.1,713.4 277.2,713.8 278.1,714.9 279.1,714.9"/><path d="M64.7,716.8L65.8,717.1 66.8,718.1 68.1,717.1 69.5,716.8 70.9,717.6 72.3,717.4 73.6,716.8 74.9,717.4 76.2,718.2 77.5,716.5 78.7,716.1 79.8,715.9 80.9,716.6 82.0,717.2 83.1,719.4 84.2,718.8 85.4,719.8 86.7,718.5 87.9,719.9 89.2,719.6 90.5,720.0 91.8,719.8 93.1,718.7 94.5,718.6 95.8,719.3 97.2,717.6 98.4,717.1 99.6,718.6 100.7,718.0 101.9,716.5 103.0,716.7 104.1,717.1 105.3,715.0 106.4,713.8 107.5,714.1 108.6,713.6 109.7,713.8 110.9,713.8 112.1,716.1 113.3,716.7 114.6,715.6 115.9,715.2 117.2,715.2 118.6,716.8 119.9,716.7 121.2,715.4 122.5,713.6 123.8,713.4 125.0,714.3 126.1,712.8 127.1,713.0 128.1,711.6 129.1,709.5 130.0,709.4 130.9,710.4 131.7,708.6 132.5,708.3 133.3,707.6 134.0,705.9 134.7,705.2 135.5,705.0 136.3,703.8 137.2,702.5 138.1,701.7 139.1,700.9 140.1,700.8 141.2,701.2 142.2,701.5 143.0,702.9 143.5,703.1 144.0,704.1 144.5,706.0 144.9,706.0 145.2,707.2 145.5,708.5 145.9,709.6 146.3,711.1 146.6,712.1 147.0,712.7 147.4,713.4 147.8,715.7 148.2,716.3 148.6,717.1 149.0,718.0 149.3,719.0 149.7,719.9 150.0,721.3 150.4,723.1 150.7,723.9 151.1,725.3 151.4,726.5 151.8,727.0 152.1,728.8 152.5,729.5 152.9,731.3 153.2,732.6 153.6,733.0 154.1,733.9 154.5,735.6 155.0,737.8 155.5,739.3 156.0,740.2 156.5,740.9 157.0,742.0 157.5,743.3 158.0,743.8 158.4,744.8 158.9,744.6 159.4,744.6 159.9,744.2 160.3,743.6 160.8,743.1 161.2,742.1 161.7,740.7 162.2,739.0 162.6,737.2 163.1,735.9 163.6,735.0 164.1,734.6 164.6,733.2 165.1,731.2 165.6,730.1 166.1,728.9 166.6,728.3 167.1,728.2 167.5,726.8 168.0,725.0 168.5,724.9 168.9,723.9 169.4,722.3 169.9,720.4 170.4,719.1 170.8,718.4 171.3,718.5 171.7,716.8 172.2,715.3 172.6,715.2 173.0,713.9 173.5,712.5 173.9,711.4 174.3,710.0 174.8,708.9 175.2,709.0 175.7,708.2 176.3,706.4 176.9,705.6 177.4,704.8 178.1,702.8 178.7,702.6 179.4,700.5 180.0,699.4 180.7,698.0 181.3,697.2 182.0,696.3 182.9,695.7 184.0,695.5 185.3,695.3 186.5,695.0 187.7,695.4 188.9,695.5 190.0,694.7 191.0,695.2 191.7,696.1 192.4,696.4 192.9,697.3 193.5,699.5 194.0,700.3 194.6,701.2 195.1,702.4 195.6,703.0 196.2,703.8 196.7,704.7 197.3,706.1 198.0,707.3 198.6,708.8 199.1,710.4 199.7,711.3 200.2,712.0 200.7,712.9 201.3,714.0 201.9,714.4 202.5,716.1 203.1,716.4 203.7,718.1 204.3,718.9 204.9,720.1 205.5,721.2 206.2,720.8 206.9,721.8 207.6,722.6 208.3,723.7 209.1,724.7 209.8,726.2 210.6,727.3 211.4,727.3 212.1,727.9 212.9,728.3 213.6,729.0 214.5,730.1 215.3,731.3 216.1,733.4 217.0,734.1 217.8,735.6 218.7,736.6 219.5,736.5 220.2,737.0 220.9,737.3 221.6,736.9 222.1,736.3 222.7,735.0 223.2,735.0 223.7,734.4 224.2,733.1 224.7,731.5 225.2,729.7 225.7,727.8 226.2,726.5 226.7,725.9 227.4,724.8 228.0,724.5 228.7,724.1 229.4,722.5 230.2,722.0 231.0,721.2 232.0,721.5 233.0,720.7 234.1,720.0 235.3,719.3 236.4,718.8 237.4,719.6 238.3,719.5 239.2,720.4 239.9,721.1 240.6,722.0 241.2,722.4 241.9,723.9 242.6,724.8 243.2,725.4 243.9,727.2 244.6,727.8 245.3,728.7 246.1,729.3 246.8,730.5 247.6,731.0 248.6,731.8 249.7,732.8 250.9,732.1 252.2,732.3 253.4,731.5 254.6,731.3 255.7,730.8 256.7,729.1 257.5,728.1 258.3,728.0 259.1,726.5 259.8,725.7 260.6,724.3 261.4,724.3 262.3,723.3 263.1,721.5 264.0,721.2 264.9,720.1 265.9,720.1 266.9,719.1 268.0,719.1 269.1,719.3 270.3,720.6 271.5,720.4 272.7,721.0 274.1,721.5 275.5,721.1 276.8,721.8 277.9,722.0 279.1,722.0"/><path d="M64.7,771.1L65.8,770.7 66.8,771.4 68.1,770.1 69.5,770.0 70.9,769.5 72.2,769.9 73.5,770.8 74.8,768.7 76.1,768.8 77.4,768.3 78.6,768.8 79.8,770.0 80.9,768.4 81.9,768.3 83.0,767.8 84.1,768.1 85.2,767.0 86.4,765.8 87.6,766.1 88.7,766.4 89.8,767.4 90.9,767.0 92.0,766.6 93.0,768.1 93.9,768.1 95.0,768.8 96.0,768.6 97.2,769.6 98.2,770.8 99.3,770.6 100.4,771.1 101.6,771.1 102.7,770.6 103.9,770.4 105.1,769.9 106.3,770.5 107.6,770.6 108.8,769.3 110.0,770.8 111.2,769.7 112.4,768.7 113.6,768.9 114.8,769.6 116.0,769.5 117.2,770.6 118.4,771.4 119.5,772.3 120.6,772.5 121.7,773.8 122.9,773.4 124.1,772.9 125.3,774.4 126.5,774.7 127.8,775.3 129.0,774.8 130.2,774.2 131.4,771.4 132.4,770.7 133.4,771.0 134.3,768.7 135.0,769.2 135.7,768.2 136.3,765.8 136.9,764.9 137.6,765.1 138.3,764.4 139.1,763.1 139.9,761.7 140.8,760.4 141.6,758.8 142.4,758.2 143.1,759.6 143.8,761.2 144.4,762.5 145.0,762.8 145.6,763.0 146.3,764.2 146.9,765.7 147.4,766.4 147.8,767.0 148.2,768.2 148.5,769.6 148.8,770.1 149.2,771.1 149.5,772.4 149.8,773.7 150.1,776.0 150.4,777.3 150.6,777.6 150.9,779.3 151.1,780.9 151.4,781.3 151.7,782.7 151.9,784.9 152.2,786.1 152.4,787.0 152.7,788.3 152.9,789.0 153.2,789.8 153.6,791.5 153.9,792.7 154.4,792.8 154.8,793.9 155.2,795.3 155.6,797.1 156.0,797.6 156.5,799.1 157.0,799.9 157.5,800.8 158.1,802.2 158.9,803.7 159.7,804.3 160.6,804.5 161.5,804.6 162.3,805.0 163.3,805.1 164.2,805.1 165.1,804.7 166.0,803.2 167.0,803.1 167.9,802.3 168.8,800.5 169.6,799.0 170.2,798.2 170.7,798.0 171.2,796.2 171.6,795.6 172.0,794.4 172.5,792.5 173.0,791.2 173.6,790.9 174.1,789.4 174.7,789.2 175.3,788.9 175.9,787.1 176.5,785.5 177.1,784.0 177.5,783.2 177.9,782.2 178.3,781.1 178.7,780.8 179.1,779.8 179.5,778.6 179.9,776.5 180.2,775.6 180.6,775.3 181.0,773.1 181.4,772.5 181.8,772.1 182.3,770.3 182.8,769.1 183.4,768.4 183.9,766.9 184.5,765.9 185.1,765.1 185.7,764.3 186.4,764.3 187.2,764.2 188.1,764.2 189.1,764.2 190.2,763.2 191.3,763.9 192.4,765.6 193.5,766.1 194.5,766.4 195.5,766.1 196.4,766.4 197.3,767.5 198.2,769.2 199.1,769.8 200.0,770.1 200.9,771.4 201.8,772.4 202.6,772.5 203.3,773.1 204.0,774.9 204.7,776.0 205.4,777.0 206.1,777.7 206.8,778.1 207.6,779.3 208.3,780.1 209.1,781.5 209.8,781.6 210.5,783.0 211.3,783.8 212.1,785.3 212.9,786.0 213.7,785.8 214.5,786.2 215.4,787.6 216.3,789.6 217.1,790.4 217.9,790.8 218.8,790.8 219.6,791.5 220.4,792.7 221.1,793.8 221.9,794.6 222.7,795.1 223.4,796.9 224.1,797.7 224.8,799.2 225.5,800.0 226.1,801.1 226.8,802.8 227.4,802.9 228.1,803.9 228.7,805.0 229.4,805.1 230.0,804.5 230.6,803.3 231.1,803.0 231.7,801.9 232.3,800.8 232.9,800.3 233.5,799.2 234.0,798.1 234.6,796.0 235.2,794.3 235.7,793.5 236.3,793.2 237.0,792.3 237.7,791.0 238.6,789.5 239.4,788.5 240.3,786.8 241.1,786.2 242.0,786.5 243.0,785.5 244.0,785.9 245.1,785.6 246.2,785.9 247.3,787.3 248.5,788.0 249.6,787.4 250.7,787.4 251.8,787.8 252.9,787.6 253.9,788.2 255.0,786.8 256.0,786.6 257.0,785.7 258.1,785.3 259.3,786.4 260.5,786.0 261.7,785.7 262.9,785.5 264.1,785.2 265.3,784.6 266.4,784.0 267.5,783.0 268.6,782.3 269.8,782.8 271.0,782.6 272.2,782.2 273.5,781.4 274.8,780.3 276.1,780.4 277.2,779.7 278.1,780.1 279.1,778.8"/><path d="M64.7,772.5L65.8,771.4 66.8,770.7 68.1,771.8 69.5,770.8 70.9,770.5 72.2,771.0 73.5,771.9 74.8,772.5 76.1,771.5 77.4,772.5 78.6,772.1 79.7,769.6 80.8,768.3 81.8,768.7 82.9,770.2 84.0,769.8 85.1,770.1 86.2,769.7 87.4,768.1 88.6,766.5 89.7,764.5 90.8,764.3 91.8,766.4 92.7,767.1 93.6,767.9 94.3,768.5 95.0,769.6 95.7,770.7 96.4,771.7 97.2,770.4 98.2,771.1 99.2,771.3 100.3,772.8 101.5,772.8 102.7,770.8 103.9,769.9 105.1,770.3 106.3,770.9 107.6,772.1 108.8,771.6 110.0,772.0 111.2,771.1 112.4,771.3 113.6,771.0 114.8,772.3 116.0,772.8 117.2,774.0 118.4,774.4 119.5,773.1 120.6,772.5 121.7,775.0 122.9,775.7 124.0,774.7 125.3,775.0 126.5,775.9 127.8,774.3 129.1,774.0 130.3,774.8 131.5,774.5 132.6,773.9 133.5,773.3 134.4,771.7 135.3,770.5 136.1,769.3 136.8,768.4 137.6,767.8 138.3,767.2 139.1,766.7 139.9,765.6 140.7,764.2 141.6,762.8 142.4,762.0 143.2,761.1 144.0,761.4 144.7,761.7 145.4,762.6 146.0,763.4 146.6,764.8 147.2,766.4 147.9,767.7 148.5,768.1 149.0,768.8 149.5,770.1 149.9,770.5 150.3,771.6 150.7,772.6 151.0,774.6 151.4,775.7 151.7,777.2 152.0,778.9 152.2,779.7 152.5,780.1 152.7,781.6 153.0,782.7 153.3,785.0 153.5,786.2 153.8,787.7 154.0,788.3 154.3,789.8 154.5,790.3 154.8,792.2 155.2,792.8 155.5,793.7 156.0,795.9 156.4,796.9 156.8,797.1 157.2,798.5 157.6,799.5 158.1,800.2 158.6,801.8 159.1,803.6 159.7,804.0 160.5,805.4 161.3,806.4 162.2,807.1 163.1,807.4 163.9,807.8 164.9,806.8 165.8,806.3 166.7,805.5 167.6,804.3 168.6,804.1 169.5,803.8 170.4,802.6 171.2,800.9 171.8,800.0 172.3,799.2 172.8,797.7 173.2,796.8 173.6,796.3 174.1,794.4 174.6,793.0 175.2,792.2 175.7,791.6 176.3,790.3 176.9,790.1 177.5,789.2 178.1,788.3 178.7,787.2 179.1,786.0 179.5,784.6 179.9,783.3 180.3,782.4 180.7,780.7 181.1,779.7 181.5,779.3 181.8,778.0 182.2,776.2 182.6,775.5 183.0,774.8 183.4,773.4 183.9,772.6 184.5,770.8 185.1,769.5 185.8,768.6 186.4,767.6 187.2,767.3 187.9,766.3 188.8,765.9 189.7,766.6 190.6,767.1 191.6,767.2 192.7,766.8 193.8,767.5 195.0,768.5 196.0,770.2 196.9,770.6 197.7,770.9 198.5,772.4 199.2,772.1 200.0,772.9 200.8,774.8 201.7,775.5 202.5,776.7 203.4,777.2 204.3,777.5 205.2,778.9 206.0,780.1 206.8,780.2 207.5,781.8 208.2,782.3 209.0,783.2 209.8,784.0 210.6,785.5 211.4,786.1 212.2,786.7 213.0,787.3 213.8,788.9 214.5,789.4 215.3,790.5 216.0,790.7 216.7,791.7 217.4,793.3 218.0,793.9 218.7,795.2 219.4,796.4 220.1,797.1 220.8,798.3 221.4,799.0 222.0,799.8 222.5,801.8 223.0,802.7 223.5,804.0 224.0,804.8 224.6,805.5 225.2,806.0 225.8,807.7 226.4,808.8 227.0,809.6 227.6,810.6 228.2,811.8 228.8,812.9 229.4,814.6 229.9,815.1 230.5,815.1 231.0,816.0 231.5,816.4 232.0,815.7 232.5,813.8 232.9,813.2 233.4,812.1 233.8,810.5 234.2,808.9 234.7,807.6 235.1,806.2 235.7,805.0 236.2,803.7 236.8,803.3 237.4,802.7 238.1,801.6 238.7,799.6 239.4,798.2 240.2,797.4 241.1,796.7 242.2,797.2 243.4,796.7 244.7,797.4 246.0,798.5 247.2,798.8 248.3,799.2 249.3,799.9 250.2,800.5 251.0,801.4 251.8,801.8 252.6,801.8 253.5,802.5 254.5,804.2 255.4,804.1 256.4,805.2 257.4,806.4 258.5,806.7 259.8,806.3 261.1,805.0 262.4,804.5 263.6,804.8 264.8,804.0 265.9,803.7 267.1,803.6 268.2,804.1 269.3,803.9 270.4,803.5 271.4,803.2 272.5,802.5 273.7,801.2 274.8,801.6 276.0,800.6 277.2,800.5 278.1,800.3 279.1,799.1"/><path d="M425.2,529.6L426.5,530.7 427.6,532.4 428.9,533.7 430.1,533.0 431.3,533.3 432.4,534.7 433.6,536.5 434.7,536.1 435.8,537.8 436.9,538.0 438.0,537.1 439.2,538.1 440.5,538.5 441.7,538.9 443.0,540.1 444.3,537.7 445.6,537.4 446.9,539.4 448.1,538.2 449.4,537.2 450.7,537.4 452.0,538.0 453.2,539.2 454.3,537.5 455.5,537.2 456.7,538.3 457.9,538.7 459.1,539.8 460.4,539.4 461.6,537.8 462.8,537.5 464.1,539.3 465.3,539.5 466.6,537.3 467.8,538.8 468.9,539.5 470.0,538.7 471.2,537.8 472.5,539.3 473.7,539.4 475.0,538.3 476.3,539.0 477.6,538.1 478.9,537.4 480.2,538.0 481.5,538.0 482.8,538.1 484.0,538.7 485.2,539.3 486.3,539.5 487.4,539.2 488.5,538.6 489.4,536.9 490.4,534.5 491.4,533.4 492.4,533.5 493.4,532.5 494.4,531.4 495.3,529.9 496.2,529.9 497.0,531.2 497.7,531.7 498.3,532.4 498.9,532.7 499.5,534.3 500.1,536.5 500.6,537.6 501.0,538.9 501.4,539.0 501.7,540.4 502.0,542.1 502.3,543.0 502.6,544.6 502.8,545.4 503.1,545.8 503.4,547.1 503.7,549.2 504.0,549.3 504.3,550.2 504.7,551.6 505.0,553.3 505.4,554.4 505.8,554.9 506.1,555.9 506.5,557.2 506.8,557.6 507.2,558.8 507.5,560.4 507.9,561.5 508.2,561.7 508.6,562.8 509.1,564.2 509.5,566.3 510.1,567.7 510.8,569.2 511.5,570.0 512.3,570.5 513.2,572.3 514.0,573.6 514.8,573.3 515.6,573.2 516.4,573.7 517.1,573.4 517.8,572.5 518.5,571.3 519.1,570.5 519.7,570.0 520.3,567.9 520.9,567.1 521.5,565.6 522.0,564.7 522.6,564.5 523.1,562.9 523.6,561.7 524.2,561.1 524.7,560.5 525.2,559.5 525.7,558.7 526.2,557.1 526.6,556.1 527.0,555.2 527.4,553.9 527.8,552.9 528.2,551.4 528.6,549.6 528.9,548.6 529.3,548.5 529.6,547.7 530.0,546.8 530.4,545.3 530.9,543.7 531.3,542.2 531.7,541.7 532.2,539.9 532.6,538.9 533.2,537.7 533.7,536.8 534.4,535.8 535.1,534.9 535.9,534.2 536.7,532.8 537.5,531.5 538.3,531.4 539.1,530.9 539.9,530.4 540.8,529.4 541.7,530.4 542.6,531.3 543.5,531.1 544.4,532.0 545.2,533.8 545.9,534.4 546.4,535.5 546.9,536.9 547.2,537.2 547.6,537.7 548.0,538.7 548.3,540.2 548.7,541.8 549.0,542.7 549.4,544.1 549.7,544.4 550.1,545.7 550.4,547.5 550.7,548.6 551.1,549.9 551.4,551.4 551.8,551.7 552.1,552.4 552.4,553.6 552.8,555.4 553.1,556.7 553.4,557.9 553.8,558.5 554.1,559.6 554.4,561.5 554.8,563.1 555.1,563.7 555.4,565.2 555.8,565.5 556.2,565.7 556.9,566.0 557.7,565.0 558.5,564.6 559.3,563.8 560.1,562.2 560.9,560.6 561.7,559.5 562.6,559.1 563.6,557.9 564.6,557.4 565.7,557.3 566.8,557.3 567.9,556.5 569.0,555.9 570.0,555.9 571.1,554.9 572.2,554.7 573.4,555.0 574.6,554.6 575.8,554.0 577.1,554.2 578.4,554.6 579.7,553.9 581.0,554.0 582.3,553.4 583.5,554.3 584.8,553.9 586.0,553.3 587.2,554.2 588.3,554.1 589.3,553.3 590.3,554.0 591.2,555.4 592.1,556.8 593.0,556.4 593.9,556.9 594.8,558.1 595.6,558.8 596.5,560.2 597.5,561.3 598.4,561.9 599.5,562.0 600.7,562.6 601.8,564.2 602.9,564.5 604.0,564.9 605.0,565.4 606.1,566.3 607.1,567.3 608.1,567.9 609.0,568.3 609.8,568.3 610.7,568.7 611.5,569.7 612.3,571.5 613.2,571.6 614.1,573.2 614.9,574.7 615.9,575.0 616.8,576.0 617.7,577.1 618.5,578.5 619.4,578.6 620.2,578.2 621.0,576.6 621.8,576.3 622.5,575.1 623.3,574.0 624.0,573.6 624.8,572.6 625.6,571.8 626.4,570.7 627.3,569.9 628.2,568.4 629.3,567.8 630.5,567.5 631.8,566.4 633.1,565.4 634.4,565.7 635.7,566.0 636.8,565.5 638.0,564.0"/><path d="M425.2,540.1L426.1,539.9 426.9,540.0 427.9,540.8 429.0,539.5 430.1,538.8 431.3,537.0 432.4,537.7 433.6,538.8 434.7,538.7 435.8,540.2 436.9,540.6 437.9,539.5 439.0,539.3 440.0,541.4 441.0,540.6 442.0,540.8 443.1,543.1 444.3,543.8 445.6,543.6 446.9,542.9 448.1,540.3 449.4,539.0 450.7,539.3 452.0,540.9 453.2,538.9 454.3,538.3 455.5,537.9 456.7,537.9 457.9,538.1 459.1,538.9 460.4,538.7 461.6,539.5 462.8,540.9 464.1,539.6 465.3,540.8 466.6,541.0 467.8,540.4 468.9,540.4 470.0,540.9 471.2,540.3 472.5,539.3 473.7,539.4 475.0,539.5 476.3,540.4 477.6,541.9 478.9,540.4 480.2,539.1 481.5,540.0 482.8,540.7 484.0,539.8 485.2,539.5 486.3,537.5 487.5,537.0 488.6,537.7 489.8,536.0 490.9,535.7 492.0,535.3 493.1,534.2 494.2,533.1 495.2,532.7 496.1,533.3 497.0,532.9 497.9,533.0 498.6,532.8 499.3,534.0 499.9,534.8 500.5,535.4 501.2,536.4 501.7,537.4 502.2,538.2 502.6,539.7 503.0,541.2 503.3,541.9 503.6,543.8 503.9,544.8 504.2,546.1 504.4,547.7 504.7,548.5 505.0,548.8 505.3,549.7 505.6,550.5 506.0,552.0 506.4,554.5 506.8,555.5 507.3,557.0 507.7,557.8 508.1,558.2 508.4,560.1 508.7,561.1 509.0,561.3 509.3,561.7 509.6,563.0 510.0,564.1 510.4,565.4 510.7,566.3 511.2,568.3 511.7,569.8 512.4,570.0 513.1,571.8 513.9,572.8 514.8,573.9 515.6,575.3 516.4,575.6 517.2,576.3 518.0,575.7 518.7,576.3 519.4,574.7 520.1,573.4 520.7,573.5 521.3,572.2 521.9,570.8 522.5,569.5 523.1,567.8 523.6,566.3 524.2,565.8 524.7,566.0 525.2,565.0 525.8,562.8 526.3,561.8 526.8,561.1 527.3,560.4 527.8,558.4 528.2,558.0 528.6,556.5 529.0,555.4 529.4,553.7 529.8,552.7 530.2,552.6 530.5,551.4 530.9,550.9 531.2,549.8 531.6,548.2 532.0,546.2 532.5,545.8 532.9,545.3 533.3,543.5 533.8,541.6 534.2,540.9 534.8,541.2 535.3,540.2 536.0,538.0 536.7,536.9 537.5,536.4 538.3,535.1 539.1,533.8 539.9,534.0 540.8,532.9 541.7,531.6 542.9,530.8 544.1,531.3 545.4,531.9 546.5,531.4 547.4,532.0 548.1,533.8 548.5,534.9 548.9,535.1 549.2,536.1 549.5,537.5 549.7,538.4 550.0,539.1 550.3,540.4 550.6,541.5 550.8,542.5 551.0,543.5 551.3,544.9 551.5,546.0 551.7,547.8 552.0,548.6 552.2,550.4 552.4,551.4 552.7,551.5 552.9,552.4 553.2,554.1 553.4,555.3 553.7,556.3 553.9,557.0 554.2,558.7 554.5,560.2 554.8,560.9 555.1,561.9 555.3,563.8 555.6,564.5 555.9,566.4 556.2,567.1 556.5,567.2 556.8,568.6 557.1,569.7 557.3,571.6 557.6,572.3 557.8,573.2 558.0,575.7 558.3,577.1 558.4,578.1 558.6,579.1 558.8,580.0 559.0,582.3 559.2,582.8 559.4,583.9 559.6,584.8 559.9,585.2 560.3,585.2 560.8,586.3 561.5,585.4 562.2,584.2 563.0,583.7 563.8,582.5 564.6,581.2 565.4,580.2 566.1,578.3 566.9,576.8 567.8,576.3 568.6,576.2 569.4,576.0 570.2,575.7 571.0,575.7 571.9,576.2 572.8,577.0 573.7,577.5 574.6,577.6 575.6,578.8 576.6,579.1 577.7,579.4 578.8,580.8 580.0,581.5 581.2,581.2 582.5,581.7 583.8,582.0 585.1,582.4 586.3,582.9 587.4,582.8 588.4,582.5 589.2,583.7 590.0,584.4 590.8,585.3 591.6,586.4 592.4,586.8 593.2,588.2 594.1,589.4 594.9,589.4 595.8,591.1 596.6,591.9 597.4,592.3 598.1,593.3 598.8,593.2 599.5,594.2 600.2,596.2 600.9,596.7 601.5,596.7 602.2,597.5 602.8,599.0 603.5,600.4 604.1,601.9 604.8,602.0 605.4,603.3 606.1,604.2 606.7,605.4 607.5,606.7 608.3,606.8 609.1,608.5 610.0,609.3 610.8,609.3 611.7,610.0 612.6,611.9 613.6,613.0 614.7,612.9 615.7,613.2 616.7,614.4 617.8,615.1 618.9,615.1 620.1,615.2 621.2,614.9 622.2,614.9 623.2,614.9 624.1,614.9 625.0,613.4 625.9,612.5 626.8,612.0 627.7,610.8 628.6,610.1 629.5,609.9 630.4,608.5 631.3,607.8 632.2,606.6 633.1,606.4 634.0,606.0 634.9,604.8 635.8,603.4 636.6,602.3 637.4,601.7 638.1,600.8 638.7,599.7 639.3,599.1"/><path d="M425.2,602.8L426.2,602.9 427.1,603.0 428.3,601.6 429.5,602.3 430.9,603.2 432.2,602.8 433.5,601.1 434.7,602.0 435.9,602.3 437.0,602.6 438.2,603.8 439.4,603.1 440.6,603.1 441.7,604.5 442.9,603.8 444.1,602.6 445.2,602.5 446.4,602.6 447.5,601.7 448.7,602.9 449.9,603.3 451.0,602.7 452.2,603.7 453.4,604.0 454.5,603.2 455.7,603.0 456.9,601.5 458.1,601.7 459.3,604.0 460.4,602.7 461.6,602.6 462.8,604.5 463.9,604.1 465.1,602.3 466.3,602.4 467.4,602.3 468.6,602.2 469.7,601.7 470.9,602.9 472.1,602.6 473.3,602.5 474.5,601.8 475.7,601.2 476.8,601.5 478.0,603.6 479.1,603.6 480.3,602.5 481.6,600.9 482.9,600.4 484.1,600.2 485.4,600.3 486.5,599.4 487.5,599.3 488.5,598.5 489.3,597.9 490.1,598.1 490.8,596.9 491.6,595.8 492.4,594.6 493.3,594.0 494.2,593.2 495.1,591.4 496.0,590.3 496.8,590.6 497.6,590.9 498.2,591.8 498.9,592.1 499.5,593.7 500.1,594.0 500.6,595.7 501.0,596.7 501.4,597.7 501.7,599.4 502.0,600.2 502.3,600.5 502.6,602.0 502.9,603.2 503.2,603.5 503.6,604.8 503.9,606.8 504.2,608.2 504.5,608.8 504.8,609.8 505.1,610.8 505.5,611.8 505.8,613.8 506.1,615.1 506.5,615.3 506.8,615.7 507.2,617.4 507.6,619.2 508.0,619.7 508.4,620.3 508.8,621.8 509.2,623.8 509.6,625.1 510.0,626.0 510.5,627.8 510.9,629.5 511.3,631.1 511.8,632.0 512.2,632.6 512.6,634.0 513.0,635.2 513.5,635.7 514.0,635.8 514.6,635.5 515.2,634.9 515.9,634.3 516.6,632.7 517.2,631.1 517.9,628.9 518.4,627.4 518.9,626.8 519.4,626.4 519.9,625.4 520.4,623.8 520.9,622.8 521.4,622.6 521.9,620.8 522.4,620.7 522.9,619.6 523.3,618.3 523.8,617.7 524.2,616.1 524.6,614.2 524.9,614.2 525.3,612.8 525.6,612.4 525.9,611.1 526.2,608.8 526.6,607.3 526.9,606.5 527.2,606.6 527.6,605.6 528.0,603.6 528.4,602.2 528.7,601.7 529.1,601.4 529.5,600.4 529.9,599.5 530.3,598.5 530.7,597.1 531.1,595.7 531.6,593.3 532.0,592.3 532.4,592.6 532.8,591.4 533.3,589.8 533.9,588.4 534.5,587.5 535.3,586.5 536.1,585.5 536.9,584.3 537.7,582.9 538.5,582.0 539.2,581.6 539.9,581.4 540.7,581.7 541.4,582.7 542.0,583.6 542.7,585.7 543.3,586.8 543.9,587.8 544.5,588.9 545.0,589.3 545.5,589.7 546.0,590.8 546.5,592.3 547.1,593.4 547.6,594.3 548.1,595.6 548.6,597.2 549.1,597.3 549.6,598.6 550.1,599.7 550.6,600.7 551.1,602.2 551.5,602.6 552.0,603.1 552.5,604.6 553.1,606.7 553.6,607.1 554.2,608.0 554.8,610.3 555.4,611.4 556.1,612.4 556.7,612.4 557.4,612.9 558.3,611.8 559.2,611.5 560.1,611.5 561.1,610.3 561.9,609.5 562.8,608.1 563.6,607.5 564.3,605.7 565.1,605.1 566.0,603.8 566.9,603.2 567.9,603.5 568.9,602.7 569.9,602.3 571.0,601.3 572.1,601.5 573.3,601.4 574.5,600.6 575.8,599.7 577.1,600.1 578.3,600.3 579.5,599.6 580.6,598.6 581.7,597.8 582.8,597.2 583.9,597.5 585.1,596.4 586.2,595.8 587.4,595.3 588.5,595.2 589.7,595.5 590.8,595.6 591.9,595.5 592.9,596.2 594.0,597.1 595.0,596.7 596.0,597.3 597.0,598.8 597.9,600.3 598.9,601.1 599.8,601.1 600.7,601.4 601.6,603.3 602.5,604.6 603.4,605.2 604.3,605.4 605.1,606.0 606.0,607.2 606.8,608.7 607.6,610.0 608.3,610.3 609.1,611.1 609.9,611.8 610.8,613.0 611.8,613.8 612.8,614.1 613.9,615.1 615.0,616.1 616.1,615.7 617.2,615.9 618.3,616.5 619.4,617.2 620.5,616.6 621.4,616.8 622.4,616.5 623.3,615.6 624.2,614.3 625.1,612.5 626.0,611.9 626.8,611.5 627.6,610.0 628.4,609.6 629.1,609.3 629.9,608.4 630.7,606.5 631.5,604.9 632.4,603.8 633.3,603.3 634.2,602.8 635.1,601.8 636.2,601.7 637.3,600.9 638.3,600.3 639.3,600.1"/><path d="M425.2,604.7L426.2,604.9 427.1,605.6 428.3,605.7 429.5,605.1 430.9,603.9 432.2,604.7 433.5,603.5 434.7,602.7 435.9,602.5 437.0,603.5 438.2,603.1 439.4,603.6 440.6,605.0 441.7,605.9 442.9,605.6 444.1,603.6 445.2,603.2 446.4,603.9 447.5,605.0 448.7,606.0 449.9,606.1 451.0,606.1 452.2,605.2 453.4,604.9 454.5,603.9 455.7,603.7 456.9,603.7 458.1,604.8 459.3,605.3 460.4,605.2 461.6,604.7 462.8,604.5 463.9,604.5 465.1,605.9 466.3,605.7 467.4,606.1 468.6,606.0 469.7,604.3 470.9,603.6 472.1,604.4 473.3,606.2 474.5,606.0 475.7,605.0 476.8,605.4 478.0,604.7 479.1,605.3 480.3,603.7 481.6,605.0 482.8,605.6 484.1,603.8 485.3,603.0 486.5,601.7 487.6,601.3 488.6,600.6 489.6,599.8 490.5,598.5 491.4,598.0 492.3,597.1 493.2,597.0 494.1,595.9 495.0,594.9 495.9,594.8 496.8,593.3 497.7,593.0 498.5,593.4 499.2,593.7 499.9,594.4 500.5,594.8 501.1,595.9 501.7,596.1 502.2,597.8 502.6,598.5 503.0,599.5 503.3,601.2 503.6,602.2 503.9,602.6 504.2,603.6 504.5,604.9 504.8,607.0 505.2,607.7 505.5,608.3 505.8,609.5 506.1,610.0 506.4,611.2 506.7,612.9 507.1,614.8 507.4,615.8 507.7,616.5 508.1,617.6 508.4,618.2 508.8,620.0 509.2,621.4 509.6,621.7 509.9,623.7 510.3,625.0 510.7,625.3 511.1,627.1 511.5,628.5 511.9,628.6 512.3,630.1 512.7,631.7 513.1,633.0 513.5,633.6 513.9,635.1 514.3,636.1 514.7,637.1 515.1,637.5 515.5,638.0 516.1,637.7 516.6,637.1 517.2,636.1 517.8,634.9 518.4,633.7 518.9,632.3 519.5,630.9 520.0,629.5 520.5,629.0 521.0,628.8 521.5,627.3 522.0,627.1 522.5,625.9 523.0,624.1 523.5,622.7 524.0,622.6 524.5,621.6 524.9,619.7 525.4,619.0 525.8,618.2 526.2,616.8 526.5,614.9 526.9,614.1 527.2,613.8 527.5,612.8 527.8,611.6 528.2,610.2 528.5,609.9 528.8,608.7 529.2,607.3 529.6,606.4 530.0,604.7 530.3,603.8 530.7,603.0 531.1,602.6 531.5,601.4 531.9,599.5 532.3,598.6 532.7,597.2 533.2,596.8 533.6,596.0 534.0,594.4 534.4,592.4 534.9,591.6 535.5,590.6 536.1,589.7 536.9,587.9 537.7,586.5 538.5,585.8 539.3,586.0 540.1,585.3 540.8,585.1 541.5,585.1 542.3,584.8 543.0,585.6 543.6,586.1 544.3,587.2 544.9,588.0 545.5,589.3 546.1,590.1 546.6,591.7 547.1,593.6 547.6,594.8 548.1,595.2 548.7,595.4 549.2,597.4 549.7,598.2 550.2,599.2 550.7,600.0 551.2,601.3 551.7,601.6 552.2,602.3 552.7,603.7 553.1,604.4 553.6,605.3 554.1,606.5 554.7,608.3 555.2,609.4 555.8,610.0 556.4,611.5 557.0,612.1 557.7,614.0 558.3,614.0 559.0,614.5 559.9,614.5 560.8,614.6 561.7,613.2 562.7,612.0 563.5,611.9 564.4,610.6 565.2,609.1 565.9,608.8 566.7,608.2 567.6,607.2 568.5,606.3 569.5,605.0 570.5,604.1 571.5,603.6 572.5,604.2 573.6,603.1 574.6,602.8 575.7,602.9 576.8,602.0 577.8,602.6 578.9,601.8 580.0,601.0 581.1,601.6 582.2,601.1 583.3,600.0 584.4,600.3 585.5,600.4 586.7,599.5 587.8,599.3 589.0,599.5 590.1,598.3 591.3,598.0 592.4,598.0 593.5,598.7 594.5,599.2 595.6,599.5 596.6,599.8 597.6,600.7 598.6,602.4 599.5,603.3 600.5,604.1 601.4,604.2 602.3,606.0 603.2,606.7 604.1,607.3 605.0,608.2 605.9,608.2 606.7,609.5 607.6,609.9 608.4,610.5 609.2,612.2 609.9,612.4 610.7,613.9 611.5,614.5 612.4,615.7 613.4,615.7 614.4,617.0 615.5,618.5 616.6,618.6 617.7,619.0 618.8,619.3 619.9,619.5 621.0,619.2 622.1,618.8 623.3,618.6 624.4,618.8 625.4,617.7 626.5,617.5 627.7,617.3 628.8,616.6 629.9,615.7 631.1,615.0 632.2,613.9 633.4,612.8 634.5,611.5 635.6,610.9 636.8,610.9 637.9,610.9 639.3,610.6"/><path d="M425.2,652.3L426.5,652.2 427.6,651.9 428.9,651.2 430.1,649.7 431.3,650.6 432.4,650.0 433.6,650.2 434.7,650.8 435.8,651.2 436.9,650.0 438.0,650.6 439.2,652.1 440.5,652.5 441.7,653.1 443.0,652.9 444.3,653.9 445.6,652.4 446.9,653.7 448.3,653.1 449.6,652.4 450.8,653.6 452.1,652.3 453.1,652.1 454.1,651.8 455.1,650.8 456.1,650.0 457.1,649.7 458.2,650.8 459.3,648.6 460.5,647.9 461.6,648.1 462.7,650.4 463.8,650.5 464.9,651.7 465.9,652.6 466.9,651.8 467.9,651.7 468.9,652.1 469.9,652.6 470.9,654.3 472.0,655.8 473.1,655.4 474.2,656.3 475.3,657.0 476.4,656.7 477.4,655.8 478.3,654.3 479.2,652.3 480.2,652.2 481.1,652.7 482.1,651.4 483.2,651.0 484.3,649.8 485.4,649.9 486.5,649.1 487.4,649.9 488.2,649.0 488.8,646.2 489.3,646.0 489.8,644.3 490.3,644.6 490.9,641.9 491.5,640.7 492.2,641.3 493.0,639.5 493.8,637.3 494.6,637.2 495.4,637.0 496.2,636.1 497.0,636.7 497.8,636.8 498.5,637.8 499.2,638.9 499.8,639.8 500.2,641.3 500.5,642.7 500.8,643.8 501.0,644.6 501.3,645.2 501.5,646.8 501.8,647.9 502.1,649.6 502.3,650.0 502.6,651.7 502.8,652.3 503.1,653.8 503.4,654.9 503.6,656.2 503.9,657.7 504.2,658.8 504.5,659.1 504.9,661.2 505.2,662.1 505.5,662.5 505.8,664.3 506.2,665.7 506.5,666.3 506.8,667.7 507.1,667.9 507.5,669.1 507.8,670.2 508.1,671.9 508.4,672.5 508.8,673.7 509.1,675.9 509.5,676.6 509.8,677.9 510.2,679.3 510.5,680.0 510.9,681.9 511.2,682.8 511.5,683.4 511.9,684.5 512.4,684.8 513.0,684.0 513.7,684.3 514.4,683.0 515.2,682.0 515.9,680.9 516.6,680.2 517.2,678.9 517.9,677.2 518.6,676.0 519.2,675.3 519.9,674.1 520.6,673.0 521.2,672.4 521.7,671.3 522.1,670.3 522.5,669.6 522.9,667.8 523.3,666.9 523.7,666.0 524.0,665.2 524.4,664.4 524.8,662.6 525.2,660.6 525.6,660.1 526.0,658.9 526.3,657.9 526.7,656.9 527.2,655.4 527.6,654.9 528.0,653.2 528.4,651.9 528.8,650.9 529.2,649.1 529.6,648.5 530.0,648.3 530.4,646.3 530.8,645.5 531.3,645.0 531.8,643.5 532.3,642.5 532.9,641.7 533.4,640.5 533.9,638.8 534.5,637.4 535.2,636.1 536.0,635.9 536.9,634.4 537.8,633.9 538.8,633.5 539.8,634.5 540.8,634.8 541.8,635.2 542.6,636.4 543.3,636.7 544.0,637.8 544.7,639.1 545.3,641.0 545.9,642.1 546.3,642.6 546.6,643.7 546.9,645.0 547.1,646.4 547.4,647.0 547.7,648.3 547.9,648.5 548.2,649.8 548.5,651.9 548.7,652.5 549.0,653.2 549.3,654.6 549.6,656.1 549.9,656.9 550.2,658.7 550.5,660.6 550.8,660.6 551.1,661.8 551.5,662.9 551.8,664.2 552.2,666.4 552.6,666.9 553.0,667.9 553.3,669.4 553.7,670.3 554.1,671.9 554.5,672.9 554.9,674.3 555.3,675.2 555.7,677.1 556.1,677.7 556.5,678.4 557.0,678.4 557.6,678.6 558.4,679.3 559.4,679.6 560.5,678.5 561.5,678.2 562.6,678.4 563.6,676.8 564.7,675.9 565.8,675.9 566.9,674.6 567.9,674.1 569.0,673.5 570.0,672.7 571.1,671.6 572.2,671.7 573.2,670.9 574.2,671.1 575.2,670.7 576.1,669.4 577.0,669.4 578.0,668.8 579.0,667.0 579.9,666.4 580.9,666.7 581.7,665.8 582.6,663.8 583.5,662.8 584.3,662.5 585.2,660.6 586.0,659.5 586.8,658.8 587.6,658.5 588.5,658.5 589.4,658.3 590.3,659.2 591.2,661.2 592.1,661.9 592.9,662.7 593.7,663.7 594.5,665.6 595.3,666.2 596.0,666.7 596.8,667.3 597.6,668.9 598.3,669.7 599.1,671.1 599.9,671.1 600.7,672.5 601.4,673.8 602.2,674.6 603.0,675.9 603.7,676.9 604.4,677.0 605.1,677.1 605.9,678.8 606.6,679.3 607.4,679.8 608.2,680.4 609.1,681.0 609.9,682.2 610.8,683.3 611.7,684.6 612.6,686.1 613.5,685.9 614.5,686.3 615.4,686.6 616.4,685.9 617.4,685.8 618.5,684.2 619.5,683.7 620.7,682.8 621.9,682.4 623.1,683.0 624.4,682.8 625.7,682.4 627.0,681.9 628.2,681.5 629.4,680.7 630.7,680.1 631.9,680.4 633.1,680.2 634.4,679.2 635.7,679.0 636.8,678.7 638.0,678.2"/><path d="M425.2,657.2L426.5,659.8 427.6,660.8 428.9,661.1 430.1,661.3 431.3,661.3 432.4,659.7 433.6,661.1 434.7,661.3 435.8,662.8 436.9,662.9 438.1,663.7 439.3,664.3 440.5,665.2 441.7,666.7 442.9,667.5 443.9,666.8 445.0,668.4 446.0,669.2 447.1,668.1 448.2,667.7 449.3,669.2 450.5,670.3 451.6,669.6 452.8,668.8 454.0,669.7 455.3,669.2 456.5,669.8 457.7,668.0 458.8,668.0 459.8,667.5 460.9,667.8 462.0,665.6 463.0,666.2 464.0,664.8 465.1,663.6 466.1,662.7 467.1,663.1 468.1,664.0 469.1,663.9 470.1,662.8 471.1,660.9 472.2,659.1 473.4,659.0 474.6,658.7 475.7,657.6 476.9,658.1 478.0,655.5 479.3,654.6 480.6,654.0 481.8,653.3 483.0,652.6 484.2,652.7 485.3,653.1 486.4,653.9 487.4,652.5 488.1,651.3 488.8,649.5 489.3,648.0 489.8,648.1 490.4,647.2 490.9,644.9 491.5,644.6 492.2,643.1 492.9,642.8 493.7,641.2 494.6,639.7 495.4,639.0 496.2,639.2 497.1,638.4 497.8,637.7 498.6,638.7 499.4,638.6 500.2,639.2 500.8,640.2 501.4,642.0 501.8,643.8 502.1,645.2 502.4,645.4 502.6,646.3 502.9,647.0 503.1,648.8 503.4,649.6 503.7,650.7 503.9,652.0 504.2,654.1 504.4,655.4 504.7,655.5 505.0,656.6 505.2,657.6 505.5,659.6 505.8,661.0 506.1,661.1 506.5,662.7 506.8,663.5 507.1,664.7 507.4,666.0 507.8,666.9 508.1,668.2 508.4,669.0 508.7,670.1 509.1,671.0 509.4,672.0 509.7,672.8 510.0,674.1 510.4,675.2 510.7,677.2 511.1,678.3 511.4,679.8 511.8,681.5 512.1,681.8 512.5,683.3 512.8,684.5 513.1,685.5 513.5,686.2 514.0,686.2 514.6,686.9 515.3,685.9 516.0,684.0 516.8,683.4 517.5,682.4 518.2,682.0 518.8,680.9 519.5,679.9 520.2,679.1 520.8,678.0 521.5,676.6 522.2,675.4 522.8,674.1 523.3,672.5 523.7,672.0 524.1,671.1 524.5,670.1 524.9,669.2 525.3,668.2 525.6,666.7 526.0,665.6 526.4,664.2 526.8,664.0 527.2,662.6 527.6,661.5 527.9,660.2 528.3,658.0 528.8,656.9 529.2,656.1 529.6,655.1 530.0,653.9 530.4,653.0 530.8,652.1 531.2,651.2 531.6,650.0 532.0,648.7 532.4,648.3 532.9,647.3 533.4,646.0 533.9,643.5 534.5,642.7 535.0,641.4 535.5,641.4 536.1,640.7 536.8,639.1 537.6,637.7 538.5,637.4 539.4,636.4 540.4,636.1 541.4,635.6 542.4,636.2 543.4,638.2 544.2,639.2 544.9,639.1 545.6,639.4 546.3,641.0 546.9,643.1 547.5,643.8 547.9,645.3 548.2,646.1 548.5,647.6 548.7,648.1 549.0,649.7 549.3,650.1 549.5,650.4 549.8,652.0 550.1,653.3 550.3,654.0 550.6,655.2 550.9,657.2 551.2,658.9 551.5,660.0 551.8,660.5 552.1,661.3 552.4,662.9 552.7,664.4 553.1,665.1 553.4,667.2 553.8,668.6 554.2,668.8 554.6,669.7 554.9,671.3 555.3,672.4 555.7,674.5 556.1,675.4 556.5,676.3 556.9,678.0 557.3,679.0 557.7,679.5 558.1,679.4 558.6,680.4 559.3,681.3 560.3,682.4 561.4,681.8 562.7,681.3 563.9,681.4 565.1,681.2 566.2,681.6 567.3,681.4 568.4,681.3 569.4,682.4 570.5,683.2 571.6,683.1 572.7,682.9 573.8,682.3 575.0,682.7 576.2,683.9 577.4,684.5 578.5,684.2 579.7,684.6 580.8,683.6 582.1,683.6 583.3,684.0 584.4,684.6 585.5,684.5 586.6,684.9 587.7,684.6 588.7,685.9 589.7,686.8 590.7,686.8 591.5,687.6 592.4,688.9 593.2,690.1 594.1,691.3 594.9,692.7 595.8,692.8 596.7,694.1 597.6,695.1 598.6,696.0 599.6,696.6 600.6,698.1 601.5,698.9 602.4,698.7 603.2,699.7 604.0,700.5 604.8,702.3 605.6,703.6 606.4,704.2 607.2,705.7 608.0,706.4 608.8,706.8 609.6,706.9 610.5,708.2 611.3,710.1 612.1,710.7 612.9,710.9 613.7,711.0 614.7,711.6 615.6,710.2 616.4,708.9 617.2,708.6 617.8,708.2 618.5,706.9 619.1,705.4 619.7,705.4 620.3,704.0 620.9,703.0 621.4,701.5 622.0,700.3 622.5,699.1 623.1,698.7 623.6,697.0 624.1,696.4 624.6,695.8 625.1,694.8 625.6,692.5 626.1,692.0 626.7,690.6 627.3,689.1 628.0,688.8 628.8,687.9 629.7,686.8 630.5,685.6 631.4,684.8 632.4,684.4 633.4,684.6 634.5,684.4 635.6,685.7 636.8,686.0 637.9,686.4 639.3,686.4"/><path d="M425.2,711.9L426.2,710.5 427.1,711.7 428.3,712.7 429.5,712.6 430.9,711.8 432.2,711.7 433.5,711.3 434.7,711.4 435.9,710.9 437.0,712.5 438.2,712.7 439.4,712.1 440.6,712.6 441.7,713.8 442.9,713.7 444.1,715.1 445.2,715.5 446.4,714.6 447.5,712.4 448.7,711.9 449.9,712.5 451.0,713.1 452.2,714.1 453.4,714.4 454.5,713.5 455.7,713.3 456.9,712.5 458.1,710.9 459.3,711.5 460.4,710.8 461.6,710.7 462.8,709.9 463.9,711.6 465.1,712.0 466.3,710.0 467.4,710.3 468.6,709.2 469.7,709.6 470.9,709.8 472.1,711.7 473.3,712.0 474.5,712.1 475.8,710.8 476.9,711.9 478.1,712.2 479.2,712.0 480.3,712.7 481.5,711.6 482.6,710.3 483.7,710.6 484.7,709.4 485.7,708.0 486.6,707.8 487.4,706.0 488.2,706.1 489.0,705.5 489.8,703.6 490.6,703.8 491.4,702.2 492.1,702.1 492.8,700.6 493.5,699.3 494.3,699.4 495.0,697.3 495.6,696.4 496.3,696.3 497.0,695.9 497.7,696.4 498.4,697.0 499.2,698.2 499.8,699.3 500.3,700.2 500.7,701.3 501.1,703.0 501.3,703.8 501.6,705.0 501.9,706.5 502.2,706.5 502.4,707.9 502.7,709.4 503.0,710.2 503.3,712.2 503.6,713.1 503.9,713.9 504.2,715.1 504.5,717.0 504.8,717.3 505.2,719.2 505.5,720.5 505.8,721.8 506.1,722.5 506.5,723.0 506.8,724.5 507.2,726.0 507.6,726.3 508.0,728.4 508.3,729.4 508.7,730.0 509.0,732.0 509.4,732.3 509.7,733.0 510.1,734.7 510.5,736.4 510.9,737.2 511.3,739.1 511.7,740.3 512.0,741.3 512.4,743.0 512.8,744.0 513.1,745.2 513.5,745.9 514.0,746.3 514.6,746.5 515.2,745.9 515.9,744.2 516.6,742.3 517.2,741.4 517.9,740.7 518.5,740.1 519.0,738.8 519.5,737.5 520.1,735.9 520.6,735.4 521.2,733.7 521.7,732.5 522.3,731.6 522.8,731.7 523.3,731.2 523.8,729.4 524.3,727.7 524.7,727.2 525.1,725.6 525.5,725.1 525.9,724.3 526.3,723.3 526.7,721.0 527.1,719.7 527.5,718.6 528.0,717.5 528.4,717.6 528.8,716.1 529.3,714.2 529.7,713.3 530.2,712.1 530.7,712.0 531.1,710.1 531.6,708.6 532.1,708.4 532.6,707.3 533.2,706.8 533.9,705.9 534.6,704.2 535.6,703.9 536.5,703.6 537.5,701.9 538.5,701.3 539.4,701.3 540.3,700.5 541.2,701.3 542.1,701.9 542.9,702.7 543.7,703.4 544.3,704.0 544.8,704.7 545.3,705.8 545.7,707.1 546.1,708.4 546.6,708.4 547.0,709.7 547.4,710.9 547.8,711.6 548.2,712.8 548.6,714.7 549.0,715.8 549.3,716.7 549.6,717.2 550.0,718.3 550.3,718.9 550.6,719.8 551.0,721.1 551.3,723.0 551.6,724.5 552.0,725.3 552.3,726.3 552.6,726.5 553.0,727.8 553.3,728.6 553.6,730.0 553.9,730.8 554.3,732.1 554.7,734.1 555.1,734.7 555.5,735.3 556.0,736.6 556.5,737.6 557.0,739.2 557.6,740.1 558.2,741.7 558.8,742.6 559.5,743.7 560.1,744.8 560.7,745.6 561.4,746.0 561.9,747.7 562.5,748.3 563.1,748.3 563.8,749.0 564.6,749.5 565.4,748.3 566.2,746.7 567.0,745.1 567.8,743.2 568.6,742.5 569.4,741.6 570.2,740.9 571.2,740.0 572.4,739.7 573.7,740.8 574.9,740.4 576.1,740.5 577.2,741.4 578.2,742.6 579.1,742.9 580.0,742.8 580.9,743.7 581.8,745.1 582.6,745.3 583.4,745.5 584.2,745.4 584.9,745.9 585.6,745.2 586.3,744.0 587.0,742.3 587.8,740.2 588.5,739.5 589.3,739.2 590.1,737.6 590.9,737.8 591.9,738.2 592.9,738.0 594.0,738.7 595.0,739.9 596.1,740.7 597.2,741.0 598.1,742.5 598.9,742.5 599.6,743.3 600.2,744.5 600.8,745.4 601.4,746.8 602.0,747.8 602.6,749.4 603.3,750.7 603.9,751.7 604.5,752.6 605.1,752.9 605.6,754.5 606.0,756.0 606.4,757.1 606.7,757.8 607.0,759.4 607.4,760.2 607.8,761.8 608.3,762.5 608.9,762.8 609.7,764.7 610.5,765.6 611.4,766.2 612.2,767.7 613.0,768.8 613.6,769.6 614.2,770.5 614.7,771.2 615.2,771.5 615.8,773.0 616.3,773.6 616.9,775.2 617.4,776.1 617.9,777.9 618.4,779.0 619.0,778.8 619.7,779.4 620.7,779.3 621.8,779.6 622.9,778.1 624.0,776.7 625.0,776.4 626.0,775.7 627.1,775.2 628.2,774.7 629.3,774.1 630.5,774.2 631.8,775.1 633.1,774.9 634.4,775.6 635.7,776.6 636.8,777.1 638.0,776.6"/><path d="M425.2,718.5L426.2,717.8 427.1,717.8 428.3,716.3 429.5,717.1 430.9,716.5 432.2,716.4 433.5,715.1 434.7,715.1 435.9,714.9 437.0,715.2 438.2,716.1 439.4,715.9 440.6,716.8 441.7,715.7 442.9,714.5 444.1,715.3 445.2,715.0 446.4,714.1 447.5,714.6 448.7,713.6 449.9,714.4 451.0,715.2 452.2,715.9 453.4,716.4 454.5,715.0 455.7,713.2 456.9,713.7 458.1,713.5 459.3,714.7 460.4,714.7 461.6,712.8 462.8,713.7 463.9,712.5 465.1,711.9 466.3,712.4 467.4,712.3 468.6,711.8 469.7,711.7 470.9,712.3 472.1,712.9 473.3,711.8 474.5,712.1 475.8,712.4 476.9,713.6 478.1,713.0 479.2,713.6 480.3,712.4 481.5,713.7 482.6,713.0 483.7,713.4 484.7,712.7 485.7,711.4 486.6,708.9 487.6,709.6 488.4,709.0 489.3,708.9 490.3,707.2 491.2,705.9 492.0,706.3 492.9,705.3 493.8,702.7 494.6,701.3 495.4,700.8 496.3,700.0 497.1,698.6 497.8,698.5 498.6,698.4 499.4,698.7 500.1,698.3 500.8,699.2 501.4,701.2 501.9,703.0 502.3,704.0 502.7,705.0 502.9,705.3 503.2,706.0 503.5,708.1 503.8,709.3 504.0,709.5 504.3,710.8 504.6,713.0 504.9,714.3 505.2,714.7 505.5,715.8 505.8,717.1 506.1,717.7 506.4,719.1 506.8,720.1 507.1,721.0 507.4,722.9 507.7,724.6 508.1,724.7 508.4,726.5 508.8,727.6 509.2,728.4 509.6,730.1 509.9,731.4 510.3,731.8 510.6,733.1 511.0,734.7 511.3,735.7 511.7,736.6 512.1,738.3 512.5,740.1 512.9,741.2 513.3,742.0 513.6,742.9 514.0,743.9 514.4,745.6 514.7,746.6 515.1,746.6 515.6,747.2 516.2,746.6 516.8,746.4 517.5,746.1 518.2,744.7 518.8,743.1 519.5,741.4 520.1,740.9 520.7,739.9 521.3,738.7 521.9,738.1 522.5,736.6 523.1,735.4 523.7,734.2 524.3,734.1 524.8,732.9 525.4,732.1 525.8,730.4 526.2,729.8 526.6,728.5 527.0,726.8 527.3,726.8 527.7,725.3 528.0,723.9 528.4,722.8 528.8,721.7 529.2,721.3 529.6,719.9 530.0,718.7 530.5,717.7 530.9,717.0 531.3,715.7 531.8,714.1 532.3,713.6 532.7,713.0 533.2,711.3 533.7,710.9 534.2,710.0 534.8,708.7 535.5,708.2 536.2,706.3 537.2,705.1 538.1,704.5 539.1,703.4 540.1,702.7 541.0,702.8 541.9,702.8 542.8,703.1 543.7,703.7 544.5,703.9 545.3,704.4 545.9,704.6 546.4,705.6 546.9,707.3 547.3,708.4 547.7,710.5 548.2,711.3 548.6,711.2 549.0,712.3 549.4,714.7 549.8,716.3 550.2,716.8 550.6,717.0 550.9,719.0 551.2,720.1 551.6,721.3 551.9,722.0 552.2,723.1 552.6,724.3 552.9,724.6 553.2,725.1 553.6,726.2 553.9,727.7 554.2,729.5 554.6,730.6 554.9,731.0 555.2,731.5 555.5,732.4 555.9,734.0 556.3,735.7 556.7,736.0 557.1,737.8 557.6,739.5 558.1,740.0 558.6,741.0 559.2,741.2 559.8,742.8 560.4,744.3 561.1,744.7 561.7,745.9 562.3,747.5 563.0,749.0 563.5,749.6 564.1,750.2 564.7,750.6 565.4,750.6 566.2,751.3 567.0,750.1 567.8,748.1 568.6,747.8 569.4,746.3 570.2,744.2 571.0,744.1 571.8,743.6 572.8,742.4 574.0,742.3 575.3,742.1 576.5,742.5 577.7,742.7 578.8,743.0 579.8,743.5 580.7,744.3 581.6,745.8 582.5,747.2 583.4,748.7 584.2,749.1 585.0,748.1 585.8,748.6 586.5,747.3 587.2,746.5 587.9,746.1 588.6,744.2 589.4,743.9 590.1,742.4 590.9,742.0 591.7,740.5 592.5,740.0 593.5,739.6 594.5,741.1 595.5,741.8 596.4,741.9 597.3,743.2 598.2,744.3 599.0,744.9 599.8,745.0 600.5,746.8 601.2,747.1 601.8,747.5 602.4,748.6 603.0,750.8 603.6,751.2 604.2,751.9 604.9,753.7 605.5,753.8 606.1,754.8 606.7,756.2 607.2,757.1 607.7,758.9 608.1,759.2 608.5,760.5 608.9,761.3 609.3,763.3 609.8,764.7 610.4,764.7 611.0,766.5 611.7,767.6 612.5,768.2 613.2,768.6 614.0,769.8 614.7,770.2 615.3,771.8 615.9,772.7 616.5,774.2 617.0,774.5 617.6,776.7 618.2,777.7 618.8,778.0 619.4,779.5 619.9,780.0 620.6,780.4 621.3,781.8 622.3,782.4 623.4,781.1 624.5,781.0 625.7,780.1 627.0,781.0 628.3,780.9 629.5,781.3 630.6,781.0 631.7,781.9 632.7,782.3 633.7,783.4 634.8,784.0 635.9,784.6 636.9,785.6 638.0,785.5"/><path d="M425.2,768.0L426.2,768.2 427.1,767.8 428.3,768.2 429.5,768.7 430.9,768.6 432.2,767.5 433.5,767.4 434.7,767.6 435.9,769.1 437.0,768.7 438.2,769.8 439.4,768.1 440.6,767.8 441.7,769.2 442.9,769.8 444.1,770.9 445.2,771.3 446.4,770.1 447.5,769.4 448.7,770.1 449.9,769.4 451.0,768.4 452.2,768.0 453.4,767.3 454.5,768.4 455.7,766.7 456.9,766.5 458.1,767.5 459.3,767.5 460.4,767.1 461.6,767.0 462.8,767.4 463.9,767.8 465.1,767.5 466.3,765.6 467.4,764.9 468.6,764.3 469.7,764.8 470.9,764.7 472.1,766.5 473.3,766.1 474.5,764.7 475.7,765.6 476.8,765.4 478.0,764.0 479.1,765.5 480.2,765.4 481.4,764.6 482.5,764.9 483.6,762.3 484.6,761.7 485.6,763.2 486.6,762.5 487.6,760.4 488.5,760.9 489.4,760.4 490.2,758.7 491.0,757.5 491.8,758.3 492.6,757.8 493.4,756.1 494.3,754.7 495.2,754.8 496.0,755.0 496.7,755.4 497.2,756.3 497.8,756.6 498.3,758.5 498.9,759.5 499.4,759.8 499.9,761.0 500.2,763.0 500.6,763.8 500.8,765.4 501.1,766.4 501.4,766.6 501.7,768.0 502.0,768.5 502.3,769.7 502.6,770.7 502.9,772.5 503.1,773.2 503.4,775.1 503.7,775.7 504.0,776.4 504.2,777.1 504.5,778.4 504.8,779.4 505.0,781.1 505.3,783.5 505.5,784.2 505.8,784.5 506.0,785.6 506.3,787.5 506.5,789.4 506.8,790.0 507.0,790.9 507.3,792.2 507.5,792.5 507.8,793.5 508.1,795.4 508.5,797.1 508.9,798.0 509.3,799.0 509.8,800.6 510.2,801.9 510.6,801.8 511.1,802.2 511.7,803.0 512.4,802.7 513.2,801.7 514.1,801.0 514.8,800.6 515.4,798.8 516.0,798.0 516.5,797.7 517.0,796.2 517.5,795.7 518.0,794.3 518.5,792.5 518.9,790.9 519.3,789.2 519.7,788.6 520.0,788.1 520.3,787.5 520.7,785.4 521.0,785.2 521.3,784.5 521.7,783.2 522.0,781.5 522.3,780.4 522.7,778.7 523.0,777.1 523.4,776.6 523.8,775.8 524.2,773.9 524.6,772.9 525.0,771.3 525.4,770.4 525.8,770.2 526.2,768.4 526.6,767.9 527.1,766.5 527.6,765.5 528.1,765.2 528.7,763.5 529.3,762.6 529.9,762.1 530.5,760.7 531.1,758.8 531.8,758.2 532.6,757.9 533.4,756.3 534.2,755.0 535.1,754.3 536.0,753.5 537.0,752.7 538.0,751.7 538.9,752.2 539.8,752.2 540.5,751.4 541.0,752.2 541.5,752.9 542.0,754.5 542.5,755.1 542.9,755.7 543.3,756.6 543.6,757.7 544.0,759.2 544.3,760.8 544.6,761.6 544.9,762.4 545.3,763.6 545.7,766.1 546.0,767.6 546.3,767.6 546.5,768.7 546.7,769.9 546.9,770.7 547.1,771.5 547.3,773.6 547.6,774.5 547.8,774.7 548.0,776.0 548.3,778.2 548.5,779.3 548.7,780.6 549.0,782.3 549.2,782.8 549.5,785.2 549.7,786.5 549.9,786.9 550.2,787.7 550.4,788.5 550.6,790.3 550.9,791.3 551.2,792.2 551.5,793.6 551.8,794.3 552.1,796.1 552.4,798.2 552.8,798.8 553.1,800.8 553.4,801.4 553.7,803.0 554.1,804.0 554.4,804.1 554.8,805.6 555.2,805.5 555.6,806.0 556.2,806.7 556.9,807.1 557.7,807.3 558.6,805.8 559.6,805.2 560.6,803.5 561.6,802.4 562.6,802.1 563.6,802.3 564.8,802.2 566.0,803.0 567.3,803.0 568.5,803.5 569.7,802.7 570.8,802.9 571.8,803.2 572.7,802.7 573.6,800.8 574.4,800.2 575.3,799.8 576.1,799.0 576.9,797.9 577.7,796.6 578.6,796.2 579.5,795.2 580.4,794.0 581.4,793.2 582.3,792.6 583.3,792.9 584.2,793.5 585.2,795.0 586.1,795.5 587.1,796.6 588.1,797.7 589.0,798.2 589.9,798.2 590.8,799.7 591.6,800.2 592.4,800.9 593.2,801.8 593.9,802.7 594.6,804.5 595.3,804.6 596.1,805.6 596.8,807.8 597.6,808.9 598.5,809.1 599.2,809.7 600.0,811.4 600.8,811.4 601.5,812.7 602.2,813.4 602.9,815.5 603.5,816.4 604.2,816.5 605.0,816.9 605.7,818.0 606.4,819.2 607.2,820.4 608.0,822.2 608.9,823.0 609.7,823.2 610.6,825.0 611.5,825.5 612.3,825.9 613.2,826.8 614.0,827.1 614.9,828.1 615.9,829.8 616.8,831.2 617.7,831.9 618.6,830.9 619.4,831.4 620.3,831.4 621.2,830.4 622.1,829.3 622.9,828.2 623.8,828.2 624.6,826.7 625.4,826.4 626.2,825.7 627.1,825.5 628.0,825.0 629.0,825.4 630.0,825.5 631.0,825.7 632.0,827.2 633.1,828.4 634.2,829.0 635.3,828.9 636.3,829.8 637.1,830.5 638.0,830.0"/><path d="M425.2,775.7L426.2,776.4 427.1,774.4 428.3,775.1 429.5,777.1 430.9,776.3 432.2,774.6 433.5,775.1 434.7,776.2 435.9,774.7 437.0,773.4 438.2,774.6 439.4,772.9 440.6,773.5 441.7,773.4 442.9,773.3 444.1,774.2 445.2,772.8 446.4,773.6 447.5,773.6 448.7,775.6 449.9,774.5 451.0,775.4 452.1,776.7 453.2,776.3 454.3,774.3 455.3,775.5 456.4,775.0 457.4,773.1 458.5,773.0 459.5,771.1 460.6,770.0 461.7,769.7 462.8,770.2 463.9,771.3 465.1,770.8 466.3,771.8 467.4,771.3 468.6,769.4 469.7,769.3 470.9,768.8 472.1,770.2 473.3,770.9 474.5,770.8 475.7,770.0 476.8,771.1 478.0,770.8 479.1,772.5 480.2,771.7 481.3,770.9 482.4,773.0 483.5,772.9 484.6,771.1 485.6,771.5 486.6,769.6 487.4,769.1 488.2,768.8 488.9,768.1 489.5,765.2 490.2,763.6 490.8,763.1 491.5,763.0 492.1,763.1 492.7,761.7 493.2,759.8 493.8,759.5 494.6,757.8 495.6,756.5 496.6,756.7 497.6,757.5 498.3,757.8 498.9,757.9 499.4,759.0 499.9,759.2 500.5,760.5 501.0,763.0 501.5,763.9 501.8,764.2 502.2,765.4 502.4,766.8 502.7,766.9 503.0,768.0 503.3,769.9 503.6,770.4 503.9,771.6 504.2,772.9 504.5,774.0 504.7,774.9 505.0,776.2 505.3,778.2 505.6,779.6 505.8,780.6 506.1,780.4 506.4,781.7 506.6,783.8 506.9,784.6 507.1,786.2 507.4,786.8 507.6,788.1 507.9,789.7 508.1,790.7 508.4,791.7 508.6,792.4 508.9,794.5 509.1,795.3 509.4,795.7 509.7,797.1 510.1,798.9 510.5,800.4 510.9,800.8 511.4,802.9 511.8,803.5 512.2,803.5 512.7,804.5 513.3,805.3 514.0,804.5 514.8,804.4 515.7,803.5 516.4,802.1 517.0,800.2 517.6,799.3 518.1,799.5 518.6,797.5 519.1,796.2 519.6,795.3 520.1,793.6 520.5,793.4 520.9,792.4 521.3,790.8 521.6,790.0 521.9,788.9 522.3,787.8 522.6,785.9 522.9,784.3 523.3,783.6 523.6,783.8 523.9,782.9 524.3,780.8 524.6,780.0 525.0,778.4 525.4,777.5 525.8,776.2 526.2,775.4 526.6,774.9 527.0,773.9 527.4,772.9 527.8,771.6 528.2,769.8 528.7,768.4 529.2,768.1 529.7,766.7 530.3,764.8 530.9,763.7 531.5,762.6 532.1,762.7 532.7,762.0 533.4,759.9 534.2,759.8 535.0,759.7 535.8,759.0 536.7,757.7 537.6,755.9 538.6,755.3 539.6,754.3 540.5,753.9 541.4,753.4 542.1,753.5 542.6,754.6 543.1,754.9 543.6,756.1 544.1,758.2 544.5,759.5 544.9,759.5 545.2,760.2 545.6,761.5 545.9,762.3 546.2,764.3 546.5,764.6 546.9,765.4 547.3,767.4 547.6,769.0 547.9,770.1 548.1,771.0 548.3,771.2 548.5,772.3 548.7,773.9 548.9,774.4 549.1,775.9 549.3,777.1 549.5,778.9 549.7,780.0 550.0,781.1 550.2,781.9 550.4,783.4 550.7,784.6 550.9,785.9 551.1,787.2 551.4,788.4 551.6,789.7 551.8,790.3 552.0,790.9 552.3,791.5 552.5,792.5 552.8,793.5 553.1,795.2 553.4,797.6 553.8,799.1 554.1,800.1 554.5,801.9 554.8,802.5 555.2,803.9 555.5,805.3 555.9,805.7 556.3,806.7 556.7,807.5 557.2,808.5 557.8,808.3 558.5,808.7 559.3,809.0 560.2,808.6 561.2,807.9 562.2,806.3 563.2,805.2 564.2,804.1 565.2,803.9 566.4,804.6 567.6,805.1 568.9,804.6 570.1,804.6 571.3,805.3 572.4,804.5 573.4,804.1 574.3,803.4 575.2,803.5 576.0,802.7 576.9,801.0 577.7,800.5 578.5,799.3 579.3,798.5 580.2,797.9 581.1,797.0 582.0,796.3 583.0,795.5 583.9,795.6 584.9,796.1 585.9,795.6 586.8,796.3 587.8,796.9 588.8,797.8 589.8,798.8 590.7,800.5 591.6,801.0 592.4,801.3 593.2,803.1 593.8,803.5 594.4,804.0 595.0,805.2 595.5,805.8 596.1,807.3 596.6,808.6 597.2,809.1 597.7,810.0 598.3,811.1 598.8,812.1 599.4,813.8 599.9,814.5 600.3,815.5 600.8,817.5 601.2,818.6 601.6,818.7 602.0,820.0 602.4,820.6 602.8,821.7 603.2,822.9 603.6,823.5 604.0,824.7 604.3,826.9 604.7,827.6 605.0,828.5 605.4,829.7 605.8,831.8 606.3,832.9 606.8,833.2 607.3,835.0 607.9,835.2 608.5,835.8 609.2,837.4 609.9,838.8 610.6,839.0 611.4,840.1 612.1,841.2 612.8,842.4 613.5,843.0 614.3,844.5 615.1,845.4 616.2,845.5 617.3,844.7 618.5,845.2 619.7,845.5 620.9,844.9 622.1,844.6 623.4,844.6 624.5,843.7 625.4,842.0 626.1,841.1 626.9,841.0 627.6,839.4 628.3,838.7 629.1,838.1 629.9,837.4 631.0,837.7 632.2,838.5 633.5,838.9 634.7,839.3 635.9,839.9 636.9,841.0 638.0,841.3"/><path d="M76.5,980.6L77.3,980.8 78.1,981.6 79.0,984.3 80.0,984.7 81.0,985.3 81.9,985.5 83.0,985.6 84.0,986.8 85.2,986.9 86.3,987.5 87.5,987.6 88.6,987.8 89.7,986.6 90.8,985.6 91.9,985.8 93.1,987.3 94.2,986.7 95.5,988.1 96.7,988.4 98.0,987.7 99.3,989.3 100.6,988.7 101.9,991.0 103.3,991.5 104.6,990.4 105.9,991.8 107.2,991.9 108.4,990.6 109.6,991.3 110.8,990.5 112.0,992.1 113.2,992.1 114.3,992.1 115.5,989.6 116.6,989.6 117.7,990.2 118.8,989.5 119.9,988.1 121.0,989.2 122.2,988.7 123.5,986.4 124.7,985.4 125.8,986.0 126.9,985.1 127.9,984.8 129.0,983.8 130.0,982.5 131.0,980.9 132.1,980.8 133.1,981.7 134.2,982.1 135.2,981.2 136.2,981.1 137.2,980.2 138.1,980.1 139.1,978.6 140.2,976.5 141.3,975.0 142.4,974.0 143.5,973.7 144.5,974.6 145.4,974.0 146.4,972.9 147.3,971.9 148.3,972.6 149.2,973.0 150.1,975.0 150.8,976.2 151.2,977.3 151.6,978.1 151.9,978.9 152.1,980.6 152.4,981.9 152.6,982.0 152.9,983.4 153.1,985.1 153.4,986.2 153.7,987.0 154.0,988.2 154.3,989.9 154.5,990.0 154.8,990.9 155.1,992.6 155.4,993.4 155.7,995.1 156.0,995.8 156.3,997.4 156.7,998.1 157.0,999.7 157.4,1000.8 157.7,1001.8 158.1,1002.2 158.5,1003.1 158.9,1004.2 159.3,1005.8 159.7,1007.5 160.0,1007.9 160.4,1008.9 160.8,1010.0 161.2,1009.8 161.7,1009.8 162.3,1009.3 162.9,1008.7 163.4,1007.1 164.0,1006.9 164.5,1005.6 165.1,1004.6 165.6,1003.3 166.2,1002.3 166.7,1001.9 167.2,1000.8 167.6,999.3 167.9,997.2 168.3,997.0 168.6,996.6 169.0,995.2 169.3,993.8 169.6,992.7 170.0,991.1 170.3,990.6 170.7,989.5 171.0,987.5 171.3,986.8 171.6,985.9 171.9,984.6 172.2,984.0 172.5,983.3 172.8,982.0 173.1,979.8 173.4,978.5 173.8,978.3 174.1,977.2 174.5,976.4 174.8,975.3 175.3,973.3 175.7,972.3 176.2,971.0 176.7,970.5 177.2,969.2 177.7,967.5 178.2,966.9 178.7,966.2 179.3,964.9 180.1,964.2 181.1,964.0 182.2,963.5 183.5,964.4 184.6,965.8 185.7,966.3 186.4,966.2 187.0,968.0 187.5,969.0 188.0,969.7 188.5,970.0 189.0,971.8 189.5,972.6 190.0,974.4 190.5,975.1 190.9,976.1 191.4,977.2 191.8,979.1 192.2,979.7 192.7,981.5 193.2,982.3 193.6,982.9 194.1,984.7 194.4,985.6 194.8,986.2 195.2,988.1 195.6,988.5 196.0,989.3 196.5,991.6 196.9,993.0 197.4,993.6 197.8,994.6 198.3,996.2 198.7,997.3 199.2,998.1 199.7,998.1 200.2,997.9 200.8,997.3 201.3,995.4 201.9,994.1 202.4,993.3 202.9,992.7 203.4,991.7 203.8,990.6 204.2,989.0 204.6,988.0 205.0,986.2 205.4,985.2 205.8,984.0 206.3,984.1 206.9,983.4 207.4,981.8 207.9,980.5 208.5,979.0 209.1,978.1 209.8,975.9 210.5,974.9 211.2,974.2 212.1,974.4 213.0,973.6 214.0,974.0 214.9,975.1 215.8,977.3 216.6,978.2 217.2,980.0 217.8,980.8 218.4,982.3 218.9,982.5 219.5,983.7 220.0,983.8 220.5,982.9 221.0,981.6 221.5,980.6 222.0,979.4 222.5,978.0 223.1,976.0 223.8,975.5 224.5,974.5 225.3,972.8 226.1,971.6 226.9,971.6 227.7,970.2 228.5,969.2 229.3,968.5 230.1,966.9 230.9,965.4 231.7,965.1 232.5,964.2 233.4,963.5 234.2,964.2 235.2,964.9 236.1,964.9 237.0,966.4 237.9,967.2 238.8,967.5 239.8,967.8 240.8,969.0 241.8,969.3 242.9,970.0 244.0,971.4 245.1,971.2 246.2,971.6 247.3,973.3 248.3,974.0 249.4,973.2 250.6,973.3 251.7,973.6 252.9,973.5 254.0,972.4 255.3,972.8 256.5,972.4 257.9,973.0 259.2,972.4 260.5,972.6 261.8,971.8 263.1,971.4 264.4,970.4 265.6,970.4 266.7,970.7 267.6,971.2 268.5,971.6 269.2,972.6 269.9,973.3 270.6,974.9 271.2,976.6 271.9,977.5 272.6,978.2 273.4,979.6 274.2,980.2 275.0,980.7 275.8,981.1 276.7,981.6 277.6,983.5 278.6,984.6 279.6,985.2 280.6,985.7 281.6,986.6 282.8,987.5 283.9,988.1 285.2,988.0 286.4,987.6 287.5,989.1 288.6,989.2 289.4,989.2 290.3,989.4"/><path d="M76.5,991.7L77.3,989.1 78.1,988.6 79.1,988.1 80.2,988.8 81.5,988.7 82.8,988.6 84.0,986.9 85.2,987.4 86.3,987.1 87.5,988.0 88.6,989.0 89.7,988.2 90.8,989.0 91.9,990.6 93.1,990.6 94.2,990.0 95.5,991.3 96.7,991.9 98.0,990.5 99.3,992.3 100.6,992.5 101.9,991.5 103.3,991.5 104.6,993.6 105.9,992.5 107.2,991.6 108.4,992.2 109.6,994.3 110.8,994.3 112.0,994.7 113.2,994.5 114.3,994.2 115.5,994.7 116.6,993.1 117.7,992.8 118.8,992.8 119.9,991.8 120.9,991.4 122.0,990.1 123.0,989.3 124.0,987.1 125.0,986.7 125.9,986.3 126.9,985.3 127.9,984.8 129.0,984.1 130.0,984.2 131.0,984.8 132.1,983.8 133.1,983.1 134.2,982.3 135.2,982.3 136.2,983.5 137.1,982.3 138.1,981.0 139.0,979.4 140.0,979.6 141.1,978.0 142.2,978.1 143.2,978.8 144.2,977.5 145.2,976.5 146.1,975.9 147.1,975.5 148.0,974.8 149.0,973.7 149.9,973.6 150.9,974.7 151.7,975.8 152.4,977.2 152.8,979.4 153.2,980.4 153.5,980.6 153.7,981.9 154.0,983.0 154.2,984.7 154.5,985.3 154.7,986.0 155.0,987.2 155.3,988.7 155.6,989.6 155.9,991.2 156.1,992.8 156.4,993.1 156.7,994.0 157.0,996.1 157.3,996.6 157.6,996.8 157.9,997.7 158.3,999.1 158.6,1001.1 159.0,1002.6 159.3,1003.1 159.7,1003.7 160.1,1005.6 160.5,1007.8 160.9,1008.7 161.3,1010.2 161.6,1010.9 162.0,1010.6 162.4,1012.0 162.9,1012.5 163.5,1011.8 164.2,1010.6 164.9,1009.6 165.5,1007.6 166.1,1006.8 166.7,1006.1 167.2,1005.9 167.8,1004.6 168.3,1002.5 168.8,1001.4 169.2,1000.1 169.6,1000.1 170.0,999.0 170.3,997.1 170.7,996.2 171.1,995.0 171.5,993.2 171.8,992.7 172.2,991.5 172.6,990.5 172.9,988.8 173.2,986.8 173.5,985.9 173.8,984.7 174.1,984.9 174.4,983.9 174.7,982.5 175.0,980.3 175.4,978.9 175.7,979.1 176.1,978.1 176.5,975.8 176.9,974.7 177.4,973.2 177.9,972.9 178.5,971.8 179.0,969.8 179.6,969.1 180.2,968.3 180.9,967.4 181.7,967.4 182.7,966.3 183.8,965.8 185.1,966.5 186.2,967.2 187.3,967.3 188.0,968.3 188.6,970.2 189.1,970.7 189.6,971.3 190.1,972.2 190.6,972.8 191.1,974.0 191.6,975.5 192.1,977.0 192.5,977.7 193.0,978.6 193.4,979.7 193.8,981.4 194.3,982.4 194.7,984.4 195.1,985.4 195.5,985.3 195.9,986.5 196.2,988.1 196.6,988.5 196.9,989.5 197.3,991.6 197.7,992.4 198.1,993.5 198.6,995.3 199.2,996.6 199.7,996.9 200.2,997.7 200.7,998.9 201.2,999.4 201.8,999.4 202.4,999.2 202.9,998.3 203.5,997.2 204.0,994.7 204.5,993.6 205.0,992.7 205.4,992.2 205.8,990.3 206.2,989.0 206.6,988.3 207.0,987.2 207.4,985.9 207.9,984.9 208.5,984.7 209.0,983.2 209.5,982.5 210.1,980.9 210.7,979.2 211.4,979.2 212.1,978.2 212.8,977.4 213.7,976.9 214.6,976.6 215.6,976.3 216.5,977.4 217.4,978.3 218.1,979.5 218.7,980.4 219.3,982.2 219.9,984.1 220.5,984.2 221.1,984.9 221.8,984.3 222.5,983.7 223.2,983.7 223.9,982.7 224.7,981.0 225.4,979.9 226.3,978.3 227.3,978.0 228.3,978.6 229.5,977.9 230.7,977.5 231.9,977.2 233.3,976.1 234.6,976.5 235.9,976.8 237.1,977.3 238.3,977.2 239.4,978.5 240.5,978.1 241.6,978.7 242.7,980.0 243.8,980.7 244.8,980.8 245.6,981.8 246.1,983.7 246.6,984.1 246.9,985.4 247.2,986.5 247.5,987.5 247.9,988.8 248.2,990.2 248.6,991.8 248.9,992.2 249.3,993.7 249.7,994.3 250.1,995.5 250.5,996.8 251.1,997.3 251.8,998.3 252.6,999.6 253.6,999.6 254.5,1000.8 255.5,1002.4 256.5,1002.6 257.5,1001.5 258.5,1001.6 259.6,1002.0 260.8,1002.9 262.0,1002.8 263.2,1002.3 264.4,1001.2 265.7,1000.9 266.8,1001.9 267.9,1002.2 269.1,1002.6 270.2,1003.4 271.4,1003.2 272.5,1002.9 273.7,1004.2 274.8,1004.3 275.9,1005.3 277.0,1006.1 278.1,1005.4 279.1,1005.6 280.2,1006.3 281.2,1007.5 282.2,1007.9 283.2,1008.9 284.3,1009.5 285.5,1009.4 286.6,1010.3 287.7,1010.5 288.7,1011.3 289.5,1012.4 290.3,1012.9"/><path d="M77.5,1051.8L78.8,1053.7 80.0,1053.2 81.4,1054.3 82.8,1055.5 84.1,1055.8 85.4,1054.7 86.7,1053.9 88.1,1052.5 89.5,1053.1 90.9,1053.4 92.2,1054.4 93.5,1054.1 94.8,1054.5 96.0,1053.7 97.3,1053.4 98.5,1055.2 99.7,1055.1 100.8,1053.3 101.9,1051.9 103.0,1052.3 104.0,1052.2 105.1,1052.3 106.1,1051.5 107.2,1050.8 108.3,1050.5 109.5,1049.6 110.7,1048.4 111.9,1048.7 113.1,1051.1 114.2,1051.0 115.3,1049.7 116.5,1050.6 117.7,1049.5 118.9,1048.4 120.1,1050.0 121.4,1049.8 122.7,1050.3 123.9,1049.2 125.1,1047.5 126.2,1048.6 127.3,1049.3 128.4,1049.2 129.5,1047.4 130.5,1047.3 131.5,1047.1 132.3,1045.4 133.2,1046.1 134.0,1045.0 134.7,1042.1 135.5,1042.0 136.2,1040.6 137.0,1039.3 137.8,1039.8 138.6,1040.0 139.5,1037.9 140.3,1035.7 141.1,1036.0 141.9,1036.4 142.8,1036.0 143.8,1034.2 144.8,1032.3 145.8,1033.0 146.8,1032.5 147.6,1032.0 148.5,1032.7 149.2,1033.9 149.9,1035.8 150.5,1036.5 150.9,1038.1 151.4,1038.5 151.9,1040.1 152.3,1041.2 152.6,1041.6 152.9,1042.8 153.1,1045.2 153.4,1046.4 153.7,1046.4 154.0,1048.3 154.3,1050.1 154.5,1051.2 154.8,1052.1 155.1,1052.6 155.4,1054.0 155.7,1055.2 156.0,1056.8 156.3,1057.9 156.6,1059.3 157.0,1060.5 157.3,1061.2 157.6,1062.6 158.0,1063.0 158.3,1064.5 158.6,1066.6 159.0,1067.1 159.3,1068.1 159.6,1068.6 160.0,1068.5 160.6,1069.0 161.1,1068.8 161.7,1066.9 162.3,1065.2 162.9,1063.6 163.4,1062.7 163.9,1062.7 164.4,1061.9 164.9,1061.1 165.4,1059.7 165.9,1058.6 166.4,1056.3 166.8,1054.8 167.2,1053.7 167.6,1053.2 167.9,1052.8 168.2,1050.9 168.5,1049.7 168.8,1048.1 169.0,1047.0 169.3,1046.7 169.6,1045.8 169.9,1044.7 170.2,1044.1 170.4,1043.1 170.7,1042.0 171.0,1040.2 171.3,1038.3 171.6,1037.1 172.0,1036.6 172.3,1034.6 172.6,1033.3 172.9,1032.9 173.3,1031.3 173.6,1030.7 173.9,1029.2 174.2,1028.3 174.5,1026.9 174.9,1026.2 175.4,1025.1 175.9,1023.8 176.4,1022.8 176.9,1022.6 177.5,1021.9 178.2,1020.2 179.0,1019.0 180.0,1018.6 181.0,1018.7 182.0,1018.2 183.0,1018.7 183.9,1018.7 184.7,1020.0 185.6,1020.3 186.6,1021.5 187.4,1023.4 188.2,1024.3 188.9,1025.4 189.5,1026.0 190.0,1027.4 190.5,1028.1 191.1,1029.3 191.6,1030.7 192.2,1032.5 192.7,1033.5 193.2,1034.3 193.7,1035.6 194.2,1036.4 194.8,1037.4 195.5,1038.3 196.2,1039.4 197.0,1040.2 197.7,1042.1 198.3,1042.7 199.0,1043.2 199.6,1042.8 200.1,1041.5 200.6,1041.1 201.1,1041.3 201.6,1040.3 202.0,1039.3 202.5,1037.9 203.0,1036.0 203.5,1035.7 204.0,1034.5 204.6,1033.4 205.1,1032.1 205.7,1030.7 206.4,1030.1 207.2,1029.3 208.1,1028.3 209.1,1027.7 210.1,1027.2 211.2,1026.3 212.4,1025.8 213.5,1026.3 214.6,1025.8 215.8,1026.0 217.0,1027.0 218.3,1027.3 219.4,1027.0 220.4,1026.6 221.1,1026.5 221.7,1025.1 222.2,1024.3 222.8,1023.4 223.3,1022.9 223.8,1020.9 224.3,1019.9 224.8,1018.5 225.4,1016.6 225.9,1015.8 226.5,1016.0 227.1,1014.9 227.9,1013.1 228.7,1012.2 229.6,1012.5 230.5,1011.6 231.4,1011.2 232.4,1010.8 233.4,1009.6 234.4,1009.7 235.4,1010.0 236.5,1009.1 237.5,1009.3 238.6,1010.5 239.8,1010.9 240.9,1010.4 242.0,1010.1 243.2,1011.0 244.3,1010.5 245.4,1010.7 246.6,1009.8 247.7,1009.4 248.9,1009.7 250.0,1009.0 251.1,1008.4 252.2,1008.0 253.3,1007.5 254.3,1006.9 255.2,1006.2 256.1,1004.8 256.9,1004.5 257.7,1003.5 258.5,1002.8 259.3,1001.3 260.1,1000.8 260.9,999.8 261.8,1000.1 262.8,1000.1 263.8,1000.1 264.8,1000.6 265.8,1001.8 266.9,1001.6 268.0,1001.7 269.1,1002.6 270.1,1003.1 271.0,1004.9 272.0,1005.4 272.9,1005.0 273.9,1005.8 274.9,1006.1 276.0,1007.3 277.0,1007.2 278.1,1007.2 279.1,1008.1 280.3,1008.2 281.5,1009.6 282.7,1010.2 284.0,1009.8 285.3,1009.5 286.5,1010.2 287.6,1009.4 288.6,1009.5 289.4,1009.9 290.3,1009.8"/><path d="M77.5,1053.0L78.8,1054.5 80.0,1055.7 81.4,1054.6 82.8,1054.4 84.1,1053.9 85.4,1053.8 86.7,1053.3 87.9,1053.6 89.0,1054.8 90.1,1056.0 91.2,1055.0 92.3,1053.9 93.4,1054.1 94.5,1055.0 95.6,1054.4 96.8,1054.4 97.9,1056.9 98.9,1057.1 99.9,1056.2 100.9,1056.5 101.9,1058.0 103.0,1060.7 104.0,1060.0 105.1,1061.8 106.1,1063.2 107.2,1061.6 108.2,1062.4 109.2,1063.4 110.2,1064.0 111.2,1061.7 112.1,1060.7 113.1,1059.8 114.2,1058.9 115.4,1060.0 116.5,1059.9 117.6,1057.9 118.7,1056.2 119.8,1057.2 120.9,1057.1 121.9,1056.0 122.8,1054.9 123.8,1055.5 124.8,1054.6 125.8,1053.7 126.7,1052.7 127.7,1051.3 128.7,1051.3 129.7,1051.7 130.7,1050.6 131.6,1049.1 132.5,1049.5 133.3,1048.5 134.0,1045.3 134.6,1044.1 135.2,1043.2 135.8,1042.1 136.4,1043.0 137.1,1042.2 137.8,1041.2 138.7,1041.1 139.6,1038.5 140.6,1036.7 141.5,1035.7 142.5,1035.9 143.4,1036.4 144.4,1035.1 145.5,1033.6 146.5,1033.4 147.5,1032.9 148.4,1033.6 149.3,1033.5 150.1,1034.4 150.8,1036.4 151.5,1037.9 152.1,1038.5 152.6,1039.1 153.0,1040.5 153.5,1041.2 153.9,1042.1 154.2,1043.7 154.5,1045.5 154.7,1046.4 155.0,1047.0 155.3,1049.0 155.6,1050.2 155.9,1050.8 156.1,1052.6 156.4,1052.9 156.7,1053.7 157.0,1055.6 157.3,1057.4 157.6,1058.3 157.9,1059.3 158.2,1060.3 158.6,1061.3 158.9,1062.6 159.2,1064.1 159.6,1065.8 159.9,1067.3 160.2,1067.3 160.6,1068.5 160.9,1070.3 161.2,1070.6 161.6,1070.0 162.2,1070.4 162.7,1070.4 163.3,1069.5 163.9,1067.2 164.5,1066.8 165.0,1065.6 165.5,1063.8 166.0,1063.1 166.5,1062.4 167.0,1060.7 167.5,1059.9 168.0,1058.5 168.4,1056.5 168.8,1055.5 169.2,1054.6 169.5,1053.5 169.8,1053.4 170.1,1051.5 170.4,1050.3 170.6,1049.7 170.9,1048.5 171.2,1047.0 171.5,1045.9 171.8,1045.2 172.0,1044.5 172.3,1042.6 172.6,1042.5 172.9,1041.7 173.2,1040.2 173.6,1038.9 173.9,1037.3 174.2,1036.8 174.5,1035.5 174.9,1034.1 175.2,1032.6 175.5,1031.3 175.8,1031.0 176.1,1029.9 176.6,1027.8 177.1,1026.9 177.7,1026.1 178.3,1024.6 179.0,1023.4 179.7,1022.4 180.6,1021.2 181.6,1020.6 182.6,1020.5 183.6,1020.7 184.6,1021.0 185.5,1021.0 186.3,1021.6 187.2,1023.6 188.2,1024.5 189.0,1025.5 189.8,1026.5 190.5,1027.1 191.1,1028.2 191.6,1029.1 192.1,1030.6 192.7,1031.8 193.2,1032.1 193.8,1033.9 194.3,1034.2 194.8,1034.9 195.3,1036.2 195.8,1038.1 196.4,1039.9 197.1,1041.0 197.8,1041.1 198.6,1042.6 199.3,1044.6 199.9,1045.4 200.6,1045.6 201.2,1044.7 201.7,1044.2 202.2,1043.4 202.7,1042.7 203.2,1041.9 203.6,1041.3 204.1,1039.8 204.6,1037.9 205.1,1036.7 205.6,1036.2 206.2,1035.8 206.7,1034.4 207.3,1033.7 208.0,1032.9 208.8,1032.1 209.7,1030.8 210.7,1029.8 211.7,1029.5 212.8,1029.3 214.0,1028.2 215.1,1027.8 216.2,1028.5 217.4,1028.4 218.6,1028.7 219.9,1028.3 221.0,1028.1 222.0,1028.1 222.7,1027.8 223.3,1026.5 223.8,1026.1 224.4,1026.0 224.9,1024.1 225.4,1022.3 225.9,1021.9 226.4,1020.2 227.0,1018.8 227.5,1018.4 228.1,1017.5 228.8,1016.2 229.6,1015.8 230.6,1015.1 231.6,1013.6 232.6,1012.8 233.7,1011.9 234.8,1012.1 235.9,1011.8 237.0,1012.2 238.1,1012.3 239.1,1012.0 240.2,1012.6 241.4,1013.1 242.5,1012.4 243.6,1013.1 244.8,1013.1 245.9,1013.4 247.0,1012.1 248.2,1012.0 249.3,1011.5 250.5,1011.4 251.6,1012.0 252.7,1011.1 253.8,1010.4 254.9,1010.4 255.9,1008.6 256.8,1007.8 257.7,1008.1 258.5,1007.2 259.3,1006.5 260.1,1005.3 260.9,1004.8 261.7,1003.2 262.5,1002.5 263.4,1003.1 264.4,1002.6 265.4,1001.8 266.4,1002.0 267.4,1002.9 268.5,1004.7 269.6,1005.3 270.7,1005.4 271.7,1006.8 272.7,1007.5 273.6,1007.7 274.6,1008.1 275.6,1008.5 276.6,1009.3 277.7,1009.6 278.7,1010.7 279.7,1010.9 280.8,1011.4 282.1,1012.2 283.4,1012.6 284.7,1012.1 286.1,1011.6 287.3,1012.5 288.5,1013.2 289.4,1012.4 290.3,1012.4"/><path d="M77.5,1103.7L78.8,1104.2 79.9,1103.6 81.1,1104.2 82.3,1103.9 83.6,1104.0 84.9,1105.1 86.2,1105.3 87.5,1106.5 88.8,1107.8 90.1,1106.9 91.4,1108.1 92.8,1107.9 94.0,1109.9 95.1,1110.3 96.1,1109.8 97.1,1111.8 98.1,1112.0 99.1,1110.9 100.1,1112.2 101.2,1113.9 102.3,1114.6 103.4,1112.8 104.5,1112.7 105.6,1114.1 106.7,1114.0 107.9,1111.2 109.1,1110.7 110.3,1112.2 111.6,1111.4 112.9,1111.6 114.2,1113.0 115.5,1113.0 116.6,1112.8 117.8,1113.3 118.9,1113.1 120.0,1113.2 121.0,1112.8 122.1,1112.2 123.3,1111.3 124.5,1113.3 125.7,1113.2 126.7,1111.4 127.7,1110.8 128.6,1108.9 129.6,1109.3 130.5,1109.0 131.5,1107.4 132.4,1107.0 133.3,1106.9 134.1,1104.5 134.8,1103.7 135.6,1102.1 136.3,1102.1 137.0,1102.6 137.6,1100.8 138.3,1098.6 139.1,1099.6 140.1,1098.8 141.0,1097.4 142.1,1096.2 143.3,1095.7 144.6,1095.6 145.8,1096.2 146.8,1096.3 147.6,1098.1 148.3,1098.3 148.9,1099.9 149.4,1100.9 149.9,1101.4 150.4,1102.1 150.9,1103.2 151.4,1104.5 151.9,1106.5 152.3,1107.4 152.6,1108.2 152.9,1109.4 153.2,1110.0 153.5,1110.5 153.8,1111.6 154.1,1114.2 154.3,1115.3 154.6,1115.5 154.9,1117.3 155.2,1119.1 155.5,1120.2 155.7,1120.1 156.0,1121.2 156.3,1123.0 156.5,1124.5 156.8,1125.3 157.1,1127.5 157.4,1129.1 157.6,1130.1 157.9,1131.8 158.2,1132.6 158.4,1134.1 158.7,1134.6 158.9,1135.4 159.2,1136.2 159.6,1137.2 160.1,1137.2 160.7,1135.4 161.4,1134.8 162.0,1134.0 162.5,1132.5 163.1,1130.7 163.7,1129.8 164.2,1129.2 164.6,1127.4 165.0,1127.0 165.2,1125.4 165.4,1124.5 165.7,1123.9 165.9,1122.9 166.1,1121.7 166.3,1120.9 166.5,1119.6 166.8,1118.7 167.0,1117.2 167.2,1115.6 167.5,1113.8 167.7,1113.6 168.0,1111.7 168.2,1110.3 168.5,1109.1 168.7,1108.8 169.0,1107.7 169.2,1107.0 169.5,1106.3 169.8,1105.4 170.0,1104.2 170.3,1102.9 170.6,1100.9 170.9,1099.4 171.2,1099.4 171.4,1098.8 171.7,1097.2 172.0,1096.5 172.3,1095.0 172.6,1093.6 173.0,1092.8 173.3,1090.7 173.6,1089.8 173.9,1089.0 174.3,1087.2 174.6,1086.5 175.0,1085.2 175.3,1083.9 175.7,1083.2 176.1,1082.9 176.5,1081.9 176.9,1081.0 177.5,1080.2 178.2,1078.8 179.1,1077.8 180.0,1076.5 181.0,1076.6 182.0,1076.3 182.9,1075.9 183.9,1075.9 184.8,1076.0 185.8,1075.8 186.9,1076.3 187.8,1076.3 188.8,1076.5 189.7,1078.0 190.6,1078.7 191.4,1079.3 192.2,1079.6 193.1,1080.9 194.0,1081.7 194.9,1083.0 195.9,1084.3 196.8,1084.2 197.8,1084.2 198.7,1084.8 199.6,1085.8 200.5,1085.9 201.4,1084.2 202.2,1083.6 203.1,1082.8 204.0,1082.3 205.0,1081.8 206.0,1080.8 206.9,1079.8 207.6,1079.7 208.2,1078.8 208.8,1077.6 209.4,1075.4 210.0,1074.6 210.6,1073.2 211.3,1072.5 212.1,1073.3 213.0,1073.0 214.1,1073.0 215.2,1074.0 216.3,1074.7 217.4,1074.5 218.5,1074.3 219.3,1075.1 220.1,1074.4 220.7,1073.2 221.3,1072.1 221.8,1071.6 222.3,1071.1 222.7,1069.9 223.2,1067.5 223.6,1066.4 224.1,1066.5 224.5,1065.1 225.0,1064.0 225.5,1063.0 225.9,1061.6 226.5,1060.8 227.1,1060.6 228.0,1059.4 228.9,1057.6 229.9,1057.2 230.9,1058.1 231.8,1058.2 232.7,1058.6 233.5,1059.1 234.3,1060.1 235.1,1060.7 235.9,1061.6 236.7,1062.5 237.5,1063.6 238.4,1065.5 239.2,1066.4 240.1,1066.5 241.0,1066.4 241.9,1067.9 242.9,1068.0 243.9,1067.5 244.9,1067.4 245.9,1066.5 246.9,1065.5 248.0,1064.4 249.1,1064.1 250.2,1063.3 251.3,1062.3 252.5,1061.6 253.6,1061.3 254.8,1061.6 255.9,1061.1 257.1,1061.5 258.2,1060.9 259.4,1059.3 260.5,1058.6 261.7,1059.3 262.8,1059.0 264.0,1058.1 265.2,1058.2 266.3,1058.1 267.5,1057.1 268.6,1056.7 269.8,1056.8 270.9,1056.9 272.1,1056.6 273.3,1056.5 274.5,1055.0 275.7,1054.5 276.9,1054.7 278.0,1055.9 279.0,1055.3 280.0,1055.1 280.8,1055.6 281.6,1056.3 282.4,1057.9 283.1,1059.0 283.9,1059.4 284.5,1059.8 285.2,1060.9 285.8,1062.7 286.5,1063.0 287.1,1064.3 287.8,1065.8 288.4,1067.1 289.0,1068.9 289.5,1069.8 289.9,1069.9 290.3,1070.6"/><path d="M77.5,1105.9L78.1,1105.3 78.7,1106.3 79.4,1107.7 80.2,1107.2 81.1,1108.7 81.9,1110.4 82.6,1111.9 83.2,1110.5 83.9,1111.1 84.6,1113.4 85.3,1116.1 86.0,1117.1 86.7,1116.6 87.4,1119.0 88.1,1119.5 88.9,1121.0 89.8,1120.9 90.9,1119.0 92.0,1120.4 93.1,1119.2 94.2,1118.0 95.4,1118.4 96.6,1118.1 97.8,1120.0 99.0,1120.1 100.2,1119.4 101.4,1120.2 102.5,1121.8 103.4,1122.4 104.2,1120.6 104.9,1119.0 105.4,1118.2 106.0,1116.5 106.6,1116.3 107.3,1116.5 108.2,1114.0 109.1,1113.5 110.2,1114.1 111.5,1112.5 112.8,1111.9 114.1,1112.5 115.4,1113.8 116.6,1114.3 117.8,1113.8 118.9,1112.2 120.0,1112.3 121.0,1112.3 122.1,1113.5 123.3,1113.6 124.5,1114.4 125.7,1113.9 126.7,1113.1 127.7,1111.6 128.6,1111.4 129.6,1109.6 130.5,1109.2 131.5,1110.2 132.4,1107.8 133.3,1106.4 134.1,1107.1 134.8,1105.2 135.5,1104.3 136.2,1104.5 136.9,1104.1 137.6,1101.2 138.3,1101.0 139.2,1099.4 140.2,1100.0 141.4,1098.6 142.7,1097.4 143.9,1097.8 145.2,1098.0 146.4,1097.3 147.5,1097.9 148.4,1099.2 149.1,1100.3 149.8,1101.1 150.5,1101.8 151.0,1102.8 151.5,1103.0 152.0,1104.0 152.5,1104.9 153.0,1105.7 153.5,1106.6 153.9,1108.2 154.2,1110.5 154.5,1110.9 154.8,1111.8 155.1,1113.4 155.4,1114.8 155.7,1116.3 155.9,1117.3 156.2,1117.2 156.5,1118.5 156.8,1120.0 157.1,1121.2 157.3,1122.6 157.6,1123.7 157.9,1125.6 158.1,1126.5 158.4,1128.5 158.7,1130.0 159.0,1130.8 159.2,1131.4 159.5,1132.6 159.8,1135.2 160.0,1136.5 160.3,1136.6 160.5,1136.9 160.8,1138.4 161.2,1138.4 161.7,1138.6 162.3,1138.7 163.0,1137.5 163.6,1135.8 164.1,1133.6 164.7,1133.1 165.3,1132.2 165.8,1130.9 166.2,1128.9 166.6,1128.6 166.8,1126.7 167.0,1125.5 167.3,1125.5 167.5,1124.9 167.7,1123.5 167.9,1121.5 168.1,1120.4 168.4,1119.8 168.6,1118.9 168.8,1117.7 169.1,1115.6 169.3,1115.0 169.6,1113.5 169.8,1112.4 170.1,1111.2 170.3,1110.5 170.6,1109.3 170.8,1108.6 171.1,1107.0 171.4,1105.6 171.6,1104.7 171.9,1103.6 172.2,1102.8 172.5,1102.7 172.8,1101.3 173.0,1100.4 173.3,1099.3 173.6,1098.5 173.9,1096.8 174.3,1095.3 174.6,1093.8 175.0,1092.7 175.3,1092.3 175.7,1090.8 176.0,1089.8 176.4,1089.0 176.8,1087.2 177.2,1085.7 177.6,1085.5 178.0,1085.0 178.5,1084.3 179.2,1082.6 180.1,1081.3 181.2,1081.6 182.5,1081.3 183.7,1080.4 185.0,1081.6 186.1,1082.0 187.0,1081.5 187.8,1082.5 188.6,1082.8 189.4,1083.9 190.1,1084.6 190.9,1086.0 191.6,1086.8 192.4,1088.1 193.1,1089.5 193.8,1090.7 194.4,1091.2 195.0,1091.8 195.6,1093.2 196.2,1094.6 196.8,1095.7 197.4,1097.0 197.9,1099.1 198.5,1099.2 199.0,1099.3 199.5,1100.4 200.1,1101.6 200.7,1101.5 201.4,1100.3 202.1,1098.7 202.7,1098.0 203.4,1097.4 204.0,1095.1 204.6,1093.7 205.2,1093.0 205.7,1091.8 206.2,1092.1 206.8,1091.1 207.4,1089.3 208.0,1089.3 208.7,1088.8 209.5,1087.6 210.4,1086.4 211.3,1084.6 212.2,1083.8 213.2,1083.4 214.2,1082.5 215.1,1082.6 216.2,1081.6 217.2,1081.2 218.3,1080.7 219.4,1080.9 220.5,1080.0 221.5,1080.1 222.5,1079.5 223.4,1078.1 224.0,1076.6 224.6,1076.5 225.0,1074.5 225.5,1073.3 226.0,1073.0 226.4,1071.0 226.9,1069.5 227.3,1069.6 227.7,1068.6 228.2,1066.5 228.6,1065.3 229.0,1065.0 229.5,1064.0 230.2,1062.1 231.2,1060.6 232.3,1059.9 233.4,1059.7 234.4,1059.8 235.2,1061.2 235.9,1061.7 236.6,1062.7 237.2,1063.5 237.9,1064.9 238.5,1066.7 239.1,1068.2 239.6,1069.2 240.1,1069.9 240.7,1071.3 241.2,1071.8 241.8,1073.0 242.3,1073.8 242.9,1075.1 243.6,1074.9 244.5,1074.6 245.4,1075.2 246.4,1074.3 247.4,1074.5 248.5,1074.0 249.5,1073.0 250.5,1071.2 251.5,1070.6 252.5,1069.6 253.5,1069.0 254.5,1069.0 255.6,1068.6 256.6,1067.4 257.6,1067.5 258.6,1066.6 259.6,1065.7 260.6,1065.8 261.6,1065.2 262.6,1064.7 263.6,1065.0 264.6,1064.1 265.7,1063.2 266.8,1063.1 267.9,1063.0 269.1,1061.7 270.2,1061.9 271.4,1062.0 272.5,1061.1 273.7,1059.9 274.9,1060.3 276.1,1059.7 277.3,1058.9 278.5,1059.4 279.6,1059.7 280.7,1059.8 281.8,1060.0 282.8,1059.7 283.7,1061.4 284.6,1062.1 285.5,1062.3 286.2,1063.4 286.9,1065.0 287.6,1066.0 288.2,1066.6 288.8,1067.2 289.4,1068.8 289.8,1070.4 290.3,1071.3"/><path d="M76.5,1162.9L77.7,1164.0 78.7,1164.8 79.8,1165.5 80.9,1166.7 81.9,1167.2 82.8,1167.4 83.5,1169.0 84.3,1169.2 84.9,1170.3 85.7,1172.4 86.4,1175.3 87.1,1175.4 87.9,1176.3 88.8,1177.9 89.8,1178.1 90.9,1176.8 92.1,1175.5 93.2,1175.7 94.2,1175.8 95.2,1177.1 96.2,1175.6 97.1,1176.8 98.2,1178.5 99.3,1179.0 100.5,1179.3 101.6,1179.5 102.8,1178.2 103.9,1179.0 105.0,1178.3 106.3,1175.3 107.6,1175.1 108.9,1175.1 110.2,1175.1 111.5,1175.2 112.8,1174.6 114.1,1175.6 115.4,1176.4 116.6,1176.3 117.8,1175.2 118.9,1173.0 120.0,1173.5 121.0,1173.2 121.9,1172.1 122.9,1171.4 123.9,1170.1 124.9,1170.2 125.8,1168.6 126.7,1168.2 127.5,1167.0 128.4,1166.4 129.2,1164.6 130.0,1164.5 130.8,1164.8 131.5,1163.1 132.2,1163.3 132.8,1162.8 133.4,1161.3 133.9,1160.0 134.5,1158.1 135.2,1158.0 135.9,1158.7 136.7,1157.9 137.5,1155.7 138.3,1154.6 139.1,1155.0 140.0,1153.6 141.0,1153.0 142.0,1150.8 143.1,1151.0 144.3,1152.1 145.3,1152.0 146.3,1152.5 147.0,1152.7 147.7,1153.7 148.3,1153.5 148.9,1154.8 149.4,1156.7 149.9,1157.9 150.3,1159.2 150.6,1160.1 151.0,1161.6 151.3,1162.8 151.7,1163.2 152.0,1164.0 152.3,1165.5 152.6,1167.3 152.9,1169.6 153.2,1170.8 153.5,1171.3 153.8,1171.8 154.0,1173.6 154.3,1173.8 154.5,1174.9 154.7,1176.9 155.0,1177.6 155.2,1178.5 155.4,1179.3 155.6,1179.9 155.8,1181.1 156.1,1182.2 156.3,1183.3 156.5,1184.6 156.8,1186.2 157.0,1187.9 157.3,1189.2 157.5,1190.7 157.8,1191.9 158.1,1192.9 158.5,1194.0 158.8,1194.5 159.2,1195.7 159.6,1197.7 160.1,1198.2 160.5,1197.3 161.1,1197.2 161.7,1196.0 162.3,1193.4 162.8,1191.5 163.3,1190.4 163.6,1189.4 164.0,1188.6 164.3,1188.3 164.7,1187.3 165.1,1187.0 165.5,1185.7 165.8,1184.5 166.2,1183.6 166.6,1182.5 167.0,1181.4 167.3,1179.0 167.7,1178.1 168.0,1177.4 168.2,1176.7 168.4,1174.9 168.6,1173.5 168.8,1172.5 169.0,1172.0 169.2,1170.3 169.4,1168.7 169.6,1168.3 169.8,1166.2 170.0,1165.3 170.1,1164.8 170.3,1163.6 170.5,1161.9 170.7,1160.9 170.9,1160.0 171.1,1158.2 171.3,1158.1 171.5,1157.3 171.8,1155.6 172.3,1153.7 172.8,1152.8 173.4,1152.4 173.9,1150.7 174.5,1149.4 175.1,1148.9 175.7,1148.8 176.4,1148.1 177.1,1147.1 177.9,1146.7 178.7,1146.3 179.5,1146.0 180.3,1145.1 181.2,1143.3 182.1,1142.6 183.1,1141.0 184.1,1140.4 185.2,1140.1 186.2,1139.8 187.1,1141.2 187.9,1142.3 188.6,1143.0 189.3,1143.7 190.1,1144.8 190.8,1146.1 191.6,1146.8 192.4,1147.6 193.2,1149.1 194.1,1150.4 195.0,1150.8 196.0,1150.9 197.1,1152.4 198.2,1152.4 199.3,1152.2 200.3,1152.7 201.3,1151.7 202.2,1150.5 203.2,1149.7 204.2,1150.1 205.2,1149.4 206.2,1148.3 207.1,1146.8 207.9,1145.9 208.7,1145.8 209.5,1145.0 210.3,1143.4 211.0,1141.8 211.8,1140.8 212.5,1140.6 213.3,1141.6 214.1,1142.2 214.8,1143.0 215.6,1143.5 216.4,1144.9 217.2,1145.7 217.9,1146.9 218.7,1147.1 219.5,1147.5 220.2,1147.1 220.9,1147.6 221.7,1146.6 222.4,1145.7 223.1,1144.8 223.9,1142.9 224.6,1141.8 225.3,1141.5 226.1,1140.0 226.9,1139.0 227.7,1138.5 228.5,1136.9 229.3,1135.7 230.1,1134.6 231.0,1133.9 231.8,1134.8 232.5,1135.8 233.1,1136.5 233.8,1137.3 234.4,1137.7 235.1,1138.7 235.8,1139.8 236.4,1140.7 237.2,1142.0 237.9,1143.1 238.7,1143.4 239.5,1143.7 240.5,1144.9 241.6,1145.0 242.7,1145.2 243.9,1145.9 245.0,1146.0 246.2,1146.2 247.3,1146.7 248.4,1146.1 249.5,1145.9 250.6,1145.7 251.8,1145.7 252.8,1145.3 253.9,1145.1 255.0,1144.4 256.1,1143.7 257.1,1142.6 258.3,1141.4 259.4,1141.6 260.5,1141.1 261.6,1141.3 262.6,1140.6 263.5,1141.5 264.5,1142.5 265.4,1142.5 266.4,1143.1 267.3,1144.3 268.2,1144.7 269.1,1145.6 269.8,1146.5 270.5,1147.9 271.1,1148.3 271.7,1149.6 272.3,1149.9 273.0,1151.5 273.6,1152.5 274.2,1153.4 274.8,1153.8 275.4,1155.3 276.1,1156.8 276.8,1156.8 277.6,1157.1 278.5,1158.6 279.4,1158.7 280.3,1159.6 281.2,1160.9 282.1,1161.5 283.1,1162.5 284.1,1163.2 285.3,1163.4 286.4,1164.6 287.6,1165.6 288.6,1165.3 289.4,1166.4 290.3,1166.9"/><path d="M76.5,1163.4L77.1,1163.4 77.7,1165.3 78.5,1165.9 79.2,1167.9 80.0,1167.6 80.7,1169.3 81.4,1169.5 82.2,1172.3 82.9,1173.0 83.7,1171.9 84.5,1173.5 85.2,1173.6 86.1,1175.3 86.9,1176.9 87.7,1176.1 88.5,1176.6 89.3,1177.3 90.0,1178.5 90.6,1180.7 91.3,1181.1 92.0,1182.3 92.7,1184.6 93.5,1184.6 94.3,1185.0 95.3,1185.6 96.4,1186.7 97.5,1185.5 98.6,1186.0 99.7,1186.4 100.8,1184.8 101.7,1183.0 102.7,1181.9 103.5,1182.0 104.3,1180.1 105.1,1179.7 105.9,1180.1 106.9,1179.1 107.9,1176.8 109.1,1176.1 110.3,1175.6 111.5,1175.5 112.8,1175.8 114.1,1174.8 115.4,1174.4 116.6,1174.4 117.8,1174.7 118.9,1174.7 120.0,1173.7 121.0,1173.4 121.9,1174.0 122.9,1173.4 123.9,1172.1 124.9,1171.9 125.8,1169.4 126.7,1169.8 127.5,1169.6 128.4,1168.1 129.2,1167.0 130.0,1166.1 130.8,1166.2 131.5,1164.3 132.1,1164.2 132.8,1164.1 133.3,1163.7 133.9,1162.6 134.5,1159.5 135.2,1158.1 136.0,1158.0 136.7,1158.6 137.6,1157.6 138.5,1156.8 139.3,1155.3 140.3,1155.1 141.3,1155.5 142.3,1153.7 143.5,1153.3 144.6,1153.8 145.8,1154.2 146.8,1154.4 147.8,1154.0 148.6,1153.7 149.3,1154.4 149.9,1155.3 150.5,1156.7 151.0,1158.8 151.5,1159.8 151.9,1160.7 152.3,1162.8 152.6,1163.8 152.9,1164.9 153.3,1166.3 153.6,1166.6 153.9,1168.2 154.2,1169.7 154.5,1170.7 154.8,1171.6 155.1,1173.5 155.3,1174.9 155.6,1176.1 155.8,1176.4 156.0,1176.5 156.2,1177.3 156.4,1178.4 156.6,1180.7 156.8,1181.3 157.0,1181.7 157.2,1182.4 157.4,1184.2 157.6,1186.4 157.8,1187.2 158.0,1187.5 158.3,1189.0 158.5,1191.2 158.7,1191.9 158.9,1193.5 159.1,1194.5 159.3,1195.0 159.5,1197.4 159.7,1199.1 159.8,1200.3 160.0,1200.6 160.1,1201.9 160.3,1203.6 160.4,1205.6 160.6,1206.6 160.7,1207.8 160.9,1207.9 161.1,1207.1 161.4,1207.3 161.6,1206.4 161.9,1206.1 162.2,1204.1 162.6,1203.0 162.9,1202.3 163.2,1200.9 163.5,1198.7 163.8,1197.9 164.1,1195.9 164.4,1195.0 164.7,1194.5 164.9,1193.1 165.2,1192.1 165.5,1190.9 165.7,1190.1 166.0,1189.1 166.3,1187.5 166.6,1185.8 166.9,1184.5 167.2,1184.0 167.5,1182.9 167.8,1181.9 168.2,1180.7 168.5,1179.9 168.9,1179.9 169.3,1178.3 169.7,1177.4 170.1,1175.4 170.4,1174.9 170.8,1174.5 171.2,1172.9 171.6,1171.2 172.0,1170.6 172.4,1169.4 172.8,1168.2 173.3,1167.1 173.7,1166.2 174.1,1165.1 174.5,1163.2 174.9,1163.3 175.3,1162.0 175.8,1160.3 176.3,1158.5 176.9,1157.3 177.5,1156.3 178.1,1156.2 178.7,1154.7 179.5,1153.6 180.5,1153.6 181.6,1153.4 182.8,1152.5 184.0,1153.0 185.2,1153.0 186.3,1152.1 187.5,1151.2 188.4,1152.2 189.3,1153.0 190.0,1153.3 190.7,1154.6 191.4,1154.9 192.0,1155.7 192.6,1157.6 193.2,1158.3 193.7,1160.0 194.3,1161.0 194.9,1161.6 195.5,1162.8 196.1,1163.8 196.8,1164.8 197.4,1166.7 198.1,1167.9 198.8,1168.2 199.6,1169.5 200.3,1170.3 201.1,1170.2 201.8,1170.3 202.5,1170.0 203.1,1168.7 203.8,1167.1 204.5,1166.9 205.2,1165.7 206.0,1163.8 206.7,1162.9 207.4,1161.2 208.1,1160.9 208.9,1160.0 209.9,1159.3 210.9,1157.9 211.9,1157.4 212.9,1157.1 213.9,1156.7 214.7,1155.9 215.4,1156.1 216.1,1157.4 216.6,1158.8 217.1,1160.8 217.7,1161.2 218.2,1163.2 218.7,1164.3 219.3,1164.7 219.8,1164.2 220.4,1164.8 220.8,1164.7 221.3,1163.8 221.8,1162.6 222.3,1161.5 222.8,1160.6 223.3,1159.5 223.8,1157.9 224.4,1155.4 224.9,1153.9 225.5,1153.3 226.1,1151.7 226.6,1151.6 227.2,1150.8 227.8,1149.1 228.4,1147.8 229.0,1146.2 229.6,1145.0 230.3,1144.0 230.9,1142.8 231.5,1142.2 232.2,1140.7 232.7,1139.8 233.3,1139.0 233.8,1138.6 234.4,1137.8 234.9,1137.0 235.5,1138.1 236.1,1138.4 236.7,1139.4 237.1,1141.1 237.6,1142.1 238.1,1143.5 238.6,1144.7 239.1,1145.4 239.7,1146.6 240.3,1147.8 240.9,1149.5 241.5,1150.5 242.1,1151.4 242.8,1151.1 243.7,1151.7 244.6,1151.7 245.7,1152.1 246.9,1150.9 248.1,1149.8 249.3,1149.5 250.5,1149.4 251.6,1149.6 252.7,1149.1 253.8,1149.0 254.9,1148.8 256.0,1147.7 257.2,1146.8 258.3,1146.8 259.5,1147.3 260.6,1146.4 261.7,1146.7 262.9,1146.7 264.1,1145.4 265.2,1145.5 266.3,1146.6 267.3,1146.5 268.3,1146.2 269.1,1146.2 269.8,1147.9 270.5,1148.8 271.1,1150.3 271.7,1150.8 272.3,1151.5 272.9,1153.8 273.5,1155.0 274.2,1155.3 274.8,1156.5 275.3,1157.7 276.0,1157.8 276.6,1159.1 277.2,1159.6 277.9,1161.4 278.5,1162.5 279.2,1162.2 280.0,1163.6 280.7,1165.1 281.5,1166.1 282.3,1167.5 283.2,1168.2 284.1,1168.0 285.0,1169.3 285.9,1169.9 286.8,1170.3 287.7,1171.8 288.5,1172.7 289.2,1173.7 289.7,1173.4 290.3,1173.7"/><path d="M77.5,1225.1L78.8,1226.8 79.8,1227.3 80.9,1229.5 81.9,1229.7 82.8,1228.9 83.6,1229.9 84.2,1232.4 84.9,1232.6 85.5,1234.8 86.2,1235.7 87.0,1236.4 87.9,1237.9 88.9,1238.0 89.9,1238.2 91.0,1238.1 92.0,1237.9 93.1,1238.2 94.2,1239.4 95.3,1240.1 96.5,1241.2 97.6,1240.4 98.8,1241.1 99.9,1243.0 100.9,1242.9 102.0,1243.2 103.1,1243.7 104.4,1243.7 105.7,1241.9 107.1,1242.0 108.4,1239.9 109.6,1239.7 110.8,1240.1 112.0,1239.0 113.2,1238.6 114.3,1237.3 115.5,1236.8 116.6,1236.8 117.7,1236.7 118.8,1236.2 119.9,1234.9 120.9,1234.1 121.9,1235.1 122.8,1234.3 123.8,1233.1 124.8,1232.0 125.8,1230.3 126.7,1229.4 127.7,1229.0 128.6,1230.6 129.6,1229.4 130.5,1226.7 131.5,1226.9 132.4,1225.7 133.3,1225.3 134.2,1223.8 135.0,1222.2 135.9,1220.4 136.6,1219.8 137.4,1219.9 138.2,1219.6 139.1,1217.5 140.2,1217.3 141.4,1217.6 142.5,1215.3 143.4,1215.8 144.2,1217.3 144.8,1218.1 145.4,1219.6 145.9,1220.3 146.3,1221.2 146.8,1221.7 147.1,1222.7 147.5,1224.0 147.8,1225.6 148.1,1226.6 148.4,1227.6 148.6,1229.3 148.8,1230.1 148.9,1230.9 149.0,1231.1 149.1,1232.3 149.3,1233.9 149.4,1234.9 149.5,1236.0 149.7,1238.2 149.8,1239.7 149.9,1240.6 150.1,1242.2 150.2,1243.0 150.4,1243.6 150.5,1244.4 150.7,1246.3 150.9,1248.0 151.0,1248.8 151.2,1250.0 151.4,1250.5 151.7,1251.3 151.9,1253.3 152.1,1254.7 152.4,1256.6 152.7,1258.7 152.9,1260.2 153.2,1261.3 153.5,1262.1 153.7,1263.0 154.0,1264.1 154.3,1265.3 154.6,1264.8 154.8,1265.1 155.1,1265.7 155.4,1266.7 155.7,1267.6 156.0,1267.3 156.3,1266.4 156.7,1266.1 157.0,1265.0 157.3,1263.8 157.6,1261.8 157.9,1260.1 158.3,1259.1 158.6,1258.7 158.9,1257.4 159.2,1255.2 159.6,1253.0 159.8,1251.9 160.1,1250.8 160.3,1250.3 160.5,1249.8 160.7,1248.9 160.9,1247.3 161.0,1245.7 161.2,1244.5 161.4,1243.1 161.6,1241.6 161.8,1240.3 162.0,1239.5 162.2,1239.5 162.4,1238.1 162.6,1237.3 162.8,1235.4 163.0,1233.7 163.2,1232.5 163.4,1231.7 163.6,1230.8 163.8,1229.4 164.0,1228.6 164.2,1226.9 164.4,1226.5 164.6,1225.0 164.9,1223.9 165.2,1223.7 165.5,1222.3 165.9,1220.0 166.2,1218.5 166.6,1218.4 166.9,1217.6 167.3,1215.6 167.7,1215.6 168.0,1214.4 168.4,1212.5 168.7,1211.4 169.1,1211.4 169.5,1210.2 170.0,1209.3 170.7,1208.9 171.5,1206.9 172.3,1206.1 173.2,1206.0 174.1,1205.8 175.1,1204.3 176.3,1204.0 177.5,1204.5 178.8,1205.2 180.1,1205.8 181.2,1206.3 182.4,1206.4 183.5,1206.5 184.7,1207.2 185.7,1207.1 186.8,1207.5 187.8,1207.7 188.7,1208.3 189.6,1209.7 190.4,1210.9 191.1,1212.5 191.8,1214.1 192.6,1214.5 193.3,1213.9 194.1,1214.4 194.8,1213.9 195.6,1212.9 196.4,1210.8 197.2,1210.1 198.0,1210.1 198.8,1208.9 199.6,1206.7 200.5,1205.6 201.4,1204.7 202.4,1204.4 203.3,1204.4 204.1,1203.1 205.0,1202.8 205.9,1203.3 206.7,1203.3 207.6,1203.1 208.4,1204.2 209.2,1204.7 210.0,1205.4 210.9,1207.0 211.7,1208.5 212.6,1209.1 213.5,1209.9 214.4,1209.5 215.2,1208.8 216.0,1209.1 216.7,1207.5 217.5,1207.4 218.3,1206.1 219.1,1205.6 220.0,1204.8 220.9,1203.1 221.7,1202.8 222.7,1200.8 223.6,1199.7 224.5,1199.1 225.4,1199.0 226.3,1198.9 227.2,1198.5 228.2,1199.4 229.1,1200.0 230.1,1200.6 230.9,1200.9 231.6,1202.1 232.3,1204.1 233.0,1205.6 233.6,1206.8 234.2,1207.1 234.8,1207.4 235.2,1208.9 235.7,1210.1 236.1,1211.4 236.6,1212.5 237.1,1213.4 237.5,1214.4 238.0,1215.8 238.5,1216.3 239.0,1217.1 239.7,1218.1 240.6,1219.2 241.7,1219.4 242.8,1219.2 244.0,1218.4 245.2,1219.0 246.5,1219.2 247.8,1219.3 249.0,1218.8 249.9,1217.7 250.7,1216.4 251.5,1215.4 252.3,1214.8 253.1,1214.2 253.9,1212.6 254.7,1211.8 255.4,1211.5 256.2,1210.7 257.2,1209.9 258.4,1209.5 259.6,1209.7 260.9,1209.9 262.0,1210.5 263.1,1210.6 264.3,1209.7 265.4,1210.0 266.4,1211.0 267.3,1211.7 268.1,1212.4 268.8,1212.5 269.6,1213.0 270.3,1213.6 271.1,1214.9 271.9,1216.2 272.7,1217.0 273.4,1219.0 274.1,1219.4 274.6,1220.8 275.2,1221.3 275.6,1222.1 276.1,1223.3 276.6,1224.5 277.1,1226.1 277.6,1227.1 278.1,1228.8 278.6,1230.3 279.0,1231.6 279.5,1232.8 280.0,1233.7 280.4,1234.1 280.8,1234.6 281.3,1235.0 282.0,1236.0 282.9,1236.0 283.9,1235.3 285.0,1235.7 286.3,1235.3 287.6,1234.6 288.9,1234.9 290.3,1235.3"/><path d="M77.5,1239.7L78.8,1238.8 80.1,1239.0 81.4,1237.9 82.9,1238.5 84.2,1239.7 85.5,1238.2 86.7,1239.1 87.8,1240.3 88.9,1239.3 90.1,1239.9 91.4,1242.2 92.7,1243.0 94.0,1241.4 95.3,1241.6 96.5,1243.9 97.6,1243.4 98.8,1244.2 99.9,1244.7 100.9,1245.0 102.0,1245.6 103.1,1245.4 104.4,1244.4 105.7,1244.3 107.1,1243.8 108.4,1242.8 109.6,1241.4 110.8,1240.1 112.0,1240.0 113.2,1241.3 114.3,1240.1 115.5,1238.3 116.6,1239.2 117.7,1237.5 118.8,1237.4 119.9,1236.1 120.9,1234.7 121.9,1234.1 122.8,1234.6 123.8,1234.1 124.8,1234.1 125.8,1233.9 126.7,1233.7 127.7,1233.0 128.6,1231.8 129.6,1231.4 130.5,1229.7 131.5,1229.6 132.4,1228.8 133.3,1227.3 134.2,1224.7 135.0,1224.5 135.8,1223.3 136.6,1221.3 137.4,1221.0 138.2,1220.4 139.1,1218.1 140.1,1217.4 141.2,1218.2 142.4,1217.9 143.5,1218.7 144.4,1218.7 145.3,1219.0 146.0,1219.5 146.7,1220.0 147.3,1221.5 147.8,1222.0 148.3,1222.9 148.7,1224.2 149.0,1224.9 149.4,1225.9 149.7,1228.1 150.0,1230.0 150.2,1230.0 150.4,1231.2 150.5,1233.2 150.6,1233.8 150.7,1234.6 150.9,1235.8 151.0,1237.4 151.1,1238.2 151.3,1239.2 151.4,1240.5 151.5,1242.1 151.7,1242.5 151.8,1244.2 152.0,1245.6 152.1,1246.1 152.3,1247.5 152.5,1248.9 152.6,1250.5 152.8,1251.6 153.0,1252.7 153.3,1253.7 153.5,1255.4 153.7,1257.3 154.0,1257.6 154.3,1258.7 154.5,1260.2 154.8,1261.4 155.1,1262.8 155.3,1264.5 155.6,1266.4 155.9,1267.4 156.2,1267.0 156.4,1267.9 156.7,1268.3 157.0,1269.5 157.3,1269.7 157.6,1268.7 157.9,1267.2 158.3,1267.0 158.6,1266.2 158.9,1265.2 159.2,1263.5 159.5,1262.0 159.9,1261.6 160.2,1260.5 160.5,1258.3 160.8,1256.5 161.2,1254.7 161.4,1254.2 161.7,1253.6 161.9,1252.0 162.1,1250.3 162.3,1249.4 162.5,1249.5 162.6,1248.3 162.8,1246.5 163.0,1245.4 163.2,1243.9 163.4,1243.0 163.6,1241.2 163.8,1240.3 164.0,1239.5 164.2,1238.3 164.4,1236.9 164.6,1236.1 164.8,1234.6 165.0,1234.2 165.2,1233.3 165.4,1231.9 165.6,1231.1 165.8,1229.4 166.0,1228.9 166.2,1226.9 166.5,1226.1 166.8,1224.5 167.1,1222.9 167.5,1221.9 167.8,1220.7 168.2,1219.1 168.5,1218.5 168.9,1218.5 169.3,1217.5 169.6,1216.4 170.0,1215.7 170.3,1214.3 170.7,1213.8 171.1,1213.1 171.6,1211.6 172.3,1210.2 173.1,1208.9 173.9,1208.8 174.8,1207.4 175.7,1206.5 176.7,1206.5 177.9,1207.2 179.1,1207.1 180.4,1208.0 181.7,1208.5 182.8,1209.2 184.0,1209.5 185.1,1209.6 186.3,1208.7 187.3,1208.5 188.4,1208.8 189.4,1209.5 190.3,1210.0 191.1,1211.1 191.7,1212.9 192.2,1213.8 192.7,1214.8 193.1,1216.4 193.5,1217.4 194.0,1218.5 194.5,1219.1 195.0,1219.2 195.5,1220.3 196.1,1219.8 196.7,1218.2 197.3,1217.1 198.0,1215.2 198.6,1214.4 199.3,1213.5 199.9,1212.0 200.6,1210.5 201.3,1209.9 202.1,1208.8 203.0,1208.3 204.0,1207.6 204.9,1206.7 205.7,1206.5 206.6,1205.8 207.5,1204.9 208.3,1206.1 209.2,1206.5 210.0,1207.0 210.8,1208.0 211.6,1209.3 212.5,1209.7 213.3,1210.9 214.2,1211.4 215.1,1212.1 216.0,1212.3 216.8,1212.0 217.6,1211.3 218.3,1209.8 219.1,1209.0 219.9,1208.4 220.7,1207.5 221.6,1206.6 222.5,1205.7 223.3,1204.9 224.3,1204.2 225.2,1202.9 226.1,1202.3 227.0,1202.8 227.9,1202.4 228.8,1202.2 229.8,1202.0 230.8,1203.2 231.7,1203.7 232.5,1204.5 233.2,1204.8 233.9,1206.1 234.6,1207.9 235.2,1209.2 235.8,1209.9 236.4,1211.5 236.8,1212.3 237.3,1212.3 237.7,1213.8 238.2,1216.1 238.7,1216.6 239.1,1217.0 239.6,1218.8 240.1,1219.4 240.6,1220.1 241.3,1221.9 242.2,1222.2 243.3,1222.7 244.4,1222.8 245.7,1223.6 246.9,1223.5 248.2,1223.2 249.6,1223.4 250.8,1224.3 252.1,1224.2 253.3,1224.1 254.4,1222.8 255.5,1222.7 256.6,1222.8 257.6,1222.8 258.6,1222.0 259.7,1221.5 260.7,1222.2 261.5,1222.3 262.2,1222.1 262.9,1222.8 263.6,1224.1 264.3,1225.6 265.1,1226.0 265.8,1226.6 266.6,1227.8 267.4,1228.3 268.2,1229.8 268.8,1231.1 269.5,1232.3 270.1,1233.2 270.7,1233.1 271.3,1234.6 272.0,1235.5 272.6,1236.3 273.3,1237.5 274.0,1238.3 274.6,1239.4 275.3,1241.3 275.9,1241.9 276.5,1241.9 277.1,1242.8 277.7,1243.4 278.4,1244.7 279.3,1245.6 280.3,1245.9 281.2,1246.7 282.1,1248.0 282.9,1249.2 283.8,1249.0 284.8,1249.9 285.9,1249.8 287.2,1250.8 288.3,1250.8 289.3,1251.6 290.3,1251.4"/><path d="M425.2,981.2L426.5,982.3 427.6,982.5 428.9,984.4 430.1,984.0 431.3,985.3 432.4,986.7 433.6,986.2 434.7,987.5 435.8,987.3 436.9,986.8 438.0,987.0 439.2,987.0 440.4,987.0 441.6,988.6 442.7,988.2 443.8,990.0 444.8,990.1 445.7,988.5 446.7,989.4 447.6,991.0 448.6,991.8 449.7,990.3 450.8,990.3 451.9,989.4 453.0,989.7 454.2,989.5 455.4,988.1 456.6,986.0 457.7,986.3 458.8,985.1 459.8,984.8 460.7,983.5 461.7,984.0 462.8,984.3 463.8,984.1 464.9,984.4 465.9,984.8 466.9,984.3 467.9,983.9 469.0,985.8 470.1,984.5 471.2,982.8 472.4,983.3 473.5,983.0 474.6,982.6 475.7,983.9 476.8,982.5 477.9,983.9 479.0,983.3 480.2,982.3 481.4,982.7 482.6,982.8 483.6,982.0 484.4,983.0 485.1,982.7 485.7,982.6 486.3,981.4 487.0,980.3 487.6,979.7 488.2,978.4 488.9,976.4 489.5,974.9 490.2,973.9 490.9,973.5 491.7,972.6 492.4,971.3 493.1,969.8 493.8,967.7 494.5,967.3 495.3,966.8 496.1,967.5 497.0,968.3 497.8,969.5 498.5,971.0 499.0,971.4 499.4,972.9 499.8,973.6 500.1,974.2 500.4,976.0 500.8,976.1 501.1,977.5 501.5,979.0 501.9,980.5 502.2,982.1 502.6,982.9 502.9,984.2 503.3,984.7 503.6,985.7 503.9,986.6 504.2,988.3 504.5,989.4 504.8,990.8 505.1,991.2 505.4,992.8 505.7,994.6 506.0,994.6 506.3,996.5 506.5,997.9 506.8,999.1 507.1,999.9 507.4,1001.0 507.7,1002.6 508.0,1003.0 508.3,1004.5 508.7,1005.9 509.0,1007.2 509.4,1008.0 509.7,1008.7 510.1,1010.9 510.5,1011.8 510.8,1013.6 511.2,1015.1 511.5,1015.6 511.9,1015.9 512.3,1016.9 512.7,1016.6 513.3,1016.4 513.9,1016.3 514.5,1015.7 515.1,1014.6 515.8,1012.9 516.4,1011.4 516.9,1010.5 517.4,1009.0 517.9,1008.1 518.3,1006.3 518.8,1005.5 519.2,1005.5 519.6,1003.7 520.1,1002.5 520.5,1001.2 520.9,1000.9 521.3,999.2 521.6,997.6 521.9,997.0 522.3,996.9 522.6,995.4 522.9,993.3 523.2,993.0 523.5,990.9 523.8,990.0 524.1,989.2 524.4,988.3 524.6,986.5 524.9,986.0 525.3,984.4 525.6,983.9 525.9,983.1 526.2,981.3 526.5,979.4 526.9,979.2 527.2,978.2 527.5,977.5 527.9,976.2 528.4,974.2 528.8,973.5 529.3,972.7 529.7,971.9 530.1,970.4 530.5,969.2 530.9,967.9 531.4,966.1 531.9,965.9 532.4,965.4 533.1,965.2 533.8,964.9 534.7,966.0 535.6,966.8 536.4,967.9 537.2,970.1 537.7,971.2 538.2,971.4 538.5,972.0 538.9,974.0 539.3,974.3 539.7,975.8 540.1,977.4 540.6,979.1 541.0,980.1 541.4,981.1 541.8,982.3 542.3,984.0 542.7,984.8 543.2,985.1 543.9,986.5 544.7,987.7 545.7,987.6 546.9,987.3 548.0,987.9 549.1,989.4 550.1,989.1 551.2,990.1 552.2,990.1 553.2,990.7 554.1,991.7 555.1,993.0 556.0,992.5 557.0,992.8 558.0,992.9 559.0,991.6 560.0,989.7 560.8,988.9 561.6,989.0 562.3,987.5 563.0,986.1 563.6,985.8 564.3,985.2 564.9,983.5 565.5,982.1 566.1,981.4 566.7,981.1 567.3,980.6 567.8,979.0 568.4,978.9 569.0,978.1 569.5,976.9 570.0,975.5 570.6,974.1 571.2,973.7 571.8,972.8 572.4,971.9 572.9,970.0 573.4,968.8 573.8,967.7 574.2,967.2 574.5,965.8 574.9,965.3 575.2,964.2 575.5,962.8 575.8,961.7 576.2,961.6 576.5,959.9 576.9,958.0 577.2,957.3 577.6,956.3 577.9,954.7 578.3,954.0 578.7,953.1 579.2,951.9 579.7,950.7 580.3,951.2 580.9,951.8 581.5,952.2 582.2,953.6 582.9,955.2 583.6,956.6 584.4,957.9 585.1,958.9 585.8,959.5 586.4,960.8 587.0,961.8 587.6,962.9 588.1,963.0 588.7,964.1 589.3,966.0 589.9,967.1 590.5,967.5 591.1,969.2 591.6,970.3 592.2,970.9 592.8,971.3 593.5,971.5 594.3,972.8 595.1,974.8 596.0,975.8 596.9,975.3 597.8,975.5 598.6,976.5 599.6,977.5 600.5,976.8 601.5,977.3 602.5,976.9 603.6,976.2 604.6,975.5 605.5,973.9 606.2,972.3 606.9,971.6 607.5,970.9 608.2,970.3 608.8,969.1 609.5,968.3 610.1,966.4 610.7,965.4 611.4,964.4 612.0,963.6 612.6,963.5 613.2,962.7 613.9,960.6 614.5,959.6 615.1,958.0 615.8,957.1 616.4,956.2 617.0,956.1 617.6,955.6 618.2,954.5 618.8,952.8 619.6,951.8 620.5,950.8 621.4,950.4 622.4,949.3 623.5,949.3 624.5,948.8 625.5,949.0 626.4,949.9 627.2,950.4 628.1,950.3 628.9,951.5 629.8,951.8 630.6,952.5 631.5,954.5 632.3,954.7 633.2,955.6 634.1,957.3 635.1,958.3 636.1,958.6 637.1,959.5 637.9,959.7 638.6,959.7 639.3,960.9"/><path d="M425.2,989.1L426.5,987.0 427.6,988.2 428.9,988.4 430.1,989.2 431.3,988.3 432.4,988.9 433.6,987.7 434.7,989.4 435.8,988.3 436.9,987.6 438.0,988.4 439.2,989.1 440.4,988.1 441.6,988.7 442.8,988.3 444.0,988.8 445.2,989.8 446.3,990.8 447.4,991.8 448.5,993.3 449.7,992.8 450.8,993.5 451.9,993.4 453.0,992.8 454.2,991.9 455.4,990.3 456.6,989.9 457.9,990.2 459.1,989.4 460.4,988.7 461.6,989.9 462.7,989.9 463.8,988.4 464.9,987.4 465.9,987.4 466.9,988.6 467.9,988.7 469.0,987.7 470.1,986.2 471.2,984.5 472.4,984.3 473.5,985.9 474.8,985.7 476.1,985.1 477.5,984.2 478.9,984.0 480.1,984.1 481.4,984.3 482.5,985.3 483.6,984.5 484.5,984.3 485.2,983.4 485.8,983.0 486.5,982.7 487.2,981.4 487.9,979.1 488.6,979.9 489.3,979.1 490.1,977.6 490.9,975.9 491.7,975.6 492.6,974.1 493.5,972.1 494.4,971.7 495.2,971.3 496.0,970.6 496.8,970.3 497.7,969.9 498.6,970.3 499.4,970.6 500.1,972.4 500.6,973.1 501.0,974.8 501.4,976.0 501.7,976.1 502.0,976.4 502.4,977.5 502.7,979.3 503.1,980.3 503.5,982.2 503.8,983.4 504.2,984.4 504.5,985.6 504.9,986.1 505.2,987.4 505.5,988.2 505.8,990.0 506.1,991.4 506.4,991.8 506.6,993.6 506.9,995.1 507.2,995.2 507.4,995.8 507.7,997.2 508.0,998.9 508.2,999.3 508.5,1000.9 508.8,1001.7 509.0,1003.3 509.3,1004.8 509.6,1005.6 509.9,1005.8 510.3,1007.3 510.6,1008.6 511.0,1010.5 511.3,1011.1 511.7,1012.0 512.1,1013.5 512.4,1014.3 512.8,1015.6 513.1,1017.2 513.5,1017.5 513.9,1018.0 514.3,1019.2 514.9,1018.6 515.5,1018.7 516.1,1017.8 516.7,1016.4 517.4,1015.0 518.0,1013.7 518.5,1012.8 519.0,1011.4 519.5,1009.8 519.9,1009.2 520.4,1008.3 520.8,1007.6 521.2,1005.5 521.7,1004.8 522.1,1004.3 522.5,1002.2 522.9,1001.8 523.2,1001.1 523.5,999.4 523.9,997.6 524.2,997.1 524.5,995.5 524.8,994.6 525.1,993.8 525.4,991.9 525.7,990.4 526.0,989.2 526.2,988.3 526.5,987.1 526.9,986.9 527.2,985.8 527.5,983.6 527.8,983.1 528.1,982.6 528.5,981.4 528.8,979.7 529.1,978.8 529.5,978.0 530.0,976.7 530.4,976.2 530.9,975.1 531.3,973.7 531.7,971.2 532.1,969.8 532.5,969.4 533.0,968.3 533.5,967.0 534.0,966.6 534.7,967.5 535.5,967.8 536.3,967.3 537.2,968.3 538.0,970.3 538.8,971.1 539.3,972.0 539.8,973.9 540.1,974.1 540.5,974.7 540.9,976.3 541.3,977.7 541.7,979.4 542.2,980.7 542.6,981.0 543.0,982.7 543.4,984.6 543.9,985.3 544.3,986.8 544.8,987.9 545.5,988.5 546.3,988.9 547.3,989.1 548.5,990.6 549.6,990.3 550.7,990.4 551.7,991.1 552.8,991.9 553.8,992.9 554.8,993.6 555.7,994.9 556.7,995.4 557.6,995.2 558.6,994.5 559.6,994.4 560.6,993.6 561.6,992.9 562.4,991.5 563.2,991.1 563.9,990.0 564.6,988.4 565.2,988.2 565.9,986.7 566.5,985.5 567.1,984.5 567.9,983.9 568.8,983.9 569.7,983.2 570.4,981.8 571.0,980.7 571.5,979.5 572.0,978.2 572.5,977.9 573.0,976.1 573.6,974.1 574.1,973.1 574.6,972.4 575.0,971.8 575.5,969.8 575.9,968.7 576.3,968.4 576.6,966.9 577.0,966.2 577.4,963.8 577.7,962.5 578.1,961.7 578.5,960.8 578.8,959.8 579.2,958.4 579.5,958.0 579.9,956.9 580.3,955.6 580.8,955.4 581.3,955.1 581.9,955.2 582.5,954.8 583.1,954.7 583.8,955.9 584.5,956.4 585.2,958.1 586.0,960.1 586.7,960.6 587.4,962.0 588.0,963.4 588.6,963.9 589.2,964.3 589.7,965.3 590.3,966.0 590.9,967.9 591.5,968.9 592.1,969.4 592.7,970.6 593.2,972.0 593.8,971.8 594.4,972.8 595.1,974.5 595.9,975.8 596.7,976.4 597.6,977.1 598.5,977.1 599.4,978.3 600.2,978.6 601.2,978.2 602.1,978.6 603.1,978.1 604.1,977.8 605.2,977.8 606.2,976.9 607.1,974.7 607.8,973.8 608.5,974.0 609.1,973.7 609.8,972.3 610.4,970.9 611.1,970.5 611.7,969.6 612.3,967.2 613.0,966.0 613.6,965.7 614.2,965.3 614.9,964.1 615.6,962.8 616.3,961.1 617.0,959.8 617.8,958.7 618.5,958.2 619.1,957.2 619.8,956.8 620.5,956.0 621.3,955.4 622.4,955.9 623.5,955.6 624.7,955.8 625.9,955.9 627.1,956.1 628.3,956.4 629.3,956.0 630.1,955.5 630.7,957.2 631.3,958.1 631.9,959.1 632.5,959.3 633.0,960.1 633.6,961.2 634.2,962.2 635.0,963.1 636.1,964.5 637.2,964.8 638.2,964.1 639.3,963.4"/><path d="M425.2,1037.8L426.0,1039.1 426.7,1038.9 427.7,1040.2 428.7,1041.4 429.8,1040.8 430.9,1041.0 431.9,1041.0 433.0,1040.2 434.1,1037.5 435.2,1037.4 436.3,1039.4 437.3,1038.8 438.4,1037.8 439.4,1038.9 440.3,1038.3 441.2,1039.2 442.1,1040.2 442.9,1040.4 443.7,1041.1 444.5,1043.1 445.3,1044.4 446.1,1044.7 447.1,1046.5 448.1,1047.8 449.3,1046.2 450.4,1046.4 451.5,1046.5 452.7,1047.7 453.8,1047.1 455.0,1046.8 456.1,1046.7 457.3,1048.3 458.5,1048.6 459.7,1048.0 460.8,1048.2 462.0,1046.5 463.1,1046.4 464.3,1047.5 465.4,1045.7 466.6,1045.1 467.8,1045.8 469.0,1048.4 470.2,1049.5 471.3,1048.2 472.4,1049.0 473.3,1048.8 474.1,1047.8 474.9,1046.9 475.7,1046.2 476.5,1045.2 477.4,1045.9 478.3,1043.7 479.2,1043.5 480.1,1043.4 481.1,1042.7 482.1,1041.6 483.0,1041.2 484.0,1041.2 484.9,1038.5 485.8,1037.3 486.6,1037.1 487.4,1037.4 488.1,1035.8 488.8,1034.3 489.5,1032.5 490.2,1031.9 490.8,1032.1 491.4,1030.5 492.0,1029.5 492.5,1027.8 493.0,1026.5 493.5,1025.4 494.0,1025.4 494.5,1024.5 495.0,1023.9 495.6,1023.9 496.1,1025.2 496.6,1025.6 497.1,1025.8 497.7,1027.2 498.3,1029.4 498.8,1030.0 499.3,1031.0 499.8,1032.1 500.3,1034.1 500.7,1034.7 501.1,1036.1 501.4,1037.5 501.7,1038.3 501.9,1039.0 502.1,1040.0 502.3,1041.5 502.5,1042.3 502.7,1044.0 503.0,1045.8 503.2,1046.8 503.4,1047.3 503.6,1047.9 503.9,1048.4 504.1,1050.3 504.3,1051.5 504.6,1051.5 504.8,1052.1 505.1,1053.8 505.3,1055.2 505.6,1057.1 505.9,1058.2 506.2,1058.9 506.4,1060.1 506.6,1061.2 506.8,1062.6 507.0,1063.8 507.3,1064.9 507.5,1065.7 507.7,1067.5 508.0,1068.0 508.2,1069.5 508.4,1071.2 508.7,1072.0 508.9,1074.0 509.2,1075.0 509.4,1076.0 509.6,1076.9 509.9,1078.4 510.1,1079.6 510.3,1080.0 510.5,1081.8 510.7,1082.8 511.0,1082.6 511.4,1082.7 511.9,1082.8 512.3,1081.8 512.7,1080.3 513.1,1078.4 513.6,1076.7 513.9,1074.9 514.3,1073.5 514.6,1073.4 514.9,1072.2 515.2,1070.3 515.5,1070.2 515.8,1069.5 516.1,1067.7 516.5,1066.8 516.8,1064.9 517.1,1064.2 517.4,1063.3 517.7,1061.6 518.0,1060.1 518.3,1058.9 518.6,1058.3 518.9,1057.0 519.2,1056.2 519.5,1055.2 519.8,1053.6 520.1,1052.6 520.4,1051.3 520.7,1051.1 521.1,1050.3 521.4,1048.4 521.9,1047.2 522.3,1046.6 522.8,1045.6 523.2,1045.0 523.6,1043.9 524.1,1042.4 524.5,1041.3 524.9,1040.5 525.4,1039.5 525.8,1038.2 526.2,1037.1 526.6,1035.9 527.1,1035.2 527.5,1033.9 528.1,1032.3 528.6,1031.7 529.3,1030.2 530.0,1029.1 530.7,1028.7 531.5,1028.5 532.2,1027.7 532.8,1027.9 533.4,1028.9 534.0,1030.0 534.7,1031.0 535.3,1032.0 536.0,1031.9 536.6,1033.3 537.3,1034.4 538.0,1035.4 538.7,1036.4 539.3,1037.9 540.0,1039.2 540.6,1039.8 541.3,1040.0 542.0,1041.5 542.7,1043.0 543.4,1043.4 544.0,1043.9 544.7,1044.9 545.5,1046.1 546.3,1046.4 547.3,1046.8 548.3,1047.3 549.5,1048.3 550.6,1049.6 551.6,1049.3 552.7,1049.7 553.6,1049.8 554.6,1050.3 555.5,1049.5 556.3,1047.4 557.1,1046.2 558.0,1045.6 558.8,1044.9 559.7,1045.1 560.6,1045.2 561.5,1044.0 562.4,1043.2 563.2,1042.2 563.8,1041.7 564.3,1040.2 564.7,1039.4 565.2,1037.8 565.6,1036.9 566.1,1035.6 566.6,1035.2 567.0,1034.3 567.5,1032.6 568.0,1031.9 568.5,1031.0 568.9,1029.6 569.4,1029.0 569.8,1026.8 570.2,1026.1 570.6,1026.2 571.0,1025.2 571.4,1023.1 571.8,1021.3 572.2,1020.3 572.6,1019.2 572.9,1018.0 573.3,1016.9 573.6,1015.8 573.9,1015.2 574.2,1013.3 574.6,1013.0 574.9,1011.9 575.3,1011.8 575.7,1011.0 576.3,1010.0 577.3,1008.5 578.4,1007.8 579.6,1006.4 580.8,1006.3 581.9,1006.3 582.8,1006.9 583.7,1008.7 584.5,1008.9 585.3,1009.7 586.0,1011.7 586.8,1012.8 587.5,1013.5 588.2,1013.9 588.8,1014.6 589.4,1015.8 589.9,1017.9 590.4,1019.6 590.9,1020.4 591.4,1020.7 591.8,1021.7 592.3,1023.6 592.8,1024.3 593.5,1024.2 594.2,1024.2 595.0,1023.1 595.8,1022.7 596.6,1022.6 597.4,1020.6 598.1,1019.9 598.6,1018.4 598.9,1017.8 599.2,1016.1 599.6,1015.0 599.9,1014.9 600.2,1014.3 600.5,1012.7 600.8,1011.8 601.1,1010.5 601.4,1009.3 601.7,1007.9 602.0,1007.0 602.4,1005.6 602.7,1003.9 603.0,1002.9 603.4,1002.2 603.8,1000.1 604.2,999.2 604.6,997.9 605.0,997.7 605.4,996.6 605.8,995.7 606.2,994.1 606.6,993.0 607.0,992.3 607.4,991.4 607.8,989.8 608.3,988.6 608.9,988.0 609.6,986.7 610.3,986.0 610.9,984.9 611.6,984.7 612.3,983.8 613.0,982.6 613.7,982.5 614.5,981.5 615.2,981.0 616.0,979.4 616.7,978.6 617.5,977.8 618.2,977.3 619.0,976.1 619.8,975.4 620.6,974.4 621.4,973.4 622.2,973.4 623.0,972.1 623.7,971.7 624.4,970.5 625.2,969.2 625.9,968.1 626.6,967.0 627.4,966.0 628.2,965.7 629.1,965.7 630.0,964.2 631.0,963.9 632.0,963.4 633.0,962.6 634.1,961.9 635.3,962.4 636.4,962.0 637.5,961.7 638.4,961.4 639.3,961.8"/><path d="M425.2,1040.3L426.0,1038.9 426.7,1040.1 427.7,1041.3 428.7,1042.7 429.9,1041.7 431.1,1041.5 432.3,1041.5 433.6,1041.0 434.8,1041.9 436.1,1041.8 437.2,1040.8 438.3,1039.6 439.4,1042.0 440.3,1042.0 441.2,1042.5 442.1,1043.1 442.9,1044.0 443.7,1045.5 444.5,1044.7 445.3,1045.3 446.1,1048.0 447.1,1047.4 448.1,1047.8 449.3,1049.3 450.4,1050.7 451.5,1049.3 452.7,1047.9 453.8,1048.1 455.0,1047.9 456.1,1048.0 457.3,1050.5 458.5,1050.5 459.7,1048.7 460.8,1048.9 462.0,1050.5 463.1,1049.6 464.2,1048.4 465.3,1048.8 466.3,1049.8 467.2,1048.8 468.2,1049.6 469.1,1049.2 470.2,1050.6 471.3,1050.8 472.4,1051.0 473.3,1050.9 474.1,1050.8 474.9,1051.1 475.7,1048.8 476.5,1047.1 477.4,1048.4 478.3,1048.3 479.2,1047.0 480.1,1044.6 481.0,1044.0 482.0,1044.0 483.0,1041.5 483.9,1040.5 484.9,1040.8 485.8,1039.7 486.7,1039.1 487.5,1038.1 488.4,1039.0 489.2,1037.1 490.0,1035.5 490.8,1034.4 491.6,1033.7 492.3,1033.7 493.0,1032.7 493.6,1031.4 494.2,1030.0 494.8,1028.2 495.4,1026.8 496.0,1026.0 496.6,1025.5 497.2,1026.0 497.7,1027.0 498.2,1028.3 498.8,1028.8 499.3,1029.2 499.9,1030.8 500.4,1032.1 501.0,1034.0 501.4,1035.4 501.9,1036.2 502.3,1037.2 502.7,1037.9 503.0,1038.8 503.3,1040.7 503.5,1041.8 503.7,1042.6 503.9,1044.2 504.1,1045.2 504.3,1045.9 504.6,1046.4 504.8,1048.2 505.0,1048.2 505.2,1048.9 505.5,1049.8 505.7,1051.0 505.9,1052.8 506.2,1053.6 506.4,1054.0 506.7,1055.3 506.9,1057.2 507.2,1057.9 507.5,1059.1 507.8,1061.0 508.0,1061.4 508.2,1062.2 508.4,1064.0 508.6,1065.5 508.9,1065.9 509.1,1067.7 509.3,1068.9 509.6,1071.0 509.8,1072.0 510.0,1073.0 510.3,1074.2 510.5,1075.0 510.8,1076.3 511.0,1078.3 511.2,1079.5 511.5,1080.0 511.7,1080.9 511.9,1082.4 512.1,1083.7 512.3,1083.4 512.6,1084.6 513.0,1085.2 513.5,1084.0 513.9,1083.0 514.3,1081.8 514.7,1079.7 515.2,1077.6 515.5,1076.6 515.9,1076.5 516.2,1075.2 516.5,1074.4 516.8,1072.6 517.1,1072.0 517.4,1070.3 517.7,1069.3 518.1,1068.9 518.4,1068.3 518.7,1067.2 519.0,1065.5 519.3,1063.4 519.6,1062.9 519.9,1062.0 520.2,1060.3 520.5,1059.3 520.8,1058.1 521.1,1057.5 521.4,1056.6 521.7,1055.2 522.0,1053.3 522.3,1051.9 522.7,1051.2 523.0,1050.4 523.5,1048.9 523.9,1048.7 524.4,1047.9 524.8,1046.7 525.2,1045.6 525.7,1045.1 526.1,1043.4 526.5,1042.2 527.0,1041.7 527.4,1040.4 527.8,1039.0 528.2,1037.7 528.7,1036.3 529.1,1035.3 529.7,1034.6 530.2,1034.0 530.9,1032.3 531.6,1030.8 532.3,1029.8 533.1,1030.1 533.8,1029.5 534.4,1029.5 535.0,1029.8 535.6,1031.3 536.3,1032.0 536.9,1032.8 537.6,1034.0 538.2,1035.1 538.9,1036.3 539.6,1037.4 540.3,1038.6 540.9,1040.4 541.6,1041.6 542.2,1041.8 542.9,1042.0 543.6,1042.9 544.3,1044.4 545.0,1046.3 545.6,1047.2 546.3,1046.7 547.0,1047.5 547.8,1049.6 548.7,1050.4 549.6,1051.0 550.6,1052.0 551.6,1052.6 552.6,1052.9 553.5,1054.2 554.4,1053.6 555.3,1053.7 556.2,1053.1 557.1,1052.5 557.9,1051.8 558.7,1051.1 559.5,1051.2 560.3,1050.1 561.0,1049.4 561.8,1048.9 562.6,1047.6 563.4,1045.9 564.2,1044.6 564.9,1043.4 565.4,1043.1 565.9,1042.9 566.3,1042.3 566.8,1040.8 567.2,1039.2 567.7,1038.9 568.2,1037.7 568.6,1036.4 569.1,1035.6 569.6,1034.1 570.1,1033.3 570.5,1031.7 571.0,1030.6 571.4,1029.1 571.8,1028.0 572.2,1027.8 572.6,1026.8 573.0,1024.5 573.4,1023.5 573.8,1023.4 574.2,1022.5 574.5,1020.9 574.9,1019.9 575.2,1018.5 575.5,1017.6 575.8,1016.0 576.2,1014.8 576.5,1014.5 576.9,1013.7 577.3,1011.6 577.9,1010.4 578.9,1009.6 580.0,1008.6 581.2,1008.2 582.4,1008.8 583.5,1009.9 584.4,1010.1 585.3,1009.9 586.1,1010.5 586.9,1011.7 587.6,1013.4 588.4,1013.8 589.1,1014.7 589.8,1017.0 590.4,1018.2 591.0,1018.8 591.5,1019.5 592.0,1020.3 592.5,1021.9 593.0,1023.1 593.4,1024.6 593.9,1024.9 594.4,1026.4 595.1,1027.2 595.8,1027.2 596.6,1026.3 597.4,1024.6 598.2,1024.1 599.0,1022.6 599.7,1020.7 600.3,1019.7 600.8,1019.6 601.3,1018.9 601.8,1017.2 602.2,1015.4 602.7,1014.1 603.2,1013.6 603.6,1012.2 604.1,1010.8 604.7,1010.7 605.3,1009.4 605.9,1008.3 606.5,1006.8 607.2,1006.8 607.9,1005.4 608.5,1003.6 609.2,1003.2 609.9,1001.6 610.6,1000.8 611.4,1000.6 612.2,1000.0 613.0,998.4 613.8,996.8 614.6,996.7 615.3,995.5 616.1,995.0 616.8,993.8 617.6,992.6 618.3,991.2 619.1,990.9 619.8,989.8 620.6,989.5 621.4,988.7 622.2,988.2 623.0,987.5 623.8,985.9 624.6,985.7 625.4,984.0 626.3,982.7 627.1,982.2 628.0,981.8 628.9,980.5 629.7,980.0 630.5,979.2 631.4,979.2 632.2,978.3 633.0,977.3 633.8,975.6 634.6,975.2 635.3,975.0 636.1,973.9 636.9,971.9 637.6,971.5 638.2,970.1 638.8,969.8 639.3,968.4"/><path d="M425.2,1102.6L426.5,1104.8 427.6,1103.7 428.9,1105.1 430.1,1105.9 431.3,1105.5 432.4,1104.2 433.6,1104.2 434.7,1105.4 435.8,1106.0 436.9,1105.0 438.0,1104.2 439.2,1103.6 440.5,1103.7 441.7,1104.4 443.0,1103.7 444.3,1103.7 445.6,1103.8 446.9,1103.2 448.2,1101.3 449.5,1101.4 450.8,1102.6 452.1,1102.6 453.3,1102.6 454.5,1100.5 455.6,1100.7 456.8,1101.8 458.0,1102.5 459.3,1101.8 460.6,1103.1 461.9,1102.7 463.3,1102.8 464.6,1103.9 465.9,1103.0 467.2,1104.8 468.5,1104.0 469.7,1104.2 471.0,1104.6 472.1,1106.3 473.3,1107.7 474.3,1106.6 475.3,1106.8 476.1,1106.1 476.9,1104.7 477.7,1103.6 478.5,1104.0 479.4,1102.7 480.2,1101.9 481.0,1101.1 481.8,1099.5 482.6,1100.5 483.4,1100.0 484.2,1097.7 485.0,1098.0 485.8,1096.9 486.6,1094.7 487.5,1093.3 488.3,1092.0 489.1,1091.9 489.9,1091.3 490.7,1090.5 491.5,1089.5 492.4,1088.2 493.2,1086.4 494.1,1085.9 494.9,1086.3 495.5,1086.5 496.0,1086.7 496.4,1087.7 496.9,1089.7 497.4,1090.7 497.9,1091.5 498.4,1092.0 498.9,1093.3 499.4,1094.9 499.9,1096.1 500.3,1097.1 500.7,1097.5 501.0,1099.3 501.3,1099.8 501.6,1101.0 501.8,1102.6 502.1,1104.2 502.3,1104.7 502.6,1105.8 502.8,1106.7 503.0,1108.6 503.2,1109.1 503.5,1110.5 503.7,1112.1 504.0,1113.3 504.2,1114.1 504.5,1115.1 504.7,1115.6 505.0,1117.9 505.2,1118.7 505.5,1119.6 505.7,1120.4 506.0,1121.8 506.3,1123.3 506.5,1124.0 506.8,1124.6 507.0,1126.0 507.3,1128.0 507.5,1128.4 507.7,1129.7 507.9,1131.0 508.1,1131.7 508.3,1133.6 508.5,1134.9 508.7,1136.7 508.9,1137.2 509.0,1138.7 509.2,1139.9 509.3,1141.0 509.5,1142.2 509.7,1143.0 509.9,1143.7 510.2,1144.5 510.5,1143.7 510.9,1142.9 511.4,1143.0 511.9,1141.5 512.4,1139.7 512.9,1139.3 513.4,1138.1 513.9,1136.7 514.3,1135.6 514.7,1134.0 515.1,1133.5 515.5,1132.1 515.9,1131.6 516.2,1130.8 516.6,1128.9 517.0,1127.5 517.4,1126.8 517.8,1125.7 518.1,1124.1 518.5,1122.3 518.8,1121.6 519.1,1120.9 519.5,1119.0 519.7,1118.4 520.0,1118.3 520.3,1116.9 520.6,1115.0 520.8,1113.7 521.1,1113.3 521.4,1112.3 521.7,1110.8 522.0,1110.2 522.3,1109.8 522.6,1108.3 523.0,1106.7 523.3,1105.0 523.6,1104.2 524.0,1102.9 524.3,1103.0 524.7,1101.6 525.1,1100.5 525.4,1099.3 525.8,1097.6 526.2,1097.4 526.6,1096.2 527.0,1094.2 527.4,1094.0 527.9,1093.1 528.3,1091.6 528.7,1089.4 529.2,1089.2 529.6,1088.2 530.1,1086.5 530.7,1085.7 531.3,1086.1 531.9,1085.7 532.6,1086.7 533.3,1087.7 534.1,1088.0 534.9,1088.8 535.7,1089.9 536.5,1090.5 537.2,1091.7 538.0,1093.7 538.7,1095.4 539.4,1096.4 540.0,1096.1 540.6,1097.3 541.3,1099.0 541.9,1099.6 542.5,1101.2 543.1,1102.6 543.7,1103.5 544.3,1104.1 544.9,1105.2 545.6,1106.2 546.3,1106.2 547.0,1107.5 547.7,1109.1 548.4,1110.0 549.1,1111.4 549.8,1112.6 550.5,1113.1 551.3,1113.8 552.1,1115.0 553.0,1116.0 554.0,1115.5 554.9,1115.9 555.9,1117.3 556.8,1117.6 557.7,1117.1 558.6,1116.3 559.6,1115.8 560.6,1116.1 561.6,1115.2 562.5,1114.3 563.2,1112.9 563.8,1111.9 564.2,1110.2 564.6,1109.6 564.9,1108.0 565.3,1107.1 565.6,1106.4 566.0,1105.6 566.4,1105.0 566.7,1103.2 567.1,1101.3 567.4,1101.0 567.8,1100.0 568.2,1098.9 568.5,1097.8 568.9,1096.3 569.2,1094.8 569.6,1093.6 569.9,1091.7 570.3,1091.0 570.7,1090.4 571.1,1089.6 571.7,1087.5 572.3,1086.2 573.0,1085.0 573.7,1083.8 574.4,1083.4 575.0,1083.1 575.7,1081.3 576.4,1079.9 577.1,1079.5 577.7,1080.2 578.4,1080.1 579.1,1080.7 579.8,1080.5 580.5,1081.7 581.2,1082.0 581.9,1083.7 582.6,1084.7 583.3,1084.9 583.9,1085.5 584.6,1087.4 585.2,1088.8 585.8,1089.8 586.4,1090.4 586.9,1092.3 587.4,1093.0 587.9,1094.0 588.4,1094.9 588.8,1096.2 589.3,1098.1 589.8,1099.0 590.2,1100.4 590.7,1102.1 591.2,1102.9 591.6,1102.9 592.1,1102.8 592.7,1103.2 593.2,1102.8 593.8,1103.0 594.3,1102.1 594.9,1100.8 595.4,1098.9 596.0,1098.0 596.5,1096.2 597.1,1094.4 597.7,1092.9 598.2,1092.3 598.7,1091.5 599.1,1089.8 599.6,1088.6 600.0,1088.3 600.5,1087.4 600.9,1086.6 601.4,1085.5 601.8,1083.6 602.3,1083.2 602.8,1081.5 603.2,1080.7 603.7,1079.2 604.1,1078.6 604.5,1077.3 604.9,1076.6 605.4,1076.3 605.9,1075.2 606.5,1074.1 607.1,1073.0 607.8,1071.1 608.4,1070.0 609.0,1069.9 609.6,1068.9 610.2,1067.8 610.9,1067.8 611.7,1066.8 612.5,1065.5 613.4,1064.3 614.3,1064.4 615.0,1064.1 615.7,1064.7 616.4,1066.3 617.1,1067.3 617.9,1068.2 618.6,1068.3 619.5,1069.6 620.4,1070.1 621.4,1070.3 622.4,1071.8 623.4,1071.9 624.5,1072.0 625.6,1072.4 626.8,1072.3 628.1,1071.5 629.4,1071.2 630.6,1071.1 631.9,1071.4 633.1,1070.6 634.3,1070.8 635.5,1070.5 636.6,1069.8 637.6,1069.3 638.4,1068.1 639.3,1067.4"/><path d="M425.2,1107.3L426.5,1106.4 427.6,1106.1 428.9,1106.6 430.1,1107.7 431.3,1108.1 432.4,1106.5 433.6,1105.5 434.7,1105.5 435.8,1105.0 436.9,1106.6 438.0,1107.3 439.2,1105.6 440.5,1106.1 441.7,1105.3 443.0,1106.6 444.3,1105.7 445.6,1104.5 446.9,1103.2 448.2,1103.6 449.5,1105.1 450.8,1103.6 452.1,1104.4 453.3,1104.7 454.5,1105.1 455.6,1105.9 456.8,1105.3 458.0,1106.2 459.3,1104.9 460.6,1104.9 461.9,1105.7 463.3,1104.4 464.6,1104.1 465.9,1105.3 467.2,1105.7 468.5,1104.8 469.7,1106.7 471.0,1107.2 472.1,1106.5 473.3,1107.9 474.3,1107.3 475.3,1108.3 476.1,1108.1 476.9,1106.7 477.7,1105.9 478.5,1105.8 479.4,1103.7 480.2,1103.2 481.0,1102.4 481.8,1100.9 482.6,1101.8 483.3,1100.0 484.1,1100.2 485.0,1098.6 485.8,1096.4 486.6,1096.3 487.4,1096.5 488.3,1095.8 489.1,1095.6 489.9,1093.2 490.8,1093.9 491.6,1093.2 492.4,1091.0 493.2,1090.2 494.1,1088.9 495.0,1088.8 495.8,1088.7 496.5,1088.4 497.1,1089.2 497.6,1089.1 498.1,1089.5 498.6,1091.1 499.1,1092.5 499.6,1093.0 500.1,1094.0 500.5,1095.9 501.0,1097.0 501.5,1097.4 501.9,1098.6 502.3,1100.5 502.6,1101.8 502.9,1102.1 503.2,1103.6 503.4,1104.7 503.7,1105.0 503.9,1106.8 504.2,1107.7 504.4,1108.2 504.6,1109.2 504.8,1110.8 505.1,1112.5 505.3,1113.2 505.6,1114.9 505.8,1116.5 506.1,1117.3 506.3,1118.2 506.6,1118.8 506.8,1121.0 507.1,1122.4 507.3,1123.2 507.6,1123.4 507.9,1125.0 508.1,1126.3 508.4,1126.5 508.6,1127.7 508.9,1129.9 509.1,1130.8 509.3,1132.1 509.5,1132.7 509.7,1134.4 509.9,1135.3 510.1,1135.8 510.3,1137.4 510.5,1139.6 510.6,1140.3 510.8,1142.5 510.9,1143.6 511.1,1144.6 511.3,1144.3 511.5,1144.7 511.8,1146.2 512.1,1145.8 512.5,1144.9 513.0,1144.4 513.5,1143.0 514.0,1142.4 514.5,1141.1 515.0,1139.7 515.5,1138.0 515.9,1136.7 516.3,1135.4 516.7,1134.2 517.1,1133.7 517.5,1132.5 517.8,1131.3 518.2,1130.0 518.6,1129.7 519.0,1128.3 519.4,1126.5 519.7,1125.8 520.1,1124.9 520.4,1124.3 520.7,1122.6 521.1,1121.3 521.3,1120.6 521.6,1119.8 521.9,1117.9 522.2,1117.7 522.4,1115.6 522.7,1114.2 523.0,1113.6 523.3,1113.4 523.6,1112.6 523.9,1110.7 524.2,1109.1 524.6,1108.3 524.9,1107.3 525.2,1106.3 525.6,1104.9 525.9,1104.6 526.3,1103.8 526.7,1101.9 527.0,1101.1 527.4,1100.7 527.8,1098.5 528.2,1097.0 528.6,1096.6 529.0,1095.3 529.5,1093.8 529.9,1092.4 530.3,1091.8 530.8,1091.3 531.2,1090.1 531.7,1088.6 532.3,1087.8 532.9,1088.1 533.5,1088.9 534.2,1088.8 534.9,1089.4 535.7,1090.4 536.5,1091.9 537.3,1093.0 538.1,1093.1 538.8,1094.8 539.6,1095.9 540.3,1096.7 541.0,1097.7 541.6,1098.0 542.2,1099.1 542.9,1099.7 543.5,1100.6 544.1,1102.7 544.7,1104.3 545.3,1104.7 545.9,1105.7 546.5,1106.5 547.2,1107.0 547.9,1108.1 548.6,1109.7 549.3,1110.6 550.0,1111.0 550.7,1112.5 551.4,1113.7 552.1,1114.6 552.9,1115.0 553.7,1116.9 554.6,1117.6 555.6,1118.6 556.5,1119.0 557.5,1118.4 558.4,1118.1 559.3,1118.2 560.2,1118.5 561.2,1117.7 562.2,1117.9 563.2,1116.9 564.1,1115.5 564.8,1114.1 565.4,1113.3 565.8,1112.8 566.2,1111.7 566.5,1111.3 566.9,1110.4 567.2,1108.8 567.6,1107.7 568.0,1105.6 568.3,1104.1 568.7,1103.5 569.0,1102.9 569.4,1100.6 569.8,1099.6 570.1,1099.2 570.5,1097.1 570.8,1095.6 571.2,1094.8 571.5,1094.0 571.9,1093.3 572.3,1092.4 572.7,1091.3 573.3,1090.9 573.9,1089.5 574.6,1088.2 575.3,1086.9 576.0,1085.5 576.6,1084.8 577.3,1084.1 578.0,1083.7 578.7,1083.0 579.3,1082.6 580.0,1082.7 580.7,1082.1 581.4,1081.8 582.1,1082.6 582.8,1084.3 583.5,1084.5 584.2,1086.0 584.9,1086.7 585.5,1087.7 586.2,1088.5 586.8,1090.4 587.4,1092.2 588.0,1093.0 588.5,1093.2 589.0,1095.2 589.5,1096.9 590.0,1097.4 590.4,1098.3 590.9,1099.8 591.4,1101.5 591.8,1102.3 592.3,1103.6 592.8,1105.2 593.2,1105.3 593.7,1105.2 594.3,1104.8 594.8,1105.0 595.4,1104.6 595.9,1103.4 596.5,1102.5 597.0,1100.3 597.6,1099.0 598.1,1098.2 598.7,1096.5 599.3,1095.9 599.8,1094.3 600.3,1093.6 600.7,1091.5 601.2,1090.7 601.6,1090.5 602.1,1089.2 602.5,1088.1 603.0,1086.5 603.4,1086.1 603.9,1085.3 604.4,1083.3 604.8,1083.2 605.3,1082.5 605.7,1081.1 606.1,1080.0 606.5,1078.8 607.0,1078.3 607.5,1077.0 608.1,1075.3 608.7,1074.6 609.4,1073.5 610.0,1072.9 610.6,1072.0 611.2,1071.2 611.8,1069.5 612.5,1069.1 613.3,1067.3 614.2,1066.1 615.0,1066.3 615.9,1066.0 616.7,1066.0 617.4,1067.5 618.1,1069.0 618.9,1069.5 619.6,1069.9 620.4,1071.7 621.1,1073.1 621.9,1072.6 622.8,1073.0 623.7,1074.1 624.6,1074.8 625.6,1075.4 626.6,1076.6 627.6,1077.3 628.6,1077.8 629.6,1078.7 630.5,1078.1 631.4,1077.4 632.2,1075.9 633.1,1075.8 633.9,1074.9 634.8,1074.0 635.8,1073.3 636.8,1072.2 637.7,1070.5 638.5,1070.6 639.3,1070.2"/><path d="M425.2,1165.9L426.0,1168.0 426.7,1168.0 427.7,1170.3 428.7,1172.4 429.9,1171.9 431.0,1173.5 432.1,1173.3 433.3,1173.2 434.6,1171.3 435.9,1172.5 437.2,1172.5 438.4,1172.5 439.7,1172.4 441.0,1174.0 442.2,1173.7 443.5,1173.8 444.6,1173.7 445.8,1173.5 446.9,1173.9 448.0,1173.0 449.0,1171.8 450.0,1170.1 451.0,1170.1 452.0,1169.0 453.0,1169.6 454.0,1169.7 455.0,1170.9 456.0,1171.3 456.9,1171.5 457.9,1172.5 458.8,1172.9 459.7,1175.0 460.4,1174.5 461.1,1172.2 461.8,1170.5 462.6,1170.1 463.5,1170.0 464.6,1169.5 465.8,1169.9 467.1,1167.8 468.4,1168.1 469.7,1168.8 470.8,1168.3 471.8,1170.0 472.6,1171.4 473.4,1172.3 474.1,1174.7 474.8,1174.0 475.5,1174.0 476.1,1174.2 476.7,1172.8 477.3,1171.9 477.9,1169.8 478.5,1168.7 479.2,1169.2 480.0,1167.5 480.9,1166.2 481.7,1165.7 482.5,1165.2 483.1,1164.0 483.8,1164.4 484.4,1164.0 485.1,1163.0 485.8,1159.5 486.4,1158.7 487.0,1159.0 487.6,1158.1 488.1,1155.8 488.6,1155.4 489.0,1152.6 489.5,1151.9 489.9,1149.7 490.3,1148.9 490.7,1149.2 491.1,1148.1 491.5,1147.8 492.1,1146.6 492.7,1144.5 493.4,1143.7 494.0,1143.3 494.6,1143.4 495.2,1144.6 495.8,1146.1 496.5,1146.9 497.1,1148.3 497.7,1148.7 498.3,1149.9 498.8,1152.2 499.2,1152.3 499.7,1153.2 500.0,1155.3 500.4,1156.5 500.7,1157.8 501.0,1158.9 501.3,1159.2 501.5,1160.7 501.7,1161.8 501.8,1162.3 502.0,1163.5 502.1,1164.2 502.3,1165.1 502.4,1166.3 502.6,1167.5 502.7,1168.3 502.9,1170.0 503.0,1170.8 503.2,1171.9 503.4,1173.2 503.6,1174.8 503.8,1176.7 504.0,1177.9 504.2,1178.3 504.4,1178.7 504.6,1179.9 504.8,1181.9 505.0,1182.0 505.2,1183.4 505.4,1184.9 505.6,1185.7 505.8,1187.9 506.1,1189.7 506.3,1190.8 506.5,1192.1 506.8,1193.4 507.0,1194.4 507.3,1194.6 507.5,1196.0 507.7,1198.4 508.0,1199.9 508.2,1201.1 508.5,1201.8 508.7,1201.9 508.9,1202.5 509.2,1203.9 509.4,1204.3 509.6,1205.6 509.8,1206.0 510.1,1206.9 510.5,1207.4 511.0,1207.3 511.5,1205.9 511.9,1204.3 512.3,1202.3 512.8,1200.6 513.2,1199.1 513.6,1198.7 514.1,1196.8 514.6,1196.1 515.1,1194.4 515.7,1193.9 516.3,1192.9 516.8,1192.4 517.3,1190.7 517.6,1190.4 517.9,1189.6 518.2,1188.3 518.4,1187.0 518.7,1185.9 518.9,1185.0 519.2,1183.7 519.5,1182.8 519.7,1180.6 520.0,1179.2 520.3,1178.5 520.5,1176.9 520.8,1175.8 521.1,1175.5 521.3,1174.8 521.6,1172.5 521.9,1171.1 522.2,1169.9 522.5,1169.0 522.8,1168.3 523.1,1167.0 523.4,1165.6 523.7,1165.2 524.0,1163.3 524.3,1162.5 524.6,1162.4 525.0,1161.4 525.4,1159.9 525.9,1158.1 526.3,1157.0 526.8,1156.7 527.4,1155.4 528.1,1154.5 528.8,1154.2 529.7,1153.5 530.6,1152.8 531.6,1152.6 532.6,1151.4 533.6,1151.2 534.6,1149.5 535.5,1148.0 536.5,1147.5 537.5,1146.5 538.5,1145.4 539.4,1145.0 540.3,1144.5 541.2,1144.0 542.1,1144.6 543.0,1145.2 543.9,1144.6 544.6,1145.5 545.1,1147.2 545.5,1148.9 545.8,1149.4 546.1,1150.7 546.4,1151.2 546.7,1152.1 547.1,1153.1 547.4,1154.6 547.8,1156.6 548.1,1158.4 548.5,1159.6 548.9,1160.0 549.2,1161.3 549.6,1163.4 550.0,1164.7 550.3,1165.3 550.8,1165.7 551.4,1167.4 552.2,1168.5 553.1,1168.2 554.2,1169.2 555.3,1169.4 556.3,1170.4 557.4,1170.8 558.6,1170.9 559.7,1171.6 561.0,1171.9 562.2,1172.6 563.4,1172.1 564.6,1171.2 565.7,1171.1 566.6,1170.6 567.4,1170.3 568.1,1168.7 568.8,1167.6 569.5,1166.3 570.3,1166.3 571.0,1165.0 571.8,1163.9 572.5,1162.9 573.2,1161.8 574.0,1160.2 574.8,1160.0 575.6,1160.4 576.4,1161.3 577.3,1161.2 578.1,1162.0 579.0,1163.2 579.8,1164.4 580.7,1165.1 581.6,1166.5 582.5,1168.1 583.5,1168.3 584.5,1167.7 585.5,1168.7 586.6,1168.8 587.7,1168.7 588.8,1168.0 589.9,1168.4 591.0,1168.2 592.1,1167.0 593.2,1166.4 594.3,1166.1 595.3,1166.0 596.3,1164.3 597.4,1162.9 598.4,1162.1 599.5,1161.4 600.5,1160.5 601.6,1160.2 602.6,1160.4 603.5,1160.2 604.4,1161.2 605.2,1161.2 605.8,1161.3 606.5,1162.1 607.1,1162.9 607.7,1164.4 608.3,1165.7 608.9,1166.4 609.5,1168.1 610.1,1169.3 610.7,1170.4 611.3,1171.8 611.9,1172.3 612.6,1172.8 613.2,1174.7 613.9,1175.7 614.6,1175.8 615.3,1177.0 616.0,1178.4 616.7,1179.8 617.5,1180.1 618.2,1181.5 619.0,1182.4 619.7,1183.8 620.4,1183.7 621.1,1184.5 621.8,1185.8 622.5,1185.5 623.3,1186.3 624.3,1187.2 625.3,1186.5 626.4,1186.8 627.4,1185.4 628.5,1185.1 629.5,1184.9 630.7,1184.9 631.9,1183.9 633.3,1183.6 634.7,1183.6 636.0,1183.2 637.3,1183.0 638.3,1183.2 639.3,1182.3"/><path d="M425.2,1169.6L426.0,1169.7 426.7,1171.8 427.7,1173.3 428.7,1172.1 429.9,1173.2 431.0,1173.5 432.1,1173.8 433.3,1175.5 434.6,1176.0 435.9,1175.2 437.2,1174.3 438.4,1174.9 439.7,1173.4 441.0,1174.1 442.2,1174.2 443.5,1173.5 444.6,1174.6 445.8,1174.5 446.9,1174.0 448.0,1173.2 449.1,1173.7 450.2,1171.7 451.3,1171.0 452.6,1172.5 453.8,1171.7 454.9,1172.6 456.0,1173.9 456.9,1175.1 457.9,1175.9 458.8,1174.7 459.7,1174.9 460.4,1174.3 461.1,1174.6 461.8,1172.6 462.6,1171.4 463.5,1171.0 464.6,1171.7 465.8,1171.4 467.1,1172.0 468.4,1171.6 469.7,1171.7 470.8,1172.1 471.8,1171.9 472.6,1172.7 473.4,1173.4 474.1,1174.5 474.8,1176.9 475.5,1176.6 476.3,1175.7 477.0,1174.8 477.7,1172.9 478.4,1173.1 479.1,1171.3 480.0,1169.8 480.9,1169.9 481.7,1168.9 482.4,1168.2 483.0,1166.4 483.6,1167.5 484.2,1166.4 484.8,1163.4 485.4,1162.6 486.0,1160.4 486.6,1159.2 487.2,1158.5 487.7,1157.8 488.3,1158.9 488.8,1157.1 489.4,1155.9 489.9,1154.9 490.4,1152.8 490.9,1152.1 491.4,1151.6 491.9,1150.2 492.5,1148.3 493.1,1146.9 493.9,1147.2 494.7,1146.9 495.4,1146.5 496.1,1145.5 496.7,1146.0 497.3,1147.3 498.0,1149.3 498.6,1150.3 499.3,1151.9 499.8,1153.2 500.3,1153.8 500.8,1154.5 501.2,1156.5 501.5,1157.1 501.8,1157.8 502.1,1157.9 502.4,1159.7 502.7,1161.3 502.9,1162.0 503.1,1163.1 503.3,1164.7 503.5,1165.2 503.6,1166.2 503.8,1166.7 503.9,1167.3 504.1,1169.0 504.2,1170.5 504.4,1171.7 504.6,1172.6 504.7,1174.3 504.9,1175.4 505.1,1175.5 505.3,1176.8 505.5,1179.2 505.8,1180.8 506.0,1181.7 506.2,1182.1 506.4,1183.8 506.6,1184.0 506.8,1185.1 507.0,1187.1 507.2,1188.4 507.4,1188.8 507.7,1190.7 507.9,1191.5 508.1,1192.9 508.4,1194.3 508.6,1196.3 508.9,1197.2 509.1,1198.0 509.3,1200.2 509.6,1201.1 509.8,1202.6 510.1,1202.7 510.3,1203.4 510.5,1204.7 510.8,1205.6 511.0,1206.0 511.2,1207.5 511.4,1208.5 511.7,1208.6 512.1,1208.7 512.6,1208.8 513.1,1207.3 513.5,1205.6 513.9,1204.4 514.4,1203.6 514.8,1201.1 515.2,1199.8 515.7,1198.8 516.2,1198.6 516.7,1197.4 517.3,1196.1 517.9,1194.8 518.4,1193.5 518.9,1192.2 519.2,1191.6 519.5,1191.1 519.8,1190.2 520.0,1188.5 520.3,1187.1 520.5,1186.4 520.8,1186.2 521.1,1185.0 521.3,1183.9 521.6,1182.1 521.9,1180.8 522.1,1179.9 522.4,1177.8 522.7,1176.5 522.9,1175.3 523.2,1174.1 523.5,1173.1 523.8,1172.9 524.1,1171.3 524.4,1170.0 524.7,1168.6 525.0,1167.0 525.3,1165.8 525.6,1164.9 525.9,1164.9 526.3,1163.2 526.6,1162.4 527.1,1162.2 527.7,1161.0 528.2,1159.6 528.9,1157.8 529.7,1157.4 530.6,1157.5 531.7,1156.7 532.8,1156.3 534.0,1155.1 535.2,1154.8 536.5,1155.0 537.7,1154.3 538.9,1153.2 540.2,1153.8 541.4,1152.9 542.6,1152.7 543.6,1154.2 544.6,1154.8 545.5,1154.4 546.5,1155.4 547.4,1156.1 548.3,1157.3 549.2,1158.8 550.0,1159.3 550.7,1161.0 551.3,1161.6 551.8,1162.3 552.3,1163.3 552.8,1164.5 553.4,1165.0 553.9,1166.1 554.4,1167.6 555.0,1169.0 555.5,1170.4 556.0,1170.2 556.5,1171.7 557.1,1173.3 557.8,1174.1 558.7,1174.1 559.6,1175.3 560.6,1176.5 561.7,1177.7 562.7,1177.2 563.8,1176.9 564.8,1176.7 565.6,1176.8 566.4,1176.1 567.0,1175.7 567.7,1174.6 568.4,1173.1 569.1,1172.6 569.9,1171.2 570.6,1170.2 571.4,1168.1 572.1,1167.0 572.9,1166.8 573.6,1165.3 574.3,1164.0 575.0,1163.8 575.6,1163.3 576.3,1163.6 576.9,1164.1 577.5,1164.3 578.1,1165.6 578.7,1166.4 579.2,1166.3 579.8,1167.4 580.3,1169.5 580.9,1169.9 581.4,1171.1 581.9,1172.1 582.5,1173.9 583.0,1175.2 583.5,1176.0 584.0,1176.9 584.5,1178.4 585.2,1179.9 586.0,1180.9 586.9,1182.1 587.7,1182.4 588.6,1184.1 589.5,1184.5 590.4,1184.0 591.4,1184.2 592.2,1184.8 593.0,1183.9 593.8,1183.3 594.5,1183.0 595.2,1181.7 596.0,1180.7 596.8,1179.7 597.6,1178.6 598.3,1177.4 599.1,1176.6 599.8,1174.9 600.5,1173.8 601.2,1174.2 601.9,1173.7 602.6,1172.5 603.4,1171.5 604.2,1169.9 605.0,1168.7 605.7,1167.7 606.4,1166.3 607.1,1166.2 607.7,1167.1 608.1,1168.3 608.6,1169.2 609.0,1170.6 609.4,1171.2 609.9,1171.6 610.4,1172.3 610.8,1174.3 611.3,1174.9 611.9,1176.8 612.4,1178.6 613.0,1179.3 613.6,1179.3 614.2,1180.5 614.8,1181.5 615.5,1182.5 616.3,1183.6 617.1,1185.5 617.9,1185.9 618.8,1186.8 619.7,1187.6 620.5,1188.8 621.5,1189.3 622.3,1190.5 623.2,1192.2 624.1,1192.1 624.9,1193.4 625.7,1194.2 626.5,1194.2 627.3,1193.5 628.3,1193.5 629.2,1194.0 630.1,1192.7 631.0,1192.0 631.8,1191.2 632.6,1189.8 633.3,1188.5 634.1,1187.7 635.0,1186.8 636.2,1185.8 637.3,1185.0 638.3,1184.3 639.3,1184.1"/><path d="M425.2,1225.5L426.2,1227.7 427.2,1227.6 428.5,1225.7 429.8,1227.4 431.2,1227.5 432.4,1226.7 433.5,1224.9 434.5,1225.7 435.4,1224.3 436.2,1223.9 436.9,1222.5 437.6,1222.2 438.2,1221.7 438.9,1221.1 439.5,1222.7 440.0,1224.8 440.7,1225.9 441.3,1226.4 442.1,1225.4 442.9,1227.2 443.9,1228.2 445.0,1226.8 446.1,1226.2 447.3,1227.9 448.5,1228.0 449.7,1228.4 451.0,1226.5 452.2,1225.8 453.4,1227.4 454.6,1228.6 455.9,1228.0 457.1,1226.6 458.3,1226.9 459.5,1226.7 460.6,1227.7 461.7,1228.6 462.7,1227.6 463.8,1226.9 464.7,1225.6 465.6,1225.9 466.4,1226.3 467.2,1224.0 468.1,1222.6 469.0,1223.0 469.8,1222.9 470.6,1221.3 471.3,1223.0 472.1,1224.2 472.9,1225.0 473.8,1225.7 474.7,1226.9 475.7,1227.5 476.8,1226.0 477.9,1225.3 479.0,1225.3 480.0,1225.8 480.9,1224.8 481.6,1224.6 482.4,1224.0 483.1,1222.9 483.8,1222.3 484.5,1221.1 485.2,1220.1 485.7,1219.5 486.2,1217.2 486.7,1215.5 487.1,1216.3 487.5,1214.3 487.8,1212.7 488.2,1211.2 488.6,1211.5 489.1,1211.0 489.6,1208.4 490.3,1207.9 491.1,1206.2 492.0,1205.7 492.8,1204.9 493.7,1205.2 494.5,1205.1 495.1,1204.4 495.8,1204.5 496.3,1205.7 496.7,1206.6 497.1,1206.8 497.5,1208.5 498.0,1210.3 498.3,1211.4 498.7,1211.5 499.1,1213.0 499.5,1213.4 499.8,1214.9 500.2,1216.5 500.6,1217.5 501.0,1218.2 501.3,1219.7 501.6,1220.3 501.8,1221.3 502.0,1223.0 502.3,1223.2 502.5,1225.0 502.7,1225.3 502.9,1227.1 503.1,1227.7 503.3,1228.6 503.5,1229.5 503.8,1231.6 504.0,1233.4 504.2,1234.6 504.5,1235.0 504.7,1236.0 505.0,1236.9 505.2,1238.3 505.4,1240.1 505.6,1240.7 505.8,1241.7 506.0,1242.9 506.3,1244.2 506.5,1245.9 506.7,1248.1 506.9,1249.5 507.2,1250.7 507.4,1251.8 507.6,1253.5 507.9,1254.3 508.1,1256.1 508.3,1257.3 508.6,1258.4 508.8,1259.0 509.1,1259.3 509.3,1260.6 509.6,1260.9 509.9,1260.7 510.2,1261.4 510.5,1261.3 511.0,1261.0 511.4,1261.0 511.9,1260.8 512.3,1258.9 512.8,1257.9 513.3,1257.2 513.8,1255.6 514.2,1254.7 514.7,1253.2 515.1,1251.4 515.5,1249.7 515.9,1248.4 516.3,1247.4 516.7,1246.4 517.0,1244.3 517.3,1244.0 517.6,1242.2 517.9,1240.6 518.2,1240.1 518.4,1238.8 518.7,1237.8 518.9,1236.6 519.2,1236.2 519.5,1234.9 519.7,1233.6 520.0,1233.3 520.3,1231.4 520.6,1231.4 520.9,1230.3 521.2,1228.3 521.5,1227.7 521.8,1226.2 522.1,1224.5 522.5,1223.5 522.8,1222.7 523.1,1221.4 523.5,1220.3 523.8,1219.7 524.2,1218.7 524.6,1218.3 525.0,1217.0 525.4,1214.9 525.8,1214.3 526.3,1212.8 526.7,1212.1 527.1,1210.9 527.5,1210.5 527.9,1209.1 528.4,1208.7 528.8,1207.6 529.3,1205.5 529.9,1204.8 530.5,1202.6 531.1,1201.5 531.7,1201.2 532.4,1201.3 533.2,1200.7 534.0,1201.7 534.9,1202.6 535.8,1202.4 536.8,1204.1 537.7,1204.9 538.5,1205.8 539.1,1206.6 539.7,1207.4 540.2,1208.5 540.7,1210.1 541.3,1211.1 541.8,1211.9 542.3,1212.6 542.9,1212.9 543.4,1213.6 543.9,1215.7 544.5,1216.6 545.0,1217.6 545.6,1218.9 546.1,1219.5 546.6,1220.6 547.0,1222.0 547.5,1223.0 548.0,1223.0 548.4,1224.2 548.9,1226.8 549.4,1228.1 549.9,1229.1 550.3,1230.2 550.8,1230.7 551.3,1230.8 551.7,1232.2 552.2,1233.3 552.7,1234.5 553.2,1235.4 553.9,1236.3 554.7,1237.4 555.6,1237.2 556.7,1237.6 557.7,1238.5 558.7,1239.5 559.8,1240.2 560.9,1239.7 562.0,1239.5 563.1,1239.4 564.3,1239.9 565.4,1240.8 566.6,1240.5 567.7,1240.6 568.9,1240.9 570.0,1241.6 571.1,1241.4 572.4,1240.3 573.6,1241.0 574.8,1240.7 576.0,1239.9 577.2,1240.5 578.3,1240.5 579.4,1239.5 580.4,1240.5 581.4,1241.5 582.4,1241.2 583.3,1241.7 584.2,1242.8 585.1,1243.9 585.9,1244.0 586.7,1245.4 587.4,1246.6 588.0,1247.8 588.7,1249.0 589.4,1249.2 590.1,1249.7 590.8,1249.0 591.5,1247.9 592.2,1246.8 593.0,1246.1 593.7,1244.7 594.5,1243.9 595.3,1242.9 596.1,1241.6 596.8,1239.8 597.6,1239.2 598.5,1237.8 599.4,1237.8 600.5,1236.2 601.5,1235.6 602.6,1235.4 603.6,1235.6 604.6,1235.1 605.6,1235.2 606.4,1236.4 607.2,1236.3 607.9,1236.7 608.7,1238.5 609.5,1239.7 610.2,1239.8 611.0,1240.9 611.7,1242.6 612.4,1243.0 613.1,1243.8 613.8,1244.8 614.4,1245.9 614.9,1247.1 615.5,1248.1 616.1,1249.8 616.7,1250.6 617.3,1251.3 617.8,1251.9 618.4,1253.2 619.0,1254.1 619.5,1255.5 620.1,1256.6 620.7,1257.7 621.5,1257.9 622.2,1259.7 623.0,1260.2 623.8,1261.7 624.6,1262.3 625.4,1263.1 626.2,1264.4 627.1,1265.4 628.2,1265.7 629.3,1265.4 630.6,1264.8 631.8,1265.5 633.0,1266.0 634.1,1266.3 635.3,1267.3 636.5,1267.2 637.5,1267.9 638.4,1267.5 639.3,1267.9"/><path d="M425.2,1227.4L426.2,1227.9 427.2,1227.7 428.5,1228.8 429.8,1228.1 431.2,1227.9 432.5,1229.3 433.7,1229.2 434.9,1228.8 436.1,1227.4 437.2,1225.6 438.3,1225.6 439.3,1226.1 440.4,1227.7 441.5,1227.1 442.7,1229.0 443.8,1228.1 445.0,1228.4 446.1,1229.5 447.3,1229.7 448.5,1229.3 449.7,1229.3 451.0,1229.4 452.2,1229.1 453.4,1227.9 454.6,1228.1 455.9,1228.0 457.1,1229.4 458.3,1229.1 459.5,1228.9 460.6,1229.4 461.7,1230.7 462.9,1229.0 464.1,1230.2 465.2,1229.6 466.2,1227.3 467.1,1227.4 468.1,1225.6 469.0,1225.5 469.9,1224.2 470.7,1224.7 471.6,1225.8 472.6,1226.6 473.6,1228.3 474.6,1228.2 475.7,1227.0 476.8,1228.0 477.9,1227.1 479.0,1227.0 480.0,1227.2 480.9,1226.8 481.6,1227.1 482.4,1227.6 483.1,1226.2 483.8,1224.7 484.5,1223.9 485.1,1221.5 485.7,1221.8 486.3,1221.9 486.8,1220.6 487.2,1218.3 487.6,1217.0 488.0,1215.3 488.5,1214.7 489.0,1214.6 489.5,1212.1 490.2,1212.1 491.0,1210.1 491.9,1209.5 493.0,1208.5 494.0,1207.0 495.0,1206.7 495.9,1206.1 496.7,1207.4 497.4,1207.9 497.9,1208.1 498.4,1209.2 498.8,1210.1 499.2,1210.5 499.6,1211.3 499.9,1212.8 500.3,1213.9 500.7,1215.0 501.1,1216.3 501.4,1217.5 501.8,1218.1 502.2,1218.4 502.6,1220.1 502.9,1222.0 503.2,1223.2 503.4,1223.2 503.6,1224.8 503.9,1225.7 504.1,1226.6 504.3,1228.2 504.5,1228.6 504.7,1229.5 504.9,1231.2 505.1,1232.5 505.4,1233.1 505.6,1234.6 505.8,1235.8 506.1,1237.5 506.3,1238.1 506.6,1240.2 506.8,1240.9 507.0,1241.5 507.2,1242.9 507.4,1244.8 507.6,1245.7 507.9,1246.3 508.1,1247.6 508.3,1249.0 508.5,1251.2 508.8,1252.7 509.0,1253.5 509.2,1255.7 509.5,1256.9 509.7,1258.2 509.9,1258.5 510.2,1259.4 510.4,1261.0 510.7,1262.4 510.9,1262.5 511.2,1262.9 511.5,1263.4 511.8,1262.9 512.1,1263.1 512.6,1263.3 513.0,1263.4 513.5,1262.4 513.9,1261.5 514.4,1260.0 514.9,1258.8 515.4,1257.2 515.8,1255.1 516.3,1254.2 516.7,1252.8 517.1,1251.7 517.5,1250.0 517.9,1248.1 518.3,1247.0 518.6,1246.7 518.9,1246.0 519.2,1244.9 519.5,1242.8 519.8,1241.3 520.0,1240.7 520.3,1240.8 520.5,1239.3 520.8,1237.6 521.1,1237.3 521.3,1236.4 521.6,1235.3 521.9,1233.6 522.2,1233.2 522.5,1231.7 522.8,1230.5 523.1,1228.9 523.4,1228.8 523.7,1227.9 524.1,1226.2 524.4,1224.8 524.7,1223.2 525.1,1222.8 525.4,1222.0 525.8,1221.1 526.3,1219.6 526.7,1217.7 527.2,1216.9 527.6,1215.4 528.1,1213.3 528.6,1211.9 529.0,1211.0 529.5,1210.2 530.0,1210.0 530.6,1209.7 531.6,1209.7 532.7,1209.7 533.9,1209.9 535.1,1209.9 536.3,1209.2 537.6,1209.6 538.9,1209.9 540.0,1209.8 540.8,1210.6 541.5,1212.3 542.1,1212.3 542.7,1212.4 543.3,1213.5 543.9,1215.3 544.6,1216.8 545.2,1217.1 545.8,1218.6 546.4,1219.8 547.1,1220.7 547.6,1221.5 548.1,1222.2 548.6,1223.2 549.1,1224.3 549.6,1226.2 550.0,1227.4 550.5,1229.0 551.0,1230.0 551.5,1230.6 551.9,1232.4 552.4,1233.3 552.9,1234.2 553.3,1235.0 553.8,1235.6 554.3,1237.1 554.8,1237.4 555.5,1237.6 556.3,1238.9 557.2,1240.6 558.3,1241.4 559.3,1241.1 560.3,1241.0 561.4,1241.9 562.5,1242.4 563.6,1241.7 564.7,1242.7 565.9,1243.2 567.0,1243.2 568.2,1243.5 569.3,1243.0 570.5,1242.9 571.6,1243.7 572.7,1243.5 574.0,1242.2 575.2,1241.8 576.4,1242.5 577.6,1242.3 578.8,1241.6 579.9,1241.4 581.0,1242.6 582.0,1242.7 583.0,1243.6 584.0,1244.3 584.9,1245.1 585.8,1246.5 586.7,1247.2 587.5,1247.7 588.3,1248.6 589.0,1250.0 589.6,1250.8 590.3,1250.8 591.0,1251.4 591.7,1250.4 592.4,1250.5 593.1,1249.4 593.8,1247.9 594.6,1246.9 595.3,1245.9 596.1,1245.0 596.9,1243.4 597.7,1242.3 598.4,1241.6 599.2,1241.5 600.1,1240.6 601.0,1239.4 602.1,1238.2 603.1,1238.4 604.2,1238.4 605.2,1238.0 606.2,1237.6 607.1,1237.4 607.9,1238.9 608.7,1239.2 609.4,1240.2 610.1,1240.4 610.8,1241.5 611.5,1242.3 612.2,1242.2 612.8,1243.0 613.5,1244.4 614.1,1246.1 614.7,1247.0 615.2,1248.1 615.7,1249.8 616.2,1250.5 616.6,1251.7 617.0,1252.6 617.4,1253.2 617.8,1254.9 618.2,1255.4 618.7,1257.5 619.1,1258.8 619.5,1259.2 620.0,1260.5 620.5,1261.7 621.1,1262.5 621.8,1262.8 622.5,1264.1 623.3,1266.0 624.2,1266.6 625.0,1266.6 625.9,1267.7 626.7,1268.3 627.5,1268.5 628.3,1268.8 629.1,1269.8 630.0,1271.3 631.1,1272.1 632.3,1272.6 633.5,1272.6 634.7,1273.2 635.9,1274.1 637.2,1274.9 638.2,1274.6 639.3,1275.4"/>
</g>
<g stroke="#000" stroke-width="3.7" stroke-dasharray="23.3 12.55" stroke-linecap="round" fill="none"><line x1="130.8" y1="97.64999999999999" x2="132.8" y2="372.15"/><line x1="175.3" y1="97.64999999999999" x2="176" y2="372.15"/><line x1="495.3" y1="97.35" x2="496" y2="389.34999999999997"/><line x1="537.3" y1="94.85" x2="537.8" y2="389.34999999999997"/><line x1="137.5" y1="508.35" x2="142" y2="810.65"/><line x1="179.7" y1="512.35" x2="179.3" y2="811.65"/><line x1="497.2" y1="518.0500000000001" x2="496.8" y2="791.55"/><line x1="539.2" y1="516.85" x2="539.2" y2="789.65"/><line x1="147.3" y1="953.35" x2="147" y2="1263.3500000000001"/><line x1="183.6" y1="952.35" x2="184.2" y2="1262.8500000000001"/><line x1="495.5" y1="947.15" x2="495.2" y2="1256.65"/><line x1="532.3" y1="945.35" x2="532.4" y2="1255.65"/></g>
<g stroke="#000" stroke-width="3.7" fill="none" stroke-linecap="round" stroke-linejoin="round"><path d="M47,314.85 L47,400.3 M43.95,400.3 L150.2,400.3"/><path d="M43.05,750.85 L43.05,835.6 L150.05,835.6"/><path d="M54.9,1208.65 L54.9,1293.8 L161.05,1293.8"/></g>
<g stroke="#000" stroke-width="1.2"><line x1="108.9" y1="99.6" x2="129.6" y2="106.7"/><line x1="159.6" y1="85.7" x2="173" y2="111"/></g>
<text x="11.5" y="38.5" font-size="33" text-anchor="start" font-weight="bold">(A)</text><text x="10" y="495.4" font-size="33" text-anchor="start" font-weight="bold">(B)</text><text x="11" y="926.8" font-size="33" text-anchor="start" font-weight="bold">(C)</text><text x="173" y="20.2" font-size="24.5" text-anchor="middle">Meclizine +</text><text x="173.4" y="55.3" font-size="24.5" text-anchor="middle">10% Kolliphor EL</text><text x="534" y="38.6" font-size="24.5" text-anchor="middle">10% Kolliphor EL</text><text x="176.8" y="495.2" font-size="24.5" text-anchor="middle">Diazepam + BPEW</text><text x="524.1" y="494.9" font-size="24.5" text-anchor="middle">BPEW</text><text x="198.7" y="927.3" font-size="24.5" text-anchor="middle">JNJ7777120 + DMSO</text><text x="499.8" y="926.6" font-size="24.5" text-anchor="middle">100% DMSO</text><text x="360.3" y="130.2" font-size="29.7" text-anchor="middle">Baseline</text><text x="357.4" y="193.9" font-size="29.7" text-anchor="middle">PD1</text><text x="358" y="259.1" font-size="29.7" text-anchor="middle">PD2</text><text x="357" y="320.4" font-size="29.7" text-anchor="middle">PD3</text><text x="357.4" y="377.6" font-size="29.7" text-anchor="middle">PD4</text><text x="356" y="545.4" font-size="29.7" text-anchor="middle">Baseline</text><text x="349.5" y="605.7" font-size="29.7" text-anchor="middle">PD1</text><text x="348.6" y="668" font-size="29.7" text-anchor="middle">PD2</text><text x="349.2" y="731.5" font-size="29.7" text-anchor="middle">PD3</text><text x="348.9" y="797.4" font-size="29.7" text-anchor="middle">PD4</text><text x="361.2" y="988" font-size="29.7" text-anchor="middle">Baseline</text><text x="354.6" y="1045.7" font-size="29.7" text-anchor="middle">PD1</text><text x="354.1" y="1109.6" font-size="29.7" text-anchor="middle">PD2</text><text x="354.6" y="1175.9" font-size="29.7" text-anchor="middle">PD3</text><text x="356.8" y="1244.3" font-size="29.7" text-anchor="middle">PD4</text><text x="84" y="99.1" font-size="21" text-anchor="start">P1</text><text x="141.9" y="81.1" font-size="21" text-anchor="start">P2</text><text x="28.1" y="360.6" font-size="30.3" text-anchor="middle" transform="rotate(-90 28.1 360.6)">2 μV</text><text x="93.2" y="432.8" font-size="29.7" text-anchor="middle">2 ms</text><text x="24.8" y="796.0" font-size="30.3" text-anchor="middle" transform="rotate(-90 24.8 796.0)">2 μV</text><text x="92.2" y="866.4" font-size="29.7" text-anchor="middle">2 ms</text><text x="36.0" y="1253.9" font-size="30.3" text-anchor="middle" transform="rotate(-90 36.0 1253.9)">2 μV</text><text x="103.1" y="1323.1" font-size="29.7" text-anchor="middle">2 ms</text>
</svg>
</body></html>
